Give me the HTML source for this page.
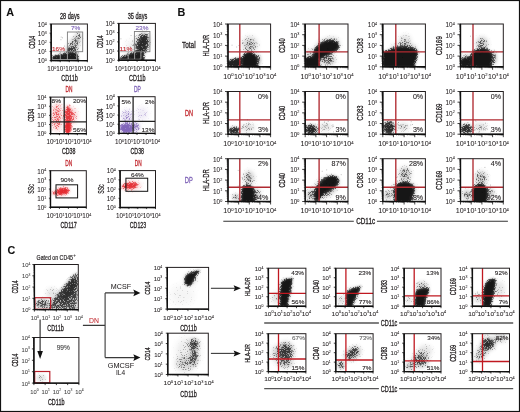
<!DOCTYPE html>
<html><head><meta charset="utf-8"><style>
html,body{margin:0;padding:0;background:#fff;width:520px;height:412px;overflow:hidden;font-family:"Liberation Sans", sans-serif;}
svg{display:block;will-change:transform;}
</style></head><body>
<svg width="520" height="412" viewBox="0 0 520 412" font-family='"Liberation Sans", sans-serif'>
<defs><filter id="b1" x="-50%" y="-50%" width="200%" height="200%"><feGaussianBlur stdDeviation="0.1"/></filter><filter id="b2" x="-50%" y="-50%" width="200%" height="200%"><feGaussianBlur stdDeviation="0.2"/></filter><filter id="b3" x="-50%" y="-50%" width="200%" height="200%"><feGaussianBlur stdDeviation="0.3"/></filter><filter id="b4" x="-50%" y="-50%" width="200%" height="200%"><feGaussianBlur stdDeviation="0.4"/></filter><filter id="b5" x="-50%" y="-50%" width="200%" height="200%"><feGaussianBlur stdDeviation="0.5"/></filter><filter id="b6" x="-50%" y="-50%" width="200%" height="200%"><feGaussianBlur stdDeviation="0.6"/></filter><filter id="b7" x="-50%" y="-50%" width="200%" height="200%"><feGaussianBlur stdDeviation="0.7"/></filter><filter id="b8" x="-50%" y="-50%" width="200%" height="200%"><feGaussianBlur stdDeviation="0.8"/></filter><filter id="b9" x="-50%" y="-50%" width="200%" height="200%"><feGaussianBlur stdDeviation="0.9"/></filter><filter id="b10" x="-50%" y="-50%" width="200%" height="200%"><feGaussianBlur stdDeviation="1.0"/></filter><filter id="b11" x="-50%" y="-50%" width="200%" height="200%"><feGaussianBlur stdDeviation="1.1"/></filter><filter id="b12" x="-50%" y="-50%" width="200%" height="200%"><feGaussianBlur stdDeviation="1.2"/></filter><filter id="b13" x="-50%" y="-50%" width="200%" height="200%"><feGaussianBlur stdDeviation="1.3"/></filter><filter id="b14" x="-50%" y="-50%" width="200%" height="200%"><feGaussianBlur stdDeviation="1.4"/></filter><filter id="b15" x="-50%" y="-50%" width="200%" height="200%"><feGaussianBlur stdDeviation="1.5"/></filter><filter id="b16" x="-50%" y="-50%" width="200%" height="200%"><feGaussianBlur stdDeviation="1.6"/></filter><filter id="b17" x="-50%" y="-50%" width="200%" height="200%"><feGaussianBlur stdDeviation="1.7"/></filter><filter id="b18" x="-50%" y="-50%" width="200%" height="200%"><feGaussianBlur stdDeviation="1.8"/></filter><filter id="b19" x="-50%" y="-50%" width="200%" height="200%"><feGaussianBlur stdDeviation="1.9"/></filter><filter id="b20" x="-50%" y="-50%" width="200%" height="200%"><feGaussianBlur stdDeviation="2.0"/></filter><filter id="b21" x="-50%" y="-50%" width="200%" height="200%"><feGaussianBlur stdDeviation="2.1"/></filter><filter id="b22" x="-50%" y="-50%" width="200%" height="200%"><feGaussianBlur stdDeviation="2.2"/></filter><filter id="b23" x="-50%" y="-50%" width="200%" height="200%"><feGaussianBlur stdDeviation="2.3"/></filter><filter id="b24" x="-50%" y="-50%" width="200%" height="200%"><feGaussianBlur stdDeviation="2.4"/></filter><filter id="b25" x="-50%" y="-50%" width="200%" height="200%"><feGaussianBlur stdDeviation="2.5"/></filter><filter id="b26" x="-50%" y="-50%" width="200%" height="200%"><feGaussianBlur stdDeviation="2.6"/></filter><filter id="b27" x="-50%" y="-50%" width="200%" height="200%"><feGaussianBlur stdDeviation="2.7"/></filter><filter id="b28" x="-50%" y="-50%" width="200%" height="200%"><feGaussianBlur stdDeviation="2.8"/></filter><filter id="b29" x="-50%" y="-50%" width="200%" height="200%"><feGaussianBlur stdDeviation="2.9"/></filter><filter id="b30" x="-50%" y="-50%" width="200%" height="200%"><feGaussianBlur stdDeviation="3.0"/></filter></defs>
<defs><filter id="spkK" filterUnits="userSpaceOnUse" x="0" y="0" width="520" height="412" color-interpolation-filters="sRGB"><feTurbulence type="fractalNoise" baseFrequency="1.29" numOctaves="2" seed="3" result="n"/><feColorMatrix in="n" type="matrix" values="0 0 0 0 0  0 0 0 0 0  0 0 0 0 0  2.5 0 0 0 -0.75" result="na"/><feComposite in="SourceAlpha" in2="na" operator="arithmetic" k2="3.212" k3="-2.2" k4="0" result="m"/><feComposite in="SourceAlpha" in2="m" operator="arithmetic" k2="0.5" k3="0.5" k4="0" result="m2"/><feGaussianBlur in="m2" stdDeviation="0.5" result="mb"/><feFlood flood-color="#161616"/><feComposite in2="mb" operator="in"/></filter><filter id="spkR" filterUnits="userSpaceOnUse" x="0" y="0" width="520" height="412" color-interpolation-filters="sRGB"><feTurbulence type="fractalNoise" baseFrequency="1.29" numOctaves="2" seed="5" result="n"/><feColorMatrix in="n" type="matrix" values="0 0 0 0 0  0 0 0 0 0  0 0 0 0 0  2.5 0 0 0 -0.75" result="na"/><feComposite in="SourceAlpha" in2="na" operator="arithmetic" k2="3.212" k3="-2.2" k4="0" result="m"/><feComposite in="SourceAlpha" in2="m" operator="arithmetic" k2="0.5" k3="0.5" k4="0" result="m2"/><feGaussianBlur in="m2" stdDeviation="0.5" result="mb"/><feFlood flood-color="#e3262c"/><feComposite in2="mb" operator="in"/></filter><filter id="spkP" filterUnits="userSpaceOnUse" x="0" y="0" width="520" height="412" color-interpolation-filters="sRGB"><feTurbulence type="fractalNoise" baseFrequency="1.29" numOctaves="2" seed="7" result="n"/><feColorMatrix in="n" type="matrix" values="0 0 0 0 0  0 0 0 0 0  0 0 0 0 0  2.5 0 0 0 -0.75" result="na"/><feComposite in="SourceAlpha" in2="na" operator="arithmetic" k2="3.212" k3="-2.2" k4="0" result="m"/><feComposite in="SourceAlpha" in2="m" operator="arithmetic" k2="0.5" k3="0.5" k4="0" result="m2"/><feGaussianBlur in="m2" stdDeviation="0.5" result="mb"/><feFlood flood-color="#7a5cb6"/><feComposite in2="mb" operator="in"/></filter><filter id="spkG" filterUnits="userSpaceOnUse" x="0" y="0" width="520" height="412" color-interpolation-filters="sRGB"><feTurbulence type="fractalNoise" baseFrequency="1.29" numOctaves="2" seed="9" result="n"/><feColorMatrix in="n" type="matrix" values="0 0 0 0 0  0 0 0 0 0  0 0 0 0 0  2.5 0 0 0 -0.75" result="na"/><feComposite in="SourceAlpha" in2="na" operator="arithmetic" k2="3.212" k3="-2.2" k4="0" result="m"/><feComposite in="SourceAlpha" in2="m" operator="arithmetic" k2="0.5" k3="0.5" k4="0" result="m2"/><feGaussianBlur in="m2" stdDeviation="0.5" result="mb"/><feFlood flood-color="#555"/><feComposite in2="mb" operator="in"/></filter></defs>
<rect x="0" y="0" width="520" height="412" fill="#fff"/>
<text transform="translate(6.20,15.80)" font-size="10.8" fill="#111" text-anchor="start" font-weight="bold" stroke="#111" stroke-width="0.06">A</text>
<text transform="translate(177.60,16.00)" font-size="10.8" fill="#111" text-anchor="start" font-weight="bold" stroke="#111" stroke-width="0.06">B</text>
<text transform="translate(7.60,254.30)" font-size="10.8" fill="#111" text-anchor="start" font-weight="bold" stroke="#111" stroke-width="0.06">C</text>
<clipPath id="c1"><rect x="51.20" y="24.00" width="36.20" height="36.60"/></clipPath><g clip-path="url(#c1)">
<g filter="url(#spkK)">
<path d="M52.00 61.00 L52.00 57.00 L56.00 55.50 L61.00 54.50 L66.00 53.20 L72.00 52.80 L77.00 53.00 L78.50 61.00Z" fill="#000" fill-opacity="0.35" stroke="#000" stroke-opacity="0.35" stroke-width="1.6" stroke-linejoin="round" filter="url(#b12)"/>
<path d="M52.00 61.00 L52.00 57.00 L56.00 55.50 L61.00 54.50 L66.00 53.20 L72.00 52.80 L77.00 53.00 L78.50 61.00Z" fill="#000" fill-opacity="0.892" filter="url(#b10)"/>
<ellipse cx="73.50" cy="45.50" rx="5.00" ry="8.50" transform="rotate(30 73.50 45.50)" fill="#000" fill-opacity="0.489" filter="url(#b20)"/>
<ellipse cx="71.00" cy="50.00" rx="6.00" ry="3.00" transform="rotate(0 71.00 50.00)" fill="#000" fill-opacity="0.489" filter="url(#b15)"/>
<ellipse cx="78.00" cy="37.00" rx="3.50" ry="5.00" transform="rotate(20 78.00 37.00)" fill="#000" fill-opacity="0.368" filter="url(#b15)"/>
</g>
<path transform="scale(.1)" d="M640 461h7M621 378h7M608 371h7M644 534h7M606 397h7" stroke="#000" stroke-width="7" stroke-opacity="0.5" fill="none"/>
</g>
<path d="M52.1 51.7H67.4M60.3 51.7V59.6M67.4 51.7V59.6M76.7 51.7V59.6M52.1 59.6H76.7" stroke="#a8a8a8" stroke-width="0.9" fill="none"/>
<rect x="67.40" y="32.00" width="15.30" height="19.70" fill="none" stroke="#7d7d7d" stroke-width="0.9"/>
<rect x="51.20" y="24.00" width="36.20" height="36.60" fill="none" stroke="#231f20" stroke-width="1.0"/>
<path d="M51.20 24.00V60.60H87.40" fill="none" stroke="#111" stroke-width="1.4"/>
<path d="M51.20 60.60v1.6M51.20 60.60h-1.6M60.25 60.60v1.6M51.20 51.45h-1.6M69.30 60.60v1.6M51.20 42.30h-1.6M78.35 60.60v1.6M51.20 33.15h-1.6M87.40 60.60v1.6M51.20 24.00h-1.6" stroke="#111" stroke-width="0.8" fill="none"/>
<path d="M53.92 60.60v0.72M51.20 57.85h-0.72M55.52 60.60v0.72M51.20 56.23h-0.72M56.65 60.60v0.72M51.20 55.09h-0.72M57.53 60.60v0.72M51.20 54.20h-0.72M58.24 60.60v0.72M51.20 53.48h-0.72M58.85 60.60v0.72M51.20 52.87h-0.72M59.37 60.60v0.72M51.20 52.34h-0.72M59.84 60.60v0.72M51.20 51.87h-0.72M62.97 60.60v0.72M51.20 48.70h-0.72M64.57 60.60v0.72M51.20 47.08h-0.72M65.70 60.60v0.72M51.20 45.94h-0.72M66.58 60.60v0.72M51.20 45.05h-0.72M67.29 60.60v0.72M51.20 44.33h-0.72M67.90 60.60v0.72M51.20 43.72h-0.72M68.42 60.60v0.72M51.20 43.19h-0.72M68.89 60.60v0.72M51.20 42.72h-0.72M72.02 60.60v0.72M51.20 39.55h-0.72M73.62 60.60v0.72M51.20 37.93h-0.72M74.75 60.60v0.72M51.20 36.79h-0.72M75.63 60.60v0.72M51.20 35.90h-0.72M76.34 60.60v0.72M51.20 35.18h-0.72M76.95 60.60v0.72M51.20 34.57h-0.72M77.47 60.60v0.72M51.20 34.04h-0.72M77.94 60.60v0.72M51.20 33.57h-0.72M81.07 60.60v0.72M51.20 30.40h-0.72M82.67 60.60v0.72M51.20 28.78h-0.72M83.80 60.60v0.72M51.20 27.64h-0.72M84.68 60.60v0.72M51.20 26.75h-0.72M85.39 60.60v0.72M51.20 26.03h-0.72M86.00 60.60v0.72M51.20 25.42h-0.72M86.52 60.60v0.72M51.20 24.89h-0.72M86.99 60.60v0.72M51.20 24.42h-0.72" stroke="#111" stroke-width="0.45" fill="none"/>
<text transform="translate(46.90,63.44)" font-size="6.3" fill="#231f20" text-anchor="end" stroke="#231f20" stroke-width="0.06">10<tspan dy="-2.27" font-size="3.65">0</tspan></text>
<text transform="translate(51.70,71.20)" font-size="6.3" fill="#231f20" text-anchor="middle" stroke="#231f20" stroke-width="0.06">10<tspan dy="-2.27" font-size="3.65">0</tspan></text>
<text transform="translate(46.90,54.29)" font-size="6.3" fill="#231f20" text-anchor="end" stroke="#231f20" stroke-width="0.06">10<tspan dy="-2.27" font-size="3.65">1</tspan></text>
<text transform="translate(60.75,71.20)" font-size="6.3" fill="#231f20" text-anchor="middle" stroke="#231f20" stroke-width="0.06">10<tspan dy="-2.27" font-size="3.65">1</tspan></text>
<text transform="translate(46.90,45.13)" font-size="6.3" fill="#231f20" text-anchor="end" stroke="#231f20" stroke-width="0.06">10<tspan dy="-2.27" font-size="3.65">2</tspan></text>
<text transform="translate(69.80,71.20)" font-size="6.3" fill="#231f20" text-anchor="middle" stroke="#231f20" stroke-width="0.06">10<tspan dy="-2.27" font-size="3.65">2</tspan></text>
<text transform="translate(46.90,35.98)" font-size="6.3" fill="#231f20" text-anchor="end" stroke="#231f20" stroke-width="0.06">10<tspan dy="-2.27" font-size="3.65">3</tspan></text>
<text transform="translate(78.85,71.20)" font-size="6.3" fill="#231f20" text-anchor="middle" stroke="#231f20" stroke-width="0.06">10<tspan dy="-2.27" font-size="3.65">3</tspan></text>
<text transform="translate(46.90,26.84)" font-size="6.3" fill="#231f20" text-anchor="end" stroke="#231f20" stroke-width="0.06">10<tspan dy="-2.27" font-size="3.65">4</tspan></text>
<text transform="translate(87.90,71.20)" font-size="6.3" fill="#231f20" text-anchor="middle" stroke="#231f20" stroke-width="0.06">10<tspan dy="-2.27" font-size="3.65">4</tspan></text>
<text transform="translate(34.93,42.30) rotate(-90)" x="0" y="0" font-size="8.8" fill="#231f20" text-anchor="middle" textLength="12.90" lengthAdjust="spacingAndGlyphs" stroke="#231f20" stroke-width="0.3">CD14</text>
<text x="69.50" y="81.00" font-size="8.5" fill="#231f20" text-anchor="middle" textLength="16.50" lengthAdjust="spacingAndGlyphs" stroke="#231f20" stroke-width="0.3">CD11b</text>
<text x="69.70" y="19.20" font-size="8.5" fill="#231f20" text-anchor="middle" textLength="19.60" lengthAdjust="spacingAndGlyphs" stroke="#231f20" stroke-width="0.3">28 days</text>
<text x="75.60" y="30.40" font-size="6.0" fill="#7b5fb5" text-anchor="middle" textLength="9.36" lengthAdjust="spacingAndGlyphs" stroke="#7b5fb5" stroke-width="0.1">7%</text>
<text x="58.50" y="51.10" font-size="6.0" fill="#c1272d" text-anchor="middle" textLength="12.97" lengthAdjust="spacingAndGlyphs" stroke="#c1272d" stroke-width="0.1">16%</text>
<clipPath id="c2"><rect x="118.80" y="23.40" width="36.60" height="36.90"/></clipPath><g clip-path="url(#c2)">
<g filter="url(#spkK)">
<path d="M120.00 61.00 L120.00 58.00 L124.00 56.00 L128.00 54.50 L133.00 53.00 L138.00 52.50 L143.00 52.50 L144.00 61.00Z" fill="#000" fill-opacity="0.35" stroke="#000" stroke-opacity="0.35" stroke-width="1.6" stroke-linejoin="round" filter="url(#b12)"/>
<path d="M120.00 61.00 L120.00 58.00 L124.00 56.00 L128.00 54.50 L133.00 53.00 L138.00 52.50 L143.00 52.50 L144.00 61.00Z" fill="#000" fill-opacity="0.892" filter="url(#b10)"/>
<path d="M136.00 53.50 L137.00 46.00 L139.00 40.00 L142.00 35.50 L146.00 34.00 L148.50 36.50 L148.50 43.00 L147.00 49.00 L145.00 53.50Z" fill="#000" fill-opacity="0.658" filter="url(#b18)"/>
<ellipse cx="142.00" cy="43.00" rx="6.50" ry="11.00" transform="rotate(15 142.00 43.00)" fill="#000" fill-opacity="0.527" filter="url(#b20)"/>
<ellipse cx="132.00" cy="47.00" rx="6.00" ry="6.00" transform="rotate(0 132.00 47.00)" fill="#000" fill-opacity="0.14" filter="url(#b30)"/>
</g>
<path transform="scale(.1)" d="M1334 445h7M1307 355h7M1298 469h7M1206 388h7M1167 330h7" stroke="#000" stroke-width="7" stroke-opacity="0.5" fill="none"/>
</g>
<path d="M120.2 51.7H134.4M128.2 51.7V59.3M134.6 51.7V59.3M140.9 51.7V59.3M120.2 59.3H140.9" stroke="#a8a8a8" stroke-width="0.9" fill="none"/>
<rect x="134.40" y="31.50" width="15.50" height="20.20" fill="none" stroke="#7d7d7d" stroke-width="0.9"/>
<rect x="118.80" y="23.40" width="36.60" height="36.90" fill="none" stroke="#231f20" stroke-width="1.0"/>
<path d="M118.80 23.40V60.30H155.40" fill="none" stroke="#111" stroke-width="1.4"/>
<path d="M118.80 60.30v1.6M118.80 60.30h-1.6M127.95 60.30v1.6M118.80 51.07h-1.6M137.10 60.30v1.6M118.80 41.85h-1.6M146.25 60.30v1.6M118.80 32.62h-1.6M155.40 60.30v1.6M118.80 23.40h-1.6" stroke="#111" stroke-width="0.8" fill="none"/>
<path d="M121.55 60.30v0.72M118.80 57.52h-0.72M123.17 60.30v0.72M118.80 55.90h-0.72M124.31 60.30v0.72M118.80 54.75h-0.72M125.20 60.30v0.72M118.80 53.85h-0.72M125.92 60.30v0.72M118.80 53.12h-0.72M126.53 60.30v0.72M118.80 52.50h-0.72M127.06 60.30v0.72M118.80 51.97h-0.72M127.53 60.30v0.72M118.80 51.50h-0.72M130.70 60.30v0.72M118.80 48.30h-0.72M132.32 60.30v0.72M118.80 46.67h-0.72M133.46 60.30v0.72M118.80 45.52h-0.72M134.35 60.30v0.72M118.80 44.63h-0.72M135.07 60.30v0.72M118.80 43.90h-0.72M135.68 60.30v0.72M118.80 43.28h-0.72M136.21 60.30v0.72M118.80 42.74h-0.72M136.68 60.30v0.72M118.80 42.27h-0.72M139.85 60.30v0.72M118.80 39.07h-0.72M141.47 60.30v0.72M118.80 37.45h-0.72M142.61 60.30v0.72M118.80 36.30h-0.72M143.50 60.30v0.72M118.80 35.40h-0.72M144.22 60.30v0.72M118.80 34.67h-0.72M144.83 60.30v0.72M118.80 34.05h-0.72M145.36 60.30v0.72M118.80 33.52h-0.72M145.83 60.30v0.72M118.80 33.05h-0.72M149.00 60.30v0.72M118.80 29.85h-0.72M150.62 60.30v0.72M118.80 28.22h-0.72M151.76 60.30v0.72M118.80 27.07h-0.72M152.65 60.30v0.72M118.80 26.18h-0.72M153.37 60.30v0.72M118.80 25.45h-0.72M153.98 60.30v0.72M118.80 24.83h-0.72M154.51 60.30v0.72M118.80 24.29h-0.72M154.98 60.30v0.72M118.80 23.82h-0.72" stroke="#111" stroke-width="0.45" fill="none"/>
<text transform="translate(114.50,63.13)" font-size="6.3" fill="#231f20" text-anchor="end" stroke="#231f20" stroke-width="0.06">10<tspan dy="-2.27" font-size="3.65">0</tspan></text>
<text transform="translate(119.30,70.90)" font-size="6.3" fill="#231f20" text-anchor="middle" stroke="#231f20" stroke-width="0.06">10<tspan dy="-2.27" font-size="3.65">0</tspan></text>
<text transform="translate(114.50,53.91)" font-size="6.3" fill="#231f20" text-anchor="end" stroke="#231f20" stroke-width="0.06">10<tspan dy="-2.27" font-size="3.65">1</tspan></text>
<text transform="translate(128.45,70.90)" font-size="6.3" fill="#231f20" text-anchor="middle" stroke="#231f20" stroke-width="0.06">10<tspan dy="-2.27" font-size="3.65">1</tspan></text>
<text transform="translate(114.50,44.68)" font-size="6.3" fill="#231f20" text-anchor="end" stroke="#231f20" stroke-width="0.06">10<tspan dy="-2.27" font-size="3.65">2</tspan></text>
<text transform="translate(137.60,70.90)" font-size="6.3" fill="#231f20" text-anchor="middle" stroke="#231f20" stroke-width="0.06">10<tspan dy="-2.27" font-size="3.65">2</tspan></text>
<text transform="translate(114.50,35.46)" font-size="6.3" fill="#231f20" text-anchor="end" stroke="#231f20" stroke-width="0.06">10<tspan dy="-2.27" font-size="3.65">3</tspan></text>
<text transform="translate(146.75,70.90)" font-size="6.3" fill="#231f20" text-anchor="middle" stroke="#231f20" stroke-width="0.06">10<tspan dy="-2.27" font-size="3.65">3</tspan></text>
<text transform="translate(114.50,26.23)" font-size="6.3" fill="#231f20" text-anchor="end" stroke="#231f20" stroke-width="0.06">10<tspan dy="-2.27" font-size="3.65">4</tspan></text>
<text transform="translate(155.90,70.90)" font-size="6.3" fill="#231f20" text-anchor="middle" stroke="#231f20" stroke-width="0.06">10<tspan dy="-2.27" font-size="3.65">4</tspan></text>
<text transform="translate(102.53,41.85) rotate(-90)" x="0" y="0" font-size="8.8" fill="#231f20" text-anchor="middle" textLength="12.90" lengthAdjust="spacingAndGlyphs" stroke="#231f20" stroke-width="0.3">CD14</text>
<text x="137.30" y="80.70" font-size="8.5" fill="#231f20" text-anchor="middle" textLength="16.50" lengthAdjust="spacingAndGlyphs" stroke="#231f20" stroke-width="0.3">CD11b</text>
<text x="137.50" y="18.60" font-size="8.5" fill="#231f20" text-anchor="middle" textLength="19.60" lengthAdjust="spacingAndGlyphs" stroke="#231f20" stroke-width="0.3">35 days</text>
<text x="142.00" y="29.80" font-size="6.0" fill="#7b5fb5" text-anchor="middle" textLength="12.97" lengthAdjust="spacingAndGlyphs" stroke="#7b5fb5" stroke-width="0.1">23%</text>
<text x="125.90" y="51.10" font-size="6.0" fill="#c1272d" text-anchor="middle" textLength="12.97" lengthAdjust="spacingAndGlyphs" stroke="#c1272d" stroke-width="0.1">11%</text>
<clipPath id="c3"><rect x="50.60" y="97.10" width="35.80" height="36.50"/></clipPath><g clip-path="url(#c3)">
<g filter="url(#spkR)">
<ellipse cx="57.00" cy="117.00" rx="5.00" ry="14.00" transform="rotate(0 57.00 117.00)" fill="#000" fill-opacity="0.508" filter="url(#b20)"/>
<ellipse cx="68.00" cy="116.00" rx="3.50" ry="11.00" transform="rotate(0 68.00 116.00)" fill="#000" fill-opacity="0.795" filter="url(#b15)"/>
<ellipse cx="68.00" cy="128.00" rx="3.50" ry="6.00" transform="rotate(0 68.00 128.00)" fill="#000" fill-opacity="0.965" filter="url(#b12)"/>
<ellipse cx="72.00" cy="116.00" rx="5.00" ry="8.00" transform="rotate(0 72.00 116.00)" fill="#000" fill-opacity="0.45" filter="url(#b20)"/>
</g>
</g>
<line x1="64.20" y1="97.10" x2="64.20" y2="133.60" stroke="#222" stroke-width="1.3"/>
<line x1="50.60" y1="121.80" x2="86.40" y2="121.80" stroke="#222" stroke-width="1.3"/>
<rect x="50.60" y="97.10" width="35.80" height="36.50" fill="none" stroke="#231f20" stroke-width="1.0"/>
<path d="M50.60 97.10V133.60H86.40" fill="none" stroke="#111" stroke-width="1.4"/>
<path d="M50.60 133.60v1.6M50.60 133.60h-1.6M59.55 133.60v1.6M50.60 124.47h-1.6M68.50 133.60v1.6M50.60 115.35h-1.6M77.45 133.60v1.6M50.60 106.22h-1.6M86.40 133.60v1.6M50.60 97.10h-1.6" stroke="#111" stroke-width="0.8" fill="none"/>
<path d="M53.29 133.60v0.72M50.60 130.85h-0.72M54.87 133.60v0.72M50.60 129.25h-0.72M55.99 133.60v0.72M50.60 128.11h-0.72M56.86 133.60v0.72M50.60 127.22h-0.72M57.56 133.60v0.72M50.60 126.50h-0.72M58.16 133.60v0.72M50.60 125.89h-0.72M58.68 133.60v0.72M50.60 125.36h-0.72M59.14 133.60v0.72M50.60 124.89h-0.72M62.24 133.60v0.72M50.60 121.73h-0.72M63.82 133.60v0.72M50.60 120.12h-0.72M64.94 133.60v0.72M50.60 118.98h-0.72M65.81 133.60v0.72M50.60 118.10h-0.72M66.51 133.60v0.72M50.60 117.37h-0.72M67.11 133.60v0.72M50.60 116.76h-0.72M67.63 133.60v0.72M50.60 116.23h-0.72M68.09 133.60v0.72M50.60 115.77h-0.72M71.19 133.60v0.72M50.60 112.60h-0.72M72.77 133.60v0.72M50.60 111.00h-0.72M73.89 133.60v0.72M50.60 109.86h-0.72M74.76 133.60v0.72M50.60 108.97h-0.72M75.46 133.60v0.72M50.60 108.25h-0.72M76.06 133.60v0.72M50.60 107.64h-0.72M76.58 133.60v0.72M50.60 107.11h-0.72M77.04 133.60v0.72M50.60 106.64h-0.72M80.14 133.60v0.72M50.60 103.48h-0.72M81.72 133.60v0.72M50.60 101.87h-0.72M82.84 133.60v0.72M50.60 100.73h-0.72M83.71 133.60v0.72M50.60 99.85h-0.72M84.41 133.60v0.72M50.60 99.12h-0.72M85.01 133.60v0.72M50.60 98.51h-0.72M85.53 133.60v0.72M50.60 97.98h-0.72M85.99 133.60v0.72M50.60 97.52h-0.72" stroke="#111" stroke-width="0.45" fill="none"/>
<text transform="translate(46.30,136.44)" font-size="6.3" fill="#231f20" text-anchor="end" stroke="#231f20" stroke-width="0.06">10<tspan dy="-2.27" font-size="3.65">0</tspan></text>
<text transform="translate(51.10,144.20)" font-size="6.3" fill="#231f20" text-anchor="middle" stroke="#231f20" stroke-width="0.06">10<tspan dy="-2.27" font-size="3.65">0</tspan></text>
<text transform="translate(46.30,127.31)" font-size="6.3" fill="#231f20" text-anchor="end" stroke="#231f20" stroke-width="0.06">10<tspan dy="-2.27" font-size="3.65">1</tspan></text>
<text transform="translate(60.05,144.20)" font-size="6.3" fill="#231f20" text-anchor="middle" stroke="#231f20" stroke-width="0.06">10<tspan dy="-2.27" font-size="3.65">1</tspan></text>
<text transform="translate(46.30,118.18)" font-size="6.3" fill="#231f20" text-anchor="end" stroke="#231f20" stroke-width="0.06">10<tspan dy="-2.27" font-size="3.65">2</tspan></text>
<text transform="translate(69.00,144.20)" font-size="6.3" fill="#231f20" text-anchor="middle" stroke="#231f20" stroke-width="0.06">10<tspan dy="-2.27" font-size="3.65">2</tspan></text>
<text transform="translate(46.30,109.06)" font-size="6.3" fill="#231f20" text-anchor="end" stroke="#231f20" stroke-width="0.06">10<tspan dy="-2.27" font-size="3.65">3</tspan></text>
<text transform="translate(77.95,144.20)" font-size="6.3" fill="#231f20" text-anchor="middle" stroke="#231f20" stroke-width="0.06">10<tspan dy="-2.27" font-size="3.65">3</tspan></text>
<text transform="translate(46.30,99.93)" font-size="6.3" fill="#231f20" text-anchor="end" stroke="#231f20" stroke-width="0.06">10<tspan dy="-2.27" font-size="3.65">4</tspan></text>
<text transform="translate(86.90,144.20)" font-size="6.3" fill="#231f20" text-anchor="middle" stroke="#231f20" stroke-width="0.06">10<tspan dy="-2.27" font-size="3.65">4</tspan></text>
<text transform="translate(34.33,115.35) rotate(-90)" x="0" y="0" font-size="8.8" fill="#231f20" text-anchor="middle" textLength="12.90" lengthAdjust="spacingAndGlyphs" stroke="#231f20" stroke-width="0.3">CD34</text>
<text x="68.70" y="154.00" font-size="8.5" fill="#231f20" text-anchor="middle" textLength="13.50" lengthAdjust="spacingAndGlyphs" stroke="#231f20" stroke-width="0.3">CD38</text>
<text x="68.90" y="92.30" font-size="8.5" fill="#c1272d" text-anchor="middle" textLength="6.90" lengthAdjust="spacingAndGlyphs" stroke="#c1272d" stroke-width="0.3">DN</text>
<text x="51.60" y="102.90" font-size="6.0" fill="#231f20" text-anchor="start" textLength="9.36" lengthAdjust="spacingAndGlyphs" stroke="#231f20" stroke-width="0.1">8%</text>
<text x="85.90" y="103.20" font-size="6.0" fill="#231f20" text-anchor="end" textLength="12.97" lengthAdjust="spacingAndGlyphs" stroke="#231f20" stroke-width="0.1">20%</text>
<text x="85.90" y="132.00" font-size="6.0" fill="#231f20" text-anchor="end" textLength="12.97" lengthAdjust="spacingAndGlyphs" stroke="#231f20" stroke-width="0.1">56%</text>
<clipPath id="c4"><rect x="119.00" y="96.70" width="36.10" height="36.70"/></clipPath><g clip-path="url(#c4)">
<g filter="url(#spkP)">
<ellipse cx="126.50" cy="128.00" rx="7.50" ry="5.50" transform="rotate(0 126.50 128.00)" fill="#000" fill-opacity="0.892" filter="url(#b15)"/>
<ellipse cx="136.00" cy="127.00" rx="4.00" ry="5.00" transform="rotate(0 136.00 127.00)" fill="#000" fill-opacity="0.572" filter="url(#b15)"/>
<ellipse cx="127.00" cy="116.00" rx="5.50" ry="6.00" transform="rotate(0 127.00 116.00)" fill="#000" fill-opacity="0.431" filter="url(#b20)"/>
<ellipse cx="142.00" cy="114.00" rx="6.00" ry="7.00" transform="rotate(0 142.00 114.00)" fill="#000" fill-opacity="0.227" filter="url(#b25)"/>
</g>
</g>
<line x1="133.10" y1="96.70" x2="133.10" y2="133.40" stroke="#222" stroke-width="1.3"/>
<line x1="119.00" y1="121.40" x2="155.10" y2="121.40" stroke="#222" stroke-width="1.3"/>
<rect x="119.00" y="96.70" width="36.10" height="36.70" fill="none" stroke="#231f20" stroke-width="1.0"/>
<path d="M119.00 96.70V133.40H155.10" fill="none" stroke="#111" stroke-width="1.4"/>
<path d="M119.00 133.40v1.6M119.00 133.40h-1.6M128.03 133.40v1.6M119.00 124.23h-1.6M137.05 133.40v1.6M119.00 115.05h-1.6M146.07 133.40v1.6M119.00 105.88h-1.6M155.10 133.40v1.6M119.00 96.70h-1.6" stroke="#111" stroke-width="0.8" fill="none"/>
<path d="M121.72 133.40v0.72M119.00 130.64h-0.72M123.31 133.40v0.72M119.00 129.02h-0.72M124.43 133.40v0.72M119.00 127.88h-0.72M125.31 133.40v0.72M119.00 126.99h-0.72M126.02 133.40v0.72M119.00 126.26h-0.72M126.63 133.40v0.72M119.00 125.65h-0.72M127.15 133.40v0.72M119.00 125.11h-0.72M127.61 133.40v0.72M119.00 124.64h-0.72M130.74 133.40v0.72M119.00 121.46h-0.72M132.33 133.40v0.72M119.00 119.85h-0.72M133.46 133.40v0.72M119.00 118.70h-0.72M134.33 133.40v0.72M119.00 117.81h-0.72M135.05 133.40v0.72M119.00 117.09h-0.72M135.65 133.40v0.72M119.00 116.47h-0.72M136.18 133.40v0.72M119.00 115.94h-0.72M136.64 133.40v0.72M119.00 115.47h-0.72M139.77 133.40v0.72M119.00 112.29h-0.72M141.36 133.40v0.72M119.00 110.67h-0.72M142.48 133.40v0.72M119.00 109.53h-0.72M143.36 133.40v0.72M119.00 108.64h-0.72M144.07 133.40v0.72M119.00 107.91h-0.72M144.68 133.40v0.72M119.00 107.30h-0.72M145.20 133.40v0.72M119.00 106.76h-0.72M145.66 133.40v0.72M119.00 106.29h-0.72M148.79 133.40v0.72M119.00 103.11h-0.72M150.38 133.40v0.72M119.00 101.50h-0.72M151.51 133.40v0.72M119.00 100.35h-0.72M152.38 133.40v0.72M119.00 99.46h-0.72M153.10 133.40v0.72M119.00 98.74h-0.72M153.70 133.40v0.72M119.00 98.12h-0.72M154.23 133.40v0.72M119.00 97.59h-0.72M154.69 133.40v0.72M119.00 97.12h-0.72" stroke="#111" stroke-width="0.45" fill="none"/>
<text transform="translate(114.70,136.24)" font-size="6.3" fill="#231f20" text-anchor="end" stroke="#231f20" stroke-width="0.06">10<tspan dy="-2.27" font-size="3.65">0</tspan></text>
<text transform="translate(119.50,144.00)" font-size="6.3" fill="#231f20" text-anchor="middle" stroke="#231f20" stroke-width="0.06">10<tspan dy="-2.27" font-size="3.65">0</tspan></text>
<text transform="translate(114.70,127.06)" font-size="6.3" fill="#231f20" text-anchor="end" stroke="#231f20" stroke-width="0.06">10<tspan dy="-2.27" font-size="3.65">1</tspan></text>
<text transform="translate(128.53,144.00)" font-size="6.3" fill="#231f20" text-anchor="middle" stroke="#231f20" stroke-width="0.06">10<tspan dy="-2.27" font-size="3.65">1</tspan></text>
<text transform="translate(114.70,117.89)" font-size="6.3" fill="#231f20" text-anchor="end" stroke="#231f20" stroke-width="0.06">10<tspan dy="-2.27" font-size="3.65">2</tspan></text>
<text transform="translate(137.55,144.00)" font-size="6.3" fill="#231f20" text-anchor="middle" stroke="#231f20" stroke-width="0.06">10<tspan dy="-2.27" font-size="3.65">2</tspan></text>
<text transform="translate(114.70,108.71)" font-size="6.3" fill="#231f20" text-anchor="end" stroke="#231f20" stroke-width="0.06">10<tspan dy="-2.27" font-size="3.65">3</tspan></text>
<text transform="translate(146.57,144.00)" font-size="6.3" fill="#231f20" text-anchor="middle" stroke="#231f20" stroke-width="0.06">10<tspan dy="-2.27" font-size="3.65">3</tspan></text>
<text transform="translate(114.70,99.53)" font-size="6.3" fill="#231f20" text-anchor="end" stroke="#231f20" stroke-width="0.06">10<tspan dy="-2.27" font-size="3.65">4</tspan></text>
<text transform="translate(155.60,144.00)" font-size="6.3" fill="#231f20" text-anchor="middle" stroke="#231f20" stroke-width="0.06">10<tspan dy="-2.27" font-size="3.65">4</tspan></text>
<text transform="translate(102.73,115.05) rotate(-90)" x="0" y="0" font-size="8.8" fill="#231f20" text-anchor="middle" textLength="12.90" lengthAdjust="spacingAndGlyphs" stroke="#231f20" stroke-width="0.3">CD34</text>
<text x="137.25" y="153.80" font-size="8.5" fill="#231f20" text-anchor="middle" textLength="13.50" lengthAdjust="spacingAndGlyphs" stroke="#231f20" stroke-width="0.3">CD38</text>
<text x="137.45" y="91.90" font-size="8.5" fill="#7b5fb5" text-anchor="middle" textLength="6.90" lengthAdjust="spacingAndGlyphs" stroke="#7b5fb5" stroke-width="0.3">DP</text>
<text x="121.50" y="103.60" font-size="6.0" fill="#231f20" text-anchor="start" textLength="9.36" lengthAdjust="spacingAndGlyphs" stroke="#231f20" stroke-width="0.1">5%</text>
<text x="154.40" y="103.60" font-size="6.0" fill="#231f20" text-anchor="end" textLength="9.36" lengthAdjust="spacingAndGlyphs" stroke="#231f20" stroke-width="0.1">2%</text>
<text x="154.40" y="131.80" font-size="6.0" fill="#231f20" text-anchor="end" textLength="12.97" lengthAdjust="spacingAndGlyphs" stroke="#231f20" stroke-width="0.1">13%</text>
<clipPath id="c5"><rect x="50.50" y="170.70" width="35.80" height="36.60"/></clipPath><g clip-path="url(#c5)">
<g filter="url(#spkR)">
<ellipse cx="62.50" cy="191.50" rx="6.50" ry="3.20" transform="rotate(-10 62.50 191.50)" fill="#000" fill-opacity="0.929" filter="url(#b8)"/>
<ellipse cx="61.50" cy="191.50" rx="8.50" ry="4.20" transform="rotate(-10 61.50 191.50)" fill="#000" fill-opacity="0.48" filter="url(#b15)"/>
<ellipse cx="54.00" cy="193.00" rx="4.00" ry="1.50" transform="rotate(0 54.00 193.00)" fill="#000" fill-opacity="0.431" filter="url(#b10)"/>
</g>
</g>
<rect x="56.00" y="184.80" width="21.60" height="13.10" fill="none" stroke="#111" stroke-width="1.0"/>
<rect x="50.50" y="170.70" width="35.80" height="36.60" fill="none" stroke="#231f20" stroke-width="1.0"/>
<path d="M50.50 170.70V207.30H86.30" fill="none" stroke="#111" stroke-width="1.4"/>
<path d="M50.50 207.30v1.6M50.50 207.30h-1.6M59.45 207.30v1.6M50.50 198.15h-1.6M68.40 207.30v1.6M50.50 189.00h-1.6M77.35 207.30v1.6M50.50 179.85h-1.6M86.30 207.30v1.6M50.50 170.70h-1.6" stroke="#111" stroke-width="0.8" fill="none"/>
<path d="M53.19 207.30v0.72M50.50 204.55h-0.72M54.77 207.30v0.72M50.50 202.93h-0.72M55.89 207.30v0.72M50.50 201.79h-0.72M56.76 207.30v0.72M50.50 200.90h-0.72M57.46 207.30v0.72M50.50 200.18h-0.72M58.06 207.30v0.72M50.50 199.57h-0.72M58.58 207.30v0.72M50.50 199.04h-0.72M59.04 207.30v0.72M50.50 198.57h-0.72M62.14 207.30v0.72M50.50 195.40h-0.72M63.72 207.30v0.72M50.50 193.78h-0.72M64.84 207.30v0.72M50.50 192.64h-0.72M65.71 207.30v0.72M50.50 191.75h-0.72M66.41 207.30v0.72M50.50 191.03h-0.72M67.01 207.30v0.72M50.50 190.42h-0.72M67.53 207.30v0.72M50.50 189.89h-0.72M67.99 207.30v0.72M50.50 189.42h-0.72M71.09 207.30v0.72M50.50 186.25h-0.72M72.67 207.30v0.72M50.50 184.63h-0.72M73.79 207.30v0.72M50.50 183.49h-0.72M74.66 207.30v0.72M50.50 182.60h-0.72M75.36 207.30v0.72M50.50 181.88h-0.72M75.96 207.30v0.72M50.50 181.27h-0.72M76.48 207.30v0.72M50.50 180.74h-0.72M76.94 207.30v0.72M50.50 180.27h-0.72M80.04 207.30v0.72M50.50 177.10h-0.72M81.62 207.30v0.72M50.50 175.48h-0.72M82.74 207.30v0.72M50.50 174.34h-0.72M83.61 207.30v0.72M50.50 173.45h-0.72M84.31 207.30v0.72M50.50 172.73h-0.72M84.91 207.30v0.72M50.50 172.12h-0.72M85.43 207.30v0.72M50.50 171.59h-0.72M85.89 207.30v0.72M50.50 171.12h-0.72" stroke="#111" stroke-width="0.45" fill="none"/>
<text transform="translate(46.20,210.14)" font-size="6.3" fill="#231f20" text-anchor="end" stroke="#231f20" stroke-width="0.06">10<tspan dy="-2.27" font-size="3.65">0</tspan></text>
<text transform="translate(51.00,217.90)" font-size="6.3" fill="#231f20" text-anchor="middle" stroke="#231f20" stroke-width="0.06">10<tspan dy="-2.27" font-size="3.65">0</tspan></text>
<text transform="translate(46.20,200.99)" font-size="6.3" fill="#231f20" text-anchor="end" stroke="#231f20" stroke-width="0.06">10<tspan dy="-2.27" font-size="3.65">1</tspan></text>
<text transform="translate(59.95,217.90)" font-size="6.3" fill="#231f20" text-anchor="middle" stroke="#231f20" stroke-width="0.06">10<tspan dy="-2.27" font-size="3.65">1</tspan></text>
<text transform="translate(46.20,191.84)" font-size="6.3" fill="#231f20" text-anchor="end" stroke="#231f20" stroke-width="0.06">10<tspan dy="-2.27" font-size="3.65">2</tspan></text>
<text transform="translate(68.90,217.90)" font-size="6.3" fill="#231f20" text-anchor="middle" stroke="#231f20" stroke-width="0.06">10<tspan dy="-2.27" font-size="3.65">2</tspan></text>
<text transform="translate(46.20,182.69)" font-size="6.3" fill="#231f20" text-anchor="end" stroke="#231f20" stroke-width="0.06">10<tspan dy="-2.27" font-size="3.65">3</tspan></text>
<text transform="translate(77.85,217.90)" font-size="6.3" fill="#231f20" text-anchor="middle" stroke="#231f20" stroke-width="0.06">10<tspan dy="-2.27" font-size="3.65">3</tspan></text>
<text transform="translate(46.20,173.53)" font-size="6.3" fill="#231f20" text-anchor="end" stroke="#231f20" stroke-width="0.06">10<tspan dy="-2.27" font-size="3.65">4</tspan></text>
<text transform="translate(86.80,217.90)" font-size="6.3" fill="#231f20" text-anchor="middle" stroke="#231f20" stroke-width="0.06">10<tspan dy="-2.27" font-size="3.65">4</tspan></text>
<text transform="translate(34.23,189.00) rotate(-90)" x="0" y="0" font-size="8.8" fill="#231f20" text-anchor="middle" textLength="9.40" lengthAdjust="spacingAndGlyphs" stroke="#231f20" stroke-width="0.3">SSc</text>
<text x="68.60" y="227.70" font-size="8.5" fill="#231f20" text-anchor="middle" textLength="16.40" lengthAdjust="spacingAndGlyphs" stroke="#231f20" stroke-width="0.3">CD117</text>
<text x="68.80" y="165.90" font-size="8.5" fill="#c1272d" text-anchor="middle" textLength="6.90" lengthAdjust="spacingAndGlyphs" stroke="#c1272d" stroke-width="0.3">DN</text>
<text x="67.00" y="182.30" font-size="6.0" fill="#231f20" text-anchor="middle" textLength="12.97" lengthAdjust="spacingAndGlyphs" stroke="#231f20" stroke-width="0.1">90%</text>
<clipPath id="c6"><rect x="120.10" y="170.60" width="35.40" height="36.90"/></clipPath><g clip-path="url(#c6)">
<g filter="url(#spkR)">
<ellipse cx="130.50" cy="185.60" rx="7.00" ry="3.00" transform="rotate(-5 130.50 185.60)" fill="#000" fill-opacity="0.818" filter="url(#b10)"/>
<ellipse cx="131.50" cy="185.50" rx="9.50" ry="4.50" transform="rotate(0 131.50 185.50)" fill="#000" fill-opacity="0.41" filter="url(#b20)"/>
<ellipse cx="122.50" cy="187.00" rx="4.00" ry="2.00" transform="rotate(0 122.50 187.00)" fill="#000" fill-opacity="0.48" filter="url(#b10)"/>
</g>
</g>
<rect x="125.90" y="178.20" width="21.80" height="13.10" fill="none" stroke="#111" stroke-width="1.0"/>
<rect x="120.10" y="170.60" width="35.40" height="36.90" fill="none" stroke="#231f20" stroke-width="1.0"/>
<path d="M120.10 170.60V207.50H155.50" fill="none" stroke="#111" stroke-width="1.4"/>
<path d="M120.10 207.50v1.6M120.10 207.50h-1.6M128.95 207.50v1.6M120.10 198.28h-1.6M137.80 207.50v1.6M120.10 189.05h-1.6M146.65 207.50v1.6M120.10 179.82h-1.6M155.50 207.50v1.6M120.10 170.60h-1.6" stroke="#111" stroke-width="0.8" fill="none"/>
<path d="M122.76 207.50v0.72M120.10 204.72h-0.72M124.32 207.50v0.72M120.10 203.10h-0.72M125.43 207.50v0.72M120.10 201.95h-0.72M126.29 207.50v0.72M120.10 201.05h-0.72M126.99 207.50v0.72M120.10 200.32h-0.72M127.58 207.50v0.72M120.10 199.70h-0.72M128.09 207.50v0.72M120.10 199.17h-0.72M128.55 207.50v0.72M120.10 198.70h-0.72M131.61 207.50v0.72M120.10 195.50h-0.72M133.17 207.50v0.72M120.10 193.87h-0.72M134.28 207.50v0.72M120.10 192.72h-0.72M135.14 207.50v0.72M120.10 191.83h-0.72M135.84 207.50v0.72M120.10 191.10h-0.72M136.43 207.50v0.72M120.10 190.48h-0.72M136.94 207.50v0.72M120.10 189.94h-0.72M137.40 207.50v0.72M120.10 189.47h-0.72M140.46 207.50v0.72M120.10 186.27h-0.72M142.02 207.50v0.72M120.10 184.65h-0.72M143.13 207.50v0.72M120.10 183.50h-0.72M143.99 207.50v0.72M120.10 182.60h-0.72M144.69 207.50v0.72M120.10 181.87h-0.72M145.28 207.50v0.72M120.10 181.25h-0.72M145.79 207.50v0.72M120.10 180.72h-0.72M146.25 207.50v0.72M120.10 180.25h-0.72M149.31 207.50v0.72M120.10 177.05h-0.72M150.87 207.50v0.72M120.10 175.42h-0.72M151.98 207.50v0.72M120.10 174.27h-0.72M152.84 207.50v0.72M120.10 173.38h-0.72M153.54 207.50v0.72M120.10 172.65h-0.72M154.13 207.50v0.72M120.10 172.03h-0.72M154.64 207.50v0.72M120.10 171.49h-0.72M155.10 207.50v0.72M120.10 171.02h-0.72" stroke="#111" stroke-width="0.45" fill="none"/>
<text transform="translate(115.80,210.34)" font-size="6.3" fill="#231f20" text-anchor="end" stroke="#231f20" stroke-width="0.06">10<tspan dy="-2.27" font-size="3.65">0</tspan></text>
<text transform="translate(120.60,218.10)" font-size="6.3" fill="#231f20" text-anchor="middle" stroke="#231f20" stroke-width="0.06">10<tspan dy="-2.27" font-size="3.65">0</tspan></text>
<text transform="translate(115.80,201.11)" font-size="6.3" fill="#231f20" text-anchor="end" stroke="#231f20" stroke-width="0.06">10<tspan dy="-2.27" font-size="3.65">1</tspan></text>
<text transform="translate(129.45,218.10)" font-size="6.3" fill="#231f20" text-anchor="middle" stroke="#231f20" stroke-width="0.06">10<tspan dy="-2.27" font-size="3.65">1</tspan></text>
<text transform="translate(115.80,191.89)" font-size="6.3" fill="#231f20" text-anchor="end" stroke="#231f20" stroke-width="0.06">10<tspan dy="-2.27" font-size="3.65">2</tspan></text>
<text transform="translate(138.30,218.10)" font-size="6.3" fill="#231f20" text-anchor="middle" stroke="#231f20" stroke-width="0.06">10<tspan dy="-2.27" font-size="3.65">2</tspan></text>
<text transform="translate(115.80,182.66)" font-size="6.3" fill="#231f20" text-anchor="end" stroke="#231f20" stroke-width="0.06">10<tspan dy="-2.27" font-size="3.65">3</tspan></text>
<text transform="translate(147.15,218.10)" font-size="6.3" fill="#231f20" text-anchor="middle" stroke="#231f20" stroke-width="0.06">10<tspan dy="-2.27" font-size="3.65">3</tspan></text>
<text transform="translate(115.80,173.44)" font-size="6.3" fill="#231f20" text-anchor="end" stroke="#231f20" stroke-width="0.06">10<tspan dy="-2.27" font-size="3.65">4</tspan></text>
<text transform="translate(156.00,218.10)" font-size="6.3" fill="#231f20" text-anchor="middle" stroke="#231f20" stroke-width="0.06">10<tspan dy="-2.27" font-size="3.65">4</tspan></text>
<text transform="translate(103.83,189.05) rotate(-90)" x="0" y="0" font-size="8.8" fill="#231f20" text-anchor="middle" textLength="9.40" lengthAdjust="spacingAndGlyphs" stroke="#231f20" stroke-width="0.3">SSc</text>
<text x="138.00" y="227.90" font-size="8.5" fill="#231f20" text-anchor="middle" textLength="16.40" lengthAdjust="spacingAndGlyphs" stroke="#231f20" stroke-width="0.3">CD123</text>
<text x="138.20" y="165.80" font-size="8.5" fill="#c1272d" text-anchor="middle" textLength="6.90" lengthAdjust="spacingAndGlyphs" stroke="#c1272d" stroke-width="0.3">DN</text>
<text x="137.40" y="176.60" font-size="6.0" fill="#231f20" text-anchor="middle" textLength="12.97" lengthAdjust="spacingAndGlyphs" stroke="#231f20" stroke-width="0.1">64%</text>
<clipPath id="c7"><rect x="228.00" y="24.00" width="42.60" height="42.80"/></clipPath><g clip-path="url(#c7)">
<g filter="url(#spkK)">
<path d="M242.00 67.00 L242.30 58.00 L244.00 54.50 L247.00 52.80 L250.50 52.60 L254.00 54.00 L256.50 57.00 L257.80 67.00Z" fill="#000" fill-opacity="0.35" stroke="#000" stroke-opacity="0.35" stroke-width="1.6" stroke-linejoin="round" filter="url(#b12)"/>
<path d="M242.00 67.00 L242.30 58.00 L244.00 54.50 L247.00 52.80 L250.50 52.60 L254.00 54.00 L256.50 57.00 L257.80 67.00Z" fill="#000" fill-opacity="1.0" filter="url(#b8)"/>
<path d="M228.00 67.00 L228.00 61.00 L232.00 59.50 L237.00 58.50 L242.00 57.50 L242.00 67.00Z" fill="#000" fill-opacity="0.35" stroke="#000" stroke-opacity="0.35" stroke-width="1.6" stroke-linejoin="round" filter="url(#b12)"/>
<path d="M228.00 67.00 L228.00 61.00 L232.00 59.50 L237.00 58.50 L242.00 57.50 L242.00 67.00Z" fill="#000" fill-opacity="0.855" filter="url(#b12)"/>
<ellipse cx="250.00" cy="45.00" rx="7.00" ry="8.00" transform="rotate(0 250.00 45.00)" fill="#000" fill-opacity="0.41" filter="url(#b25)"/>
<ellipse cx="258.00" cy="60.00" rx="3.00" ry="6.00" transform="rotate(0 258.00 60.00)" fill="#000" fill-opacity="0.527" filter="url(#b15)"/>
</g>
<path transform="scale(.1)" d="M2364 470h7M2404 500h7M2504 473h7M2317 452h7M2490 491h7M2386 455h7M2425 435h7M2567 436h7M2491 537h7M2452 477h7" stroke="#000" stroke-width="7" stroke-opacity="0.5" fill="none"/>
</g>
<line x1="239.80" y1="24.00" x2="239.80" y2="66.80" stroke="#b02a31" stroke-width="1.35"/>
<line x1="228.00" y1="51.80" x2="270.60" y2="51.80" stroke="#b02a31" stroke-width="1.35"/>
<rect x="228.00" y="24.00" width="42.60" height="42.80" fill="none" stroke="#231f20" stroke-width="1.0"/>
<path d="M228.00 24.00V66.80H270.60" fill="none" stroke="#111" stroke-width="1.4"/>
<path d="M228.00 66.80v3.0M228.00 66.80h-3.0M238.65 66.80v3.0M228.00 56.10h-3.0M249.30 66.80v3.0M228.00 45.40h-3.0M259.95 66.80v3.0M228.00 34.70h-3.0M270.60 66.80v3.0M228.00 24.00h-3.0" stroke="#111" stroke-width="0.8" fill="none"/>
<path d="M231.21 66.80v1.35M228.00 63.58h-1.35M233.08 66.80v1.35M228.00 61.69h-1.35M234.41 66.80v1.35M228.00 60.36h-1.35M235.44 66.80v1.35M228.00 59.32h-1.35M236.29 66.80v1.35M228.00 58.47h-1.35M237.00 66.80v1.35M228.00 57.76h-1.35M237.62 66.80v1.35M228.00 57.14h-1.35M238.16 66.80v1.35M228.00 56.59h-1.35M241.86 66.80v1.35M228.00 52.88h-1.35M243.73 66.80v1.35M228.00 50.99h-1.35M245.06 66.80v1.35M228.00 49.66h-1.35M246.09 66.80v1.35M228.00 48.62h-1.35M246.94 66.80v1.35M228.00 47.77h-1.35M247.65 66.80v1.35M228.00 47.06h-1.35M248.27 66.80v1.35M228.00 46.44h-1.35M248.81 66.80v1.35M228.00 45.89h-1.35M252.51 66.80v1.35M228.00 42.18h-1.35M254.38 66.80v1.35M228.00 40.29h-1.35M255.71 66.80v1.35M228.00 38.96h-1.35M256.74 66.80v1.35M228.00 37.92h-1.35M257.59 66.80v1.35M228.00 37.07h-1.35M258.30 66.80v1.35M228.00 36.36h-1.35M258.92 66.80v1.35M228.00 35.74h-1.35M259.46 66.80v1.35M228.00 35.19h-1.35M263.16 66.80v1.35M228.00 31.48h-1.35M265.03 66.80v1.35M228.00 29.59h-1.35M266.36 66.80v1.35M228.00 28.26h-1.35M267.39 66.80v1.35M228.00 27.22h-1.35M268.24 66.80v1.35M228.00 26.37h-1.35M268.95 66.80v1.35M228.00 25.66h-1.35M269.57 66.80v1.35M228.00 25.04h-1.35M270.11 66.80v1.35M228.00 24.49h-1.35" stroke="#111" stroke-width="0.45" fill="none"/>
<text transform="translate(222.20,69.68)" font-size="6.4" fill="#231f20" text-anchor="end" stroke="#231f20" stroke-width="0.06">10<tspan dy="-2.30" font-size="3.71">0</tspan></text>
<text transform="translate(228.50,78.70) scale(1.12,1)" font-size="6.4" fill="#231f20" text-anchor="middle" stroke="#231f20" stroke-width="0.06">10<tspan dy="-2.30" font-size="3.71">0</tspan></text>
<text transform="translate(222.20,58.98)" font-size="6.4" fill="#231f20" text-anchor="end" stroke="#231f20" stroke-width="0.06">10<tspan dy="-2.30" font-size="3.71">1</tspan></text>
<text transform="translate(239.15,78.70) scale(1.12,1)" font-size="6.4" fill="#231f20" text-anchor="middle" stroke="#231f20" stroke-width="0.06">10<tspan dy="-2.30" font-size="3.71">1</tspan></text>
<text transform="translate(222.20,48.28)" font-size="6.4" fill="#231f20" text-anchor="end" stroke="#231f20" stroke-width="0.06">10<tspan dy="-2.30" font-size="3.71">2</tspan></text>
<text transform="translate(249.80,78.70) scale(1.12,1)" font-size="6.4" fill="#231f20" text-anchor="middle" stroke="#231f20" stroke-width="0.06">10<tspan dy="-2.30" font-size="3.71">2</tspan></text>
<text transform="translate(222.20,37.58)" font-size="6.4" fill="#231f20" text-anchor="end" stroke="#231f20" stroke-width="0.06">10<tspan dy="-2.30" font-size="3.71">3</tspan></text>
<text transform="translate(260.45,78.70) scale(1.12,1)" font-size="6.4" fill="#231f20" text-anchor="middle" stroke="#231f20" stroke-width="0.06">10<tspan dy="-2.30" font-size="3.71">3</tspan></text>
<text transform="translate(222.20,26.88)" font-size="6.4" fill="#231f20" text-anchor="end" stroke="#231f20" stroke-width="0.06">10<tspan dy="-2.30" font-size="3.71">4</tspan></text>
<text transform="translate(271.10,78.70) scale(1.12,1)" font-size="6.4" fill="#231f20" text-anchor="middle" stroke="#231f20" stroke-width="0.06">10<tspan dy="-2.30" font-size="3.71">4</tspan></text>
<text transform="translate(208.73,45.60) rotate(-90)" x="0" y="0" font-size="8.8" fill="#231f20" text-anchor="middle" textLength="21.90" lengthAdjust="spacingAndGlyphs" stroke="#231f20" stroke-width="0.3">HLA-DR</text>
<clipPath id="c8"><rect x="305.20" y="24.00" width="42.80" height="42.80"/></clipPath><g clip-path="url(#c8)">
<g filter="url(#spkK)">
<path d="M313.00 57.00 L315.00 49.00 L320.00 44.50 L326.00 41.30 L332.00 40.80 L337.00 42.50 L338.80 46.00 L337.00 49.50 L331.00 52.50 L325.00 55.50 L319.00 59.50 L316.00 62.00Z" fill="#000" fill-opacity="0.35" stroke="#000" stroke-opacity="0.35" stroke-width="1.6" stroke-linejoin="round" filter="url(#b12)"/>
<path d="M313.00 57.00 L315.00 49.00 L320.00 44.50 L326.00 41.30 L332.00 40.80 L337.00 42.50 L338.80 46.00 L337.00 49.50 L331.00 52.50 L325.00 55.50 L319.00 59.50 L316.00 62.00Z" fill="#000" fill-opacity="1.0" filter="url(#b8)"/>
<path d="M305.00 67.00 L305.00 58.00 L310.00 57.00 L316.00 57.00 L319.00 60.00 L320.00 67.00Z" fill="#000" fill-opacity="0.35" stroke="#000" stroke-opacity="0.35" stroke-width="1.6" stroke-linejoin="round" filter="url(#b12)"/>
<path d="M305.00 67.00 L305.00 58.00 L310.00 57.00 L316.00 57.00 L319.00 60.00 L320.00 67.00Z" fill="#000" fill-opacity="1.0" filter="url(#b8)"/>
<ellipse cx="328.00" cy="60.00" rx="7.00" ry="5.00" transform="rotate(0 328.00 60.00)" fill="#000" fill-opacity="0.572" filter="url(#b20)"/>
<ellipse cx="327.00" cy="47.00" rx="13.00" ry="8.00" transform="rotate(-25 327.00 47.00)" fill="#000" fill-opacity="0.48" filter="url(#b20)"/>
<ellipse cx="310.00" cy="54.00" rx="4.00" ry="4.00" transform="rotate(0 310.00 54.00)" fill="#000" fill-opacity="0.431" filter="url(#b20)"/>
</g>
<path transform="scale(.1)" d="M3274 488h7M3180 489h7M3361 391h7M3326 491h7M3221 604h7M3319 412h7M3271 519h7M3253 525h7M3261 524h7M3367 443h7" stroke="#000" stroke-width="7" stroke-opacity="0.5" fill="none"/>
</g>
<line x1="319.10" y1="24.00" x2="319.10" y2="66.80" stroke="#b02a31" stroke-width="1.35"/>
<line x1="305.20" y1="51.80" x2="348.00" y2="51.80" stroke="#b02a31" stroke-width="1.35"/>
<rect x="305.20" y="24.00" width="42.80" height="42.80" fill="none" stroke="#231f20" stroke-width="1.0"/>
<path d="M305.20 24.00V66.80H348.00" fill="none" stroke="#111" stroke-width="1.4"/>
<path d="M305.20 66.80v3.0M305.20 66.80h-3.0M315.90 66.80v3.0M305.20 56.10h-3.0M326.60 66.80v3.0M305.20 45.40h-3.0M337.30 66.80v3.0M305.20 34.70h-3.0M348.00 66.80v3.0M305.20 24.00h-3.0" stroke="#111" stroke-width="0.8" fill="none"/>
<path d="M308.42 66.80v1.35M305.20 63.58h-1.35M310.31 66.80v1.35M305.20 61.69h-1.35M311.64 66.80v1.35M305.20 60.36h-1.35M312.68 66.80v1.35M305.20 59.32h-1.35M313.53 66.80v1.35M305.20 58.47h-1.35M314.24 66.80v1.35M305.20 57.76h-1.35M314.86 66.80v1.35M305.20 57.14h-1.35M315.41 66.80v1.35M305.20 56.59h-1.35M319.12 66.80v1.35M305.20 52.88h-1.35M321.01 66.80v1.35M305.20 50.99h-1.35M322.34 66.80v1.35M305.20 49.66h-1.35M323.38 66.80v1.35M305.20 48.62h-1.35M324.23 66.80v1.35M305.20 47.77h-1.35M324.94 66.80v1.35M305.20 47.06h-1.35M325.56 66.80v1.35M305.20 46.44h-1.35M326.11 66.80v1.35M305.20 45.89h-1.35M329.82 66.80v1.35M305.20 42.18h-1.35M331.71 66.80v1.35M305.20 40.29h-1.35M333.04 66.80v1.35M305.20 38.96h-1.35M334.08 66.80v1.35M305.20 37.92h-1.35M334.93 66.80v1.35M305.20 37.07h-1.35M335.64 66.80v1.35M305.20 36.36h-1.35M336.26 66.80v1.35M305.20 35.74h-1.35M336.81 66.80v1.35M305.20 35.19h-1.35M340.52 66.80v1.35M305.20 31.48h-1.35M342.41 66.80v1.35M305.20 29.59h-1.35M343.74 66.80v1.35M305.20 28.26h-1.35M344.78 66.80v1.35M305.20 27.22h-1.35M345.63 66.80v1.35M305.20 26.37h-1.35M346.34 66.80v1.35M305.20 25.66h-1.35M346.96 66.80v1.35M305.20 25.04h-1.35M347.51 66.80v1.35M305.20 24.49h-1.35" stroke="#111" stroke-width="0.45" fill="none"/>
<text transform="translate(299.40,69.68)" font-size="6.4" fill="#231f20" text-anchor="end" stroke="#231f20" stroke-width="0.06">10<tspan dy="-2.30" font-size="3.71">0</tspan></text>
<text transform="translate(305.70,78.70) scale(1.12,1)" font-size="6.4" fill="#231f20" text-anchor="middle" stroke="#231f20" stroke-width="0.06">10<tspan dy="-2.30" font-size="3.71">0</tspan></text>
<text transform="translate(299.40,58.98)" font-size="6.4" fill="#231f20" text-anchor="end" stroke="#231f20" stroke-width="0.06">10<tspan dy="-2.30" font-size="3.71">1</tspan></text>
<text transform="translate(316.40,78.70) scale(1.12,1)" font-size="6.4" fill="#231f20" text-anchor="middle" stroke="#231f20" stroke-width="0.06">10<tspan dy="-2.30" font-size="3.71">1</tspan></text>
<text transform="translate(299.40,48.28)" font-size="6.4" fill="#231f20" text-anchor="end" stroke="#231f20" stroke-width="0.06">10<tspan dy="-2.30" font-size="3.71">2</tspan></text>
<text transform="translate(327.10,78.70) scale(1.12,1)" font-size="6.4" fill="#231f20" text-anchor="middle" stroke="#231f20" stroke-width="0.06">10<tspan dy="-2.30" font-size="3.71">2</tspan></text>
<text transform="translate(299.40,37.58)" font-size="6.4" fill="#231f20" text-anchor="end" stroke="#231f20" stroke-width="0.06">10<tspan dy="-2.30" font-size="3.71">3</tspan></text>
<text transform="translate(337.80,78.70) scale(1.12,1)" font-size="6.4" fill="#231f20" text-anchor="middle" stroke="#231f20" stroke-width="0.06">10<tspan dy="-2.30" font-size="3.71">3</tspan></text>
<text transform="translate(299.40,26.88)" font-size="6.4" fill="#231f20" text-anchor="end" stroke="#231f20" stroke-width="0.06">10<tspan dy="-2.30" font-size="3.71">4</tspan></text>
<text transform="translate(348.50,78.70) scale(1.12,1)" font-size="6.4" fill="#231f20" text-anchor="middle" stroke="#231f20" stroke-width="0.06">10<tspan dy="-2.30" font-size="3.71">4</tspan></text>
<text transform="translate(285.28,45.60) rotate(-90)" x="0" y="0" font-size="8.8" fill="#231f20" text-anchor="middle" textLength="14.40" lengthAdjust="spacingAndGlyphs" stroke="#231f20" stroke-width="0.3">CD40</text>
<clipPath id="c9"><rect x="382.80" y="24.00" width="42.60" height="42.80"/></clipPath><g clip-path="url(#c9)">
<g filter="url(#spkK)">
<path d="M383.00 67.00 L383.00 52.00 L388.00 50.50 L394.00 48.50 L400.00 47.50 L406.00 47.50 L412.00 48.50 L416.50 50.50 L417.50 54.00 L416.00 60.00 L414.00 67.00Z" fill="#000" fill-opacity="0.35" stroke="#000" stroke-opacity="0.35" stroke-width="1.6" stroke-linejoin="round" filter="url(#b12)"/>
<path d="M383.00 67.00 L383.00 52.00 L388.00 50.50 L394.00 48.50 L400.00 47.50 L406.00 47.50 L412.00 48.50 L416.50 50.50 L417.50 54.00 L416.00 60.00 L414.00 67.00Z" fill="#000" fill-opacity="1.0" filter="url(#b8)"/>
<ellipse cx="404.00" cy="50.00" rx="13.00" ry="7.00" transform="rotate(0 404.00 50.00)" fill="#000" fill-opacity="0.431" filter="url(#b20)"/>
<ellipse cx="405.00" cy="41.00" rx="6.00" ry="6.00" transform="rotate(0 405.00 41.00)" fill="#000" fill-opacity="0.265" filter="url(#b20)"/>
</g>
<path transform="scale(.1)" d="M4055 456h7M4050 413h7M4000 472h7M4104 553h7M3948 436h7M4086 364h7M4009 478h7M4129 525h7M4018 462h7M4023 575h7" stroke="#000" stroke-width="7" stroke-opacity="0.5" fill="none"/>
</g>
<line x1="395.80" y1="24.00" x2="395.80" y2="66.80" stroke="#b02a31" stroke-width="1.35"/>
<line x1="382.80" y1="51.80" x2="425.40" y2="51.80" stroke="#b02a31" stroke-width="1.35"/>
<rect x="382.80" y="24.00" width="42.60" height="42.80" fill="none" stroke="#231f20" stroke-width="1.0"/>
<path d="M382.80 24.00V66.80H425.40" fill="none" stroke="#111" stroke-width="1.4"/>
<path d="M382.80 66.80v3.0M382.80 66.80h-3.0M393.45 66.80v3.0M382.80 56.10h-3.0M404.10 66.80v3.0M382.80 45.40h-3.0M414.75 66.80v3.0M382.80 34.70h-3.0M425.40 66.80v3.0M382.80 24.00h-3.0" stroke="#111" stroke-width="0.8" fill="none"/>
<path d="M386.01 66.80v1.35M382.80 63.58h-1.35M387.88 66.80v1.35M382.80 61.69h-1.35M389.21 66.80v1.35M382.80 60.36h-1.35M390.24 66.80v1.35M382.80 59.32h-1.35M391.09 66.80v1.35M382.80 58.47h-1.35M391.80 66.80v1.35M382.80 57.76h-1.35M392.42 66.80v1.35M382.80 57.14h-1.35M392.96 66.80v1.35M382.80 56.59h-1.35M396.66 66.80v1.35M382.80 52.88h-1.35M398.53 66.80v1.35M382.80 50.99h-1.35M399.86 66.80v1.35M382.80 49.66h-1.35M400.89 66.80v1.35M382.80 48.62h-1.35M401.74 66.80v1.35M382.80 47.77h-1.35M402.45 66.80v1.35M382.80 47.06h-1.35M403.07 66.80v1.35M382.80 46.44h-1.35M403.61 66.80v1.35M382.80 45.89h-1.35M407.31 66.80v1.35M382.80 42.18h-1.35M409.18 66.80v1.35M382.80 40.29h-1.35M410.51 66.80v1.35M382.80 38.96h-1.35M411.54 66.80v1.35M382.80 37.92h-1.35M412.39 66.80v1.35M382.80 37.07h-1.35M413.10 66.80v1.35M382.80 36.36h-1.35M413.72 66.80v1.35M382.80 35.74h-1.35M414.26 66.80v1.35M382.80 35.19h-1.35M417.96 66.80v1.35M382.80 31.48h-1.35M419.83 66.80v1.35M382.80 29.59h-1.35M421.16 66.80v1.35M382.80 28.26h-1.35M422.19 66.80v1.35M382.80 27.22h-1.35M423.04 66.80v1.35M382.80 26.37h-1.35M423.75 66.80v1.35M382.80 25.66h-1.35M424.37 66.80v1.35M382.80 25.04h-1.35M424.91 66.80v1.35M382.80 24.49h-1.35" stroke="#111" stroke-width="0.45" fill="none"/>
<text transform="translate(377.00,69.68)" font-size="6.4" fill="#231f20" text-anchor="end" stroke="#231f20" stroke-width="0.06">10<tspan dy="-2.30" font-size="3.71">0</tspan></text>
<text transform="translate(383.30,78.70) scale(1.12,1)" font-size="6.4" fill="#231f20" text-anchor="middle" stroke="#231f20" stroke-width="0.06">10<tspan dy="-2.30" font-size="3.71">0</tspan></text>
<text transform="translate(377.00,58.98)" font-size="6.4" fill="#231f20" text-anchor="end" stroke="#231f20" stroke-width="0.06">10<tspan dy="-2.30" font-size="3.71">1</tspan></text>
<text transform="translate(393.95,78.70) scale(1.12,1)" font-size="6.4" fill="#231f20" text-anchor="middle" stroke="#231f20" stroke-width="0.06">10<tspan dy="-2.30" font-size="3.71">1</tspan></text>
<text transform="translate(377.00,48.28)" font-size="6.4" fill="#231f20" text-anchor="end" stroke="#231f20" stroke-width="0.06">10<tspan dy="-2.30" font-size="3.71">2</tspan></text>
<text transform="translate(404.60,78.70) scale(1.12,1)" font-size="6.4" fill="#231f20" text-anchor="middle" stroke="#231f20" stroke-width="0.06">10<tspan dy="-2.30" font-size="3.71">2</tspan></text>
<text transform="translate(377.00,37.58)" font-size="6.4" fill="#231f20" text-anchor="end" stroke="#231f20" stroke-width="0.06">10<tspan dy="-2.30" font-size="3.71">3</tspan></text>
<text transform="translate(415.25,78.70) scale(1.12,1)" font-size="6.4" fill="#231f20" text-anchor="middle" stroke="#231f20" stroke-width="0.06">10<tspan dy="-2.30" font-size="3.71">3</tspan></text>
<text transform="translate(377.00,26.88)" font-size="6.4" fill="#231f20" text-anchor="end" stroke="#231f20" stroke-width="0.06">10<tspan dy="-2.30" font-size="3.71">4</tspan></text>
<text transform="translate(425.90,78.70) scale(1.12,1)" font-size="6.4" fill="#231f20" text-anchor="middle" stroke="#231f20" stroke-width="0.06">10<tspan dy="-2.30" font-size="3.71">4</tspan></text>
<text transform="translate(363.48,45.60) rotate(-90)" x="0" y="0" font-size="8.8" fill="#231f20" text-anchor="middle" textLength="14.90" lengthAdjust="spacingAndGlyphs" stroke="#231f20" stroke-width="0.3">CD83</text>
<clipPath id="c10"><rect x="460.50" y="24.00" width="42.80" height="42.80"/></clipPath><g clip-path="url(#c10)">
<g filter="url(#spkK)">
<path d="M471.00 67.00 L471.00 55.00 L474.00 51.00 L479.00 49.00 L484.00 48.80 L489.00 50.50 L491.50 54.00 L492.00 60.00 L491.00 67.00Z" fill="#000" fill-opacity="0.35" stroke="#000" stroke-opacity="0.35" stroke-width="1.6" stroke-linejoin="round" filter="url(#b12)"/>
<path d="M471.00 67.00 L471.00 55.00 L474.00 51.00 L479.00 49.00 L484.00 48.80 L489.00 50.50 L491.50 54.00 L492.00 60.00 L491.00 67.00Z" fill="#000" fill-opacity="1.0" filter="url(#b8)"/>
<path d="M460.50 67.00 L460.50 60.00 L466.00 58.00 L471.00 57.00 L471.00 67.00Z" fill="#000" fill-opacity="0.35" stroke="#000" stroke-opacity="0.35" stroke-width="1.6" stroke-linejoin="round" filter="url(#b12)"/>
<path d="M460.50 67.00 L460.50 60.00 L466.00 58.00 L471.00 57.00 L471.00 67.00Z" fill="#000" fill-opacity="0.929" filter="url(#b10)"/>
<ellipse cx="482.00" cy="44.00" rx="6.00" ry="7.00" transform="rotate(0 482.00 44.00)" fill="#000" fill-opacity="0.431" filter="url(#b20)"/>
<ellipse cx="493.00" cy="58.00" rx="4.00" ry="7.00" transform="rotate(0 493.00 58.00)" fill="#000" fill-opacity="0.48" filter="url(#b15)"/>
<ellipse cx="467.00" cy="60.00" rx="6.00" ry="5.00" transform="rotate(0 467.00 60.00)" fill="#000" fill-opacity="0.527" filter="url(#b20)"/>
</g>
<path transform="scale(.1)" d="M4789 466h7M4844 477h7M4805 417h7M4818 457h7M4901 523h7M4817 524h7M4795 547h7M4819 519h7M4729 505h7M4701 362h7" stroke="#000" stroke-width="7" stroke-opacity="0.5" fill="none"/>
</g>
<line x1="473.00" y1="24.00" x2="473.00" y2="66.80" stroke="#b02a31" stroke-width="1.35"/>
<line x1="460.50" y1="51.80" x2="503.30" y2="51.80" stroke="#b02a31" stroke-width="1.35"/>
<rect x="460.50" y="24.00" width="42.80" height="42.80" fill="none" stroke="#231f20" stroke-width="1.0"/>
<path d="M460.50 24.00V66.80H503.30" fill="none" stroke="#111" stroke-width="1.4"/>
<path d="M460.50 66.80v3.0M460.50 66.80h-3.0M471.20 66.80v3.0M460.50 56.10h-3.0M481.90 66.80v3.0M460.50 45.40h-3.0M492.60 66.80v3.0M460.50 34.70h-3.0M503.30 66.80v3.0M460.50 24.00h-3.0" stroke="#111" stroke-width="0.8" fill="none"/>
<path d="M463.72 66.80v1.35M460.50 63.58h-1.35M465.61 66.80v1.35M460.50 61.69h-1.35M466.94 66.80v1.35M460.50 60.36h-1.35M467.98 66.80v1.35M460.50 59.32h-1.35M468.83 66.80v1.35M460.50 58.47h-1.35M469.54 66.80v1.35M460.50 57.76h-1.35M470.16 66.80v1.35M460.50 57.14h-1.35M470.71 66.80v1.35M460.50 56.59h-1.35M474.42 66.80v1.35M460.50 52.88h-1.35M476.31 66.80v1.35M460.50 50.99h-1.35M477.64 66.80v1.35M460.50 49.66h-1.35M478.68 66.80v1.35M460.50 48.62h-1.35M479.53 66.80v1.35M460.50 47.77h-1.35M480.24 66.80v1.35M460.50 47.06h-1.35M480.86 66.80v1.35M460.50 46.44h-1.35M481.41 66.80v1.35M460.50 45.89h-1.35M485.12 66.80v1.35M460.50 42.18h-1.35M487.01 66.80v1.35M460.50 40.29h-1.35M488.34 66.80v1.35M460.50 38.96h-1.35M489.38 66.80v1.35M460.50 37.92h-1.35M490.23 66.80v1.35M460.50 37.07h-1.35M490.94 66.80v1.35M460.50 36.36h-1.35M491.56 66.80v1.35M460.50 35.74h-1.35M492.11 66.80v1.35M460.50 35.19h-1.35M495.82 66.80v1.35M460.50 31.48h-1.35M497.71 66.80v1.35M460.50 29.59h-1.35M499.04 66.80v1.35M460.50 28.26h-1.35M500.08 66.80v1.35M460.50 27.22h-1.35M500.93 66.80v1.35M460.50 26.37h-1.35M501.64 66.80v1.35M460.50 25.66h-1.35M502.26 66.80v1.35M460.50 25.04h-1.35M502.81 66.80v1.35M460.50 24.49h-1.35" stroke="#111" stroke-width="0.45" fill="none"/>
<text transform="translate(454.70,69.68)" font-size="6.4" fill="#231f20" text-anchor="end" stroke="#231f20" stroke-width="0.06">10<tspan dy="-2.30" font-size="3.71">0</tspan></text>
<text transform="translate(461.00,78.70) scale(1.12,1)" font-size="6.4" fill="#231f20" text-anchor="middle" stroke="#231f20" stroke-width="0.06">10<tspan dy="-2.30" font-size="3.71">0</tspan></text>
<text transform="translate(454.70,58.98)" font-size="6.4" fill="#231f20" text-anchor="end" stroke="#231f20" stroke-width="0.06">10<tspan dy="-2.30" font-size="3.71">1</tspan></text>
<text transform="translate(471.70,78.70) scale(1.12,1)" font-size="6.4" fill="#231f20" text-anchor="middle" stroke="#231f20" stroke-width="0.06">10<tspan dy="-2.30" font-size="3.71">1</tspan></text>
<text transform="translate(454.70,48.28)" font-size="6.4" fill="#231f20" text-anchor="end" stroke="#231f20" stroke-width="0.06">10<tspan dy="-2.30" font-size="3.71">2</tspan></text>
<text transform="translate(482.40,78.70) scale(1.12,1)" font-size="6.4" fill="#231f20" text-anchor="middle" stroke="#231f20" stroke-width="0.06">10<tspan dy="-2.30" font-size="3.71">2</tspan></text>
<text transform="translate(454.70,37.58)" font-size="6.4" fill="#231f20" text-anchor="end" stroke="#231f20" stroke-width="0.06">10<tspan dy="-2.30" font-size="3.71">3</tspan></text>
<text transform="translate(493.10,78.70) scale(1.12,1)" font-size="6.4" fill="#231f20" text-anchor="middle" stroke="#231f20" stroke-width="0.06">10<tspan dy="-2.30" font-size="3.71">3</tspan></text>
<text transform="translate(454.70,26.88)" font-size="6.4" fill="#231f20" text-anchor="end" stroke="#231f20" stroke-width="0.06">10<tspan dy="-2.30" font-size="3.71">4</tspan></text>
<text transform="translate(503.80,78.70) scale(1.12,1)" font-size="6.4" fill="#231f20" text-anchor="middle" stroke="#231f20" stroke-width="0.06">10<tspan dy="-2.30" font-size="3.71">4</tspan></text>
<text transform="translate(441.58,45.60) rotate(-90)" x="0" y="0" font-size="8.8" fill="#231f20" text-anchor="middle" textLength="18.80" lengthAdjust="spacingAndGlyphs" stroke="#231f20" stroke-width="0.3">CD169</text>
<clipPath id="c11"><rect x="228.00" y="91.50" width="42.60" height="42.70"/></clipPath><g clip-path="url(#c11)">
<g filter="url(#spkK)">
<ellipse cx="234.00" cy="130.50" rx="6.00" ry="3.50" transform="rotate(0 234.00 130.50)" fill="#000" fill-opacity="0.818" filter="url(#b14)"/>
<ellipse cx="248.00" cy="128.00" rx="7.00" ry="4.00" transform="rotate(0 248.00 128.00)" fill="#000" fill-opacity="0.265" filter="url(#b20)"/>
</g>
<path transform="scale(.1)" d="M2463 1237h7M2486 1347h7M2436 1246h7M2488 1285h7M2469 1261h7M2513 1286h7M2426 1265h7M2480 1231h7M2491 1238h7M2527 1275h7M2482 1247h7M2472 1198h7M2421 1281h7M2372 1298h7" stroke="#000" stroke-width="7" stroke-opacity="0.5" fill="none"/>
</g>
<line x1="239.80" y1="91.50" x2="239.80" y2="134.20" stroke="#b02a31" stroke-width="1.35"/>
<line x1="228.00" y1="119.80" x2="270.60" y2="119.80" stroke="#b02a31" stroke-width="1.35"/>
<rect x="228.00" y="91.50" width="42.60" height="42.70" fill="none" stroke="#231f20" stroke-width="1.0"/>
<path d="M228.00 91.50V134.20H270.60" fill="none" stroke="#111" stroke-width="1.4"/>
<path d="M228.00 134.20v3.0M228.00 134.20h-3.0M238.65 134.20v3.0M228.00 123.52h-3.0M249.30 134.20v3.0M228.00 112.85h-3.0M259.95 134.20v3.0M228.00 102.17h-3.0M270.60 134.20v3.0M228.00 91.50h-3.0" stroke="#111" stroke-width="0.8" fill="none"/>
<path d="M231.21 134.20v1.35M228.00 130.99h-1.35M233.08 134.20v1.35M228.00 129.11h-1.35M234.41 134.20v1.35M228.00 127.77h-1.35M235.44 134.20v1.35M228.00 126.74h-1.35M236.29 134.20v1.35M228.00 125.89h-1.35M237.00 134.20v1.35M228.00 125.18h-1.35M237.62 134.20v1.35M228.00 124.56h-1.35M238.16 134.20v1.35M228.00 124.01h-1.35M241.86 134.20v1.35M228.00 120.31h-1.35M243.73 134.20v1.35M228.00 118.43h-1.35M245.06 134.20v1.35M228.00 117.10h-1.35M246.09 134.20v1.35M228.00 116.06h-1.35M246.94 134.20v1.35M228.00 115.22h-1.35M247.65 134.20v1.35M228.00 114.50h-1.35M248.27 134.20v1.35M228.00 113.88h-1.35M248.81 134.20v1.35M228.00 113.34h-1.35M252.51 134.20v1.35M228.00 109.64h-1.35M254.38 134.20v1.35M228.00 107.76h-1.35M255.71 134.20v1.35M228.00 106.42h-1.35M256.74 134.20v1.35M228.00 105.39h-1.35M257.59 134.20v1.35M228.00 104.54h-1.35M258.30 134.20v1.35M228.00 103.83h-1.35M258.92 134.20v1.35M228.00 103.21h-1.35M259.46 134.20v1.35M228.00 102.66h-1.35M263.16 134.20v1.35M228.00 98.96h-1.35M265.03 134.20v1.35M228.00 97.08h-1.35M266.36 134.20v1.35M228.00 95.75h-1.35M267.39 134.20v1.35M228.00 94.71h-1.35M268.24 134.20v1.35M228.00 93.87h-1.35M268.95 134.20v1.35M228.00 93.15h-1.35M269.57 134.20v1.35M228.00 92.53h-1.35M270.11 134.20v1.35M228.00 91.99h-1.35" stroke="#111" stroke-width="0.45" fill="none"/>
<text transform="translate(222.20,137.08)" font-size="6.4" fill="#231f20" text-anchor="end" stroke="#231f20" stroke-width="0.06">10<tspan dy="-2.30" font-size="3.71">0</tspan></text>
<text transform="translate(228.50,146.10) scale(1.12,1)" font-size="6.4" fill="#231f20" text-anchor="middle" stroke="#231f20" stroke-width="0.06">10<tspan dy="-2.30" font-size="3.71">0</tspan></text>
<text transform="translate(222.20,126.40)" font-size="6.4" fill="#231f20" text-anchor="end" stroke="#231f20" stroke-width="0.06">10<tspan dy="-2.30" font-size="3.71">1</tspan></text>
<text transform="translate(239.15,146.10) scale(1.12,1)" font-size="6.4" fill="#231f20" text-anchor="middle" stroke="#231f20" stroke-width="0.06">10<tspan dy="-2.30" font-size="3.71">1</tspan></text>
<text transform="translate(222.20,115.73)" font-size="6.4" fill="#231f20" text-anchor="end" stroke="#231f20" stroke-width="0.06">10<tspan dy="-2.30" font-size="3.71">2</tspan></text>
<text transform="translate(249.80,146.10) scale(1.12,1)" font-size="6.4" fill="#231f20" text-anchor="middle" stroke="#231f20" stroke-width="0.06">10<tspan dy="-2.30" font-size="3.71">2</tspan></text>
<text transform="translate(222.20,105.05)" font-size="6.4" fill="#231f20" text-anchor="end" stroke="#231f20" stroke-width="0.06">10<tspan dy="-2.30" font-size="3.71">3</tspan></text>
<text transform="translate(260.45,146.10) scale(1.12,1)" font-size="6.4" fill="#231f20" text-anchor="middle" stroke="#231f20" stroke-width="0.06">10<tspan dy="-2.30" font-size="3.71">3</tspan></text>
<text transform="translate(222.20,94.38)" font-size="6.4" fill="#231f20" text-anchor="end" stroke="#231f20" stroke-width="0.06">10<tspan dy="-2.30" font-size="3.71">4</tspan></text>
<text transform="translate(271.10,146.10) scale(1.12,1)" font-size="6.4" fill="#231f20" text-anchor="middle" stroke="#231f20" stroke-width="0.06">10<tspan dy="-2.30" font-size="3.71">4</tspan></text>
<text transform="translate(208.73,113.05) rotate(-90)" x="0" y="0" font-size="8.8" fill="#231f20" text-anchor="middle" textLength="21.90" lengthAdjust="spacingAndGlyphs" stroke="#231f20" stroke-width="0.3">HLA-DR</text>
<text x="268.40" y="99.20" font-size="6.6" fill="#231f20" text-anchor="end" textLength="10.30" lengthAdjust="spacingAndGlyphs" stroke="#231f20" stroke-width="0.1">0%</text>
<text x="268.40" y="132.30" font-size="6.6" fill="#231f20" text-anchor="end" textLength="10.30" lengthAdjust="spacingAndGlyphs" stroke="#231f20" stroke-width="0.1">3%</text>
<clipPath id="c12"><rect x="305.20" y="91.50" width="42.80" height="42.70"/></clipPath><g clip-path="url(#c12)">
<g filter="url(#spkK)">
<ellipse cx="311.00" cy="129.50" rx="6.50" ry="5.00" transform="rotate(0 311.00 129.50)" fill="#000" fill-opacity="0.84" filter="url(#b14)"/>
<ellipse cx="325.00" cy="127.00" rx="6.00" ry="4.00" transform="rotate(0 325.00 127.00)" fill="#000" fill-opacity="0.265" filter="url(#b20)"/>
</g>
<path transform="scale(.1)" d="M3184 1294h7M3229 1295h7M3278 1214h7M3333 1318h7M3268 1258h7M3263 1234h7M3326 1249h7M3268 1240h7M3240 1223h7M3334 1263h7M3319 1268h7M3236 1257h7M3243 1268h7M3252 1258h7" stroke="#000" stroke-width="7" stroke-opacity="0.5" fill="none"/>
</g>
<line x1="319.10" y1="91.50" x2="319.10" y2="134.20" stroke="#b02a31" stroke-width="1.35"/>
<line x1="305.20" y1="119.80" x2="348.00" y2="119.80" stroke="#b02a31" stroke-width="1.35"/>
<rect x="305.20" y="91.50" width="42.80" height="42.70" fill="none" stroke="#231f20" stroke-width="1.0"/>
<path d="M305.20 91.50V134.20H348.00" fill="none" stroke="#111" stroke-width="1.4"/>
<path d="M305.20 134.20v3.0M305.20 134.20h-3.0M315.90 134.20v3.0M305.20 123.52h-3.0M326.60 134.20v3.0M305.20 112.85h-3.0M337.30 134.20v3.0M305.20 102.17h-3.0M348.00 134.20v3.0M305.20 91.50h-3.0" stroke="#111" stroke-width="0.8" fill="none"/>
<path d="M308.42 134.20v1.35M305.20 130.99h-1.35M310.31 134.20v1.35M305.20 129.11h-1.35M311.64 134.20v1.35M305.20 127.77h-1.35M312.68 134.20v1.35M305.20 126.74h-1.35M313.53 134.20v1.35M305.20 125.89h-1.35M314.24 134.20v1.35M305.20 125.18h-1.35M314.86 134.20v1.35M305.20 124.56h-1.35M315.41 134.20v1.35M305.20 124.01h-1.35M319.12 134.20v1.35M305.20 120.31h-1.35M321.01 134.20v1.35M305.20 118.43h-1.35M322.34 134.20v1.35M305.20 117.10h-1.35M323.38 134.20v1.35M305.20 116.06h-1.35M324.23 134.20v1.35M305.20 115.22h-1.35M324.94 134.20v1.35M305.20 114.50h-1.35M325.56 134.20v1.35M305.20 113.88h-1.35M326.11 134.20v1.35M305.20 113.34h-1.35M329.82 134.20v1.35M305.20 109.64h-1.35M331.71 134.20v1.35M305.20 107.76h-1.35M333.04 134.20v1.35M305.20 106.42h-1.35M334.08 134.20v1.35M305.20 105.39h-1.35M334.93 134.20v1.35M305.20 104.54h-1.35M335.64 134.20v1.35M305.20 103.83h-1.35M336.26 134.20v1.35M305.20 103.21h-1.35M336.81 134.20v1.35M305.20 102.66h-1.35M340.52 134.20v1.35M305.20 98.96h-1.35M342.41 134.20v1.35M305.20 97.08h-1.35M343.74 134.20v1.35M305.20 95.75h-1.35M344.78 134.20v1.35M305.20 94.71h-1.35M345.63 134.20v1.35M305.20 93.87h-1.35M346.34 134.20v1.35M305.20 93.15h-1.35M346.96 134.20v1.35M305.20 92.53h-1.35M347.51 134.20v1.35M305.20 91.99h-1.35" stroke="#111" stroke-width="0.45" fill="none"/>
<text transform="translate(299.40,137.08)" font-size="6.4" fill="#231f20" text-anchor="end" stroke="#231f20" stroke-width="0.06">10<tspan dy="-2.30" font-size="3.71">0</tspan></text>
<text transform="translate(305.70,146.10) scale(1.12,1)" font-size="6.4" fill="#231f20" text-anchor="middle" stroke="#231f20" stroke-width="0.06">10<tspan dy="-2.30" font-size="3.71">0</tspan></text>
<text transform="translate(299.40,126.40)" font-size="6.4" fill="#231f20" text-anchor="end" stroke="#231f20" stroke-width="0.06">10<tspan dy="-2.30" font-size="3.71">1</tspan></text>
<text transform="translate(316.40,146.10) scale(1.12,1)" font-size="6.4" fill="#231f20" text-anchor="middle" stroke="#231f20" stroke-width="0.06">10<tspan dy="-2.30" font-size="3.71">1</tspan></text>
<text transform="translate(299.40,115.73)" font-size="6.4" fill="#231f20" text-anchor="end" stroke="#231f20" stroke-width="0.06">10<tspan dy="-2.30" font-size="3.71">2</tspan></text>
<text transform="translate(327.10,146.10) scale(1.12,1)" font-size="6.4" fill="#231f20" text-anchor="middle" stroke="#231f20" stroke-width="0.06">10<tspan dy="-2.30" font-size="3.71">2</tspan></text>
<text transform="translate(299.40,105.05)" font-size="6.4" fill="#231f20" text-anchor="end" stroke="#231f20" stroke-width="0.06">10<tspan dy="-2.30" font-size="3.71">3</tspan></text>
<text transform="translate(337.80,146.10) scale(1.12,1)" font-size="6.4" fill="#231f20" text-anchor="middle" stroke="#231f20" stroke-width="0.06">10<tspan dy="-2.30" font-size="3.71">3</tspan></text>
<text transform="translate(299.40,94.38)" font-size="6.4" fill="#231f20" text-anchor="end" stroke="#231f20" stroke-width="0.06">10<tspan dy="-2.30" font-size="3.71">4</tspan></text>
<text transform="translate(348.50,146.10) scale(1.12,1)" font-size="6.4" fill="#231f20" text-anchor="middle" stroke="#231f20" stroke-width="0.06">10<tspan dy="-2.30" font-size="3.71">4</tspan></text>
<text transform="translate(285.28,113.05) rotate(-90)" x="0" y="0" font-size="8.8" fill="#231f20" text-anchor="middle" textLength="14.40" lengthAdjust="spacingAndGlyphs" stroke="#231f20" stroke-width="0.3">CD40</text>
<text x="345.80" y="99.20" font-size="6.6" fill="#231f20" text-anchor="end" textLength="10.30" lengthAdjust="spacingAndGlyphs" stroke="#231f20" stroke-width="0.1">0%</text>
<text x="345.80" y="132.30" font-size="6.6" fill="#231f20" text-anchor="end" textLength="10.30" lengthAdjust="spacingAndGlyphs" stroke="#231f20" stroke-width="0.1">3%</text>
<clipPath id="c13"><rect x="382.80" y="91.50" width="42.60" height="42.70"/></clipPath><g clip-path="url(#c13)">
<g filter="url(#spkK)">
<ellipse cx="389.00" cy="127.50" rx="6.00" ry="6.50" transform="rotate(0 389.00 127.50)" fill="#000" fill-opacity="0.818" filter="url(#b15)"/>
<ellipse cx="403.00" cy="127.00" rx="6.00" ry="4.00" transform="rotate(0 403.00 127.00)" fill="#000" fill-opacity="0.265" filter="url(#b20)"/>
</g>
<path transform="scale(.1)" d="M3969 1240h7M4121 1245h7M3985 1280h7M4108 1217h7M4028 1246h7M3950 1294h7M4037 1271h7M4000 1284h7M4011 1263h7M3983 1225h7M4105 1250h7M4053 1267h7M4016 1250h7M4070 1257h7" stroke="#000" stroke-width="7" stroke-opacity="0.5" fill="none"/>
</g>
<line x1="395.80" y1="91.50" x2="395.80" y2="134.20" stroke="#b02a31" stroke-width="1.35"/>
<line x1="382.80" y1="119.80" x2="425.40" y2="119.80" stroke="#b02a31" stroke-width="1.35"/>
<rect x="382.80" y="91.50" width="42.60" height="42.70" fill="none" stroke="#231f20" stroke-width="1.0"/>
<path d="M382.80 91.50V134.20H425.40" fill="none" stroke="#111" stroke-width="1.4"/>
<path d="M382.80 134.20v3.0M382.80 134.20h-3.0M393.45 134.20v3.0M382.80 123.52h-3.0M404.10 134.20v3.0M382.80 112.85h-3.0M414.75 134.20v3.0M382.80 102.17h-3.0M425.40 134.20v3.0M382.80 91.50h-3.0" stroke="#111" stroke-width="0.8" fill="none"/>
<path d="M386.01 134.20v1.35M382.80 130.99h-1.35M387.88 134.20v1.35M382.80 129.11h-1.35M389.21 134.20v1.35M382.80 127.77h-1.35M390.24 134.20v1.35M382.80 126.74h-1.35M391.09 134.20v1.35M382.80 125.89h-1.35M391.80 134.20v1.35M382.80 125.18h-1.35M392.42 134.20v1.35M382.80 124.56h-1.35M392.96 134.20v1.35M382.80 124.01h-1.35M396.66 134.20v1.35M382.80 120.31h-1.35M398.53 134.20v1.35M382.80 118.43h-1.35M399.86 134.20v1.35M382.80 117.10h-1.35M400.89 134.20v1.35M382.80 116.06h-1.35M401.74 134.20v1.35M382.80 115.22h-1.35M402.45 134.20v1.35M382.80 114.50h-1.35M403.07 134.20v1.35M382.80 113.88h-1.35M403.61 134.20v1.35M382.80 113.34h-1.35M407.31 134.20v1.35M382.80 109.64h-1.35M409.18 134.20v1.35M382.80 107.76h-1.35M410.51 134.20v1.35M382.80 106.42h-1.35M411.54 134.20v1.35M382.80 105.39h-1.35M412.39 134.20v1.35M382.80 104.54h-1.35M413.10 134.20v1.35M382.80 103.83h-1.35M413.72 134.20v1.35M382.80 103.21h-1.35M414.26 134.20v1.35M382.80 102.66h-1.35M417.96 134.20v1.35M382.80 98.96h-1.35M419.83 134.20v1.35M382.80 97.08h-1.35M421.16 134.20v1.35M382.80 95.75h-1.35M422.19 134.20v1.35M382.80 94.71h-1.35M423.04 134.20v1.35M382.80 93.87h-1.35M423.75 134.20v1.35M382.80 93.15h-1.35M424.37 134.20v1.35M382.80 92.53h-1.35M424.91 134.20v1.35M382.80 91.99h-1.35" stroke="#111" stroke-width="0.45" fill="none"/>
<text transform="translate(377.00,137.08)" font-size="6.4" fill="#231f20" text-anchor="end" stroke="#231f20" stroke-width="0.06">10<tspan dy="-2.30" font-size="3.71">0</tspan></text>
<text transform="translate(383.30,146.10) scale(1.12,1)" font-size="6.4" fill="#231f20" text-anchor="middle" stroke="#231f20" stroke-width="0.06">10<tspan dy="-2.30" font-size="3.71">0</tspan></text>
<text transform="translate(377.00,126.40)" font-size="6.4" fill="#231f20" text-anchor="end" stroke="#231f20" stroke-width="0.06">10<tspan dy="-2.30" font-size="3.71">1</tspan></text>
<text transform="translate(393.95,146.10) scale(1.12,1)" font-size="6.4" fill="#231f20" text-anchor="middle" stroke="#231f20" stroke-width="0.06">10<tspan dy="-2.30" font-size="3.71">1</tspan></text>
<text transform="translate(377.00,115.73)" font-size="6.4" fill="#231f20" text-anchor="end" stroke="#231f20" stroke-width="0.06">10<tspan dy="-2.30" font-size="3.71">2</tspan></text>
<text transform="translate(404.60,146.10) scale(1.12,1)" font-size="6.4" fill="#231f20" text-anchor="middle" stroke="#231f20" stroke-width="0.06">10<tspan dy="-2.30" font-size="3.71">2</tspan></text>
<text transform="translate(377.00,105.05)" font-size="6.4" fill="#231f20" text-anchor="end" stroke="#231f20" stroke-width="0.06">10<tspan dy="-2.30" font-size="3.71">3</tspan></text>
<text transform="translate(415.25,146.10) scale(1.12,1)" font-size="6.4" fill="#231f20" text-anchor="middle" stroke="#231f20" stroke-width="0.06">10<tspan dy="-2.30" font-size="3.71">3</tspan></text>
<text transform="translate(377.00,94.38)" font-size="6.4" fill="#231f20" text-anchor="end" stroke="#231f20" stroke-width="0.06">10<tspan dy="-2.30" font-size="3.71">4</tspan></text>
<text transform="translate(425.90,146.10) scale(1.12,1)" font-size="6.4" fill="#231f20" text-anchor="middle" stroke="#231f20" stroke-width="0.06">10<tspan dy="-2.30" font-size="3.71">4</tspan></text>
<text transform="translate(363.48,113.05) rotate(-90)" x="0" y="0" font-size="8.8" fill="#231f20" text-anchor="middle" textLength="14.90" lengthAdjust="spacingAndGlyphs" stroke="#231f20" stroke-width="0.3">CD83</text>
<text x="423.20" y="99.20" font-size="6.6" fill="#231f20" text-anchor="end" textLength="10.30" lengthAdjust="spacingAndGlyphs" stroke="#231f20" stroke-width="0.1">0%</text>
<text x="423.20" y="132.30" font-size="6.6" fill="#231f20" text-anchor="end" textLength="10.30" lengthAdjust="spacingAndGlyphs" stroke="#231f20" stroke-width="0.1">3%</text>
<clipPath id="c14"><rect x="460.50" y="91.50" width="42.80" height="42.70"/></clipPath><g clip-path="url(#c14)">
<g filter="url(#spkK)">
<ellipse cx="466.50" cy="129.00" rx="6.00" ry="5.00" transform="rotate(0 466.50 129.00)" fill="#000" fill-opacity="0.795" filter="url(#b14)"/>
<ellipse cx="480.00" cy="127.00" rx="7.00" ry="4.00" transform="rotate(0 480.00 127.00)" fill="#000" fill-opacity="0.265" filter="url(#b20)"/>
</g>
<path transform="scale(.1)" d="M4802 1269h7M4869 1292h7M4829 1248h7M4741 1301h7M4858 1263h7M4837 1295h7M4852 1300h7M4787 1321h7M4748 1298h7M4835 1299h7M4904 1320h7M4753 1209h7M4851 1232h7M4809 1297h7" stroke="#000" stroke-width="7" stroke-opacity="0.5" fill="none"/>
</g>
<line x1="473.00" y1="91.50" x2="473.00" y2="134.20" stroke="#b02a31" stroke-width="1.35"/>
<line x1="460.50" y1="119.80" x2="503.30" y2="119.80" stroke="#b02a31" stroke-width="1.35"/>
<rect x="460.50" y="91.50" width="42.80" height="42.70" fill="none" stroke="#231f20" stroke-width="1.0"/>
<path d="M460.50 91.50V134.20H503.30" fill="none" stroke="#111" stroke-width="1.4"/>
<path d="M460.50 134.20v3.0M460.50 134.20h-3.0M471.20 134.20v3.0M460.50 123.52h-3.0M481.90 134.20v3.0M460.50 112.85h-3.0M492.60 134.20v3.0M460.50 102.17h-3.0M503.30 134.20v3.0M460.50 91.50h-3.0" stroke="#111" stroke-width="0.8" fill="none"/>
<path d="M463.72 134.20v1.35M460.50 130.99h-1.35M465.61 134.20v1.35M460.50 129.11h-1.35M466.94 134.20v1.35M460.50 127.77h-1.35M467.98 134.20v1.35M460.50 126.74h-1.35M468.83 134.20v1.35M460.50 125.89h-1.35M469.54 134.20v1.35M460.50 125.18h-1.35M470.16 134.20v1.35M460.50 124.56h-1.35M470.71 134.20v1.35M460.50 124.01h-1.35M474.42 134.20v1.35M460.50 120.31h-1.35M476.31 134.20v1.35M460.50 118.43h-1.35M477.64 134.20v1.35M460.50 117.10h-1.35M478.68 134.20v1.35M460.50 116.06h-1.35M479.53 134.20v1.35M460.50 115.22h-1.35M480.24 134.20v1.35M460.50 114.50h-1.35M480.86 134.20v1.35M460.50 113.88h-1.35M481.41 134.20v1.35M460.50 113.34h-1.35M485.12 134.20v1.35M460.50 109.64h-1.35M487.01 134.20v1.35M460.50 107.76h-1.35M488.34 134.20v1.35M460.50 106.42h-1.35M489.38 134.20v1.35M460.50 105.39h-1.35M490.23 134.20v1.35M460.50 104.54h-1.35M490.94 134.20v1.35M460.50 103.83h-1.35M491.56 134.20v1.35M460.50 103.21h-1.35M492.11 134.20v1.35M460.50 102.66h-1.35M495.82 134.20v1.35M460.50 98.96h-1.35M497.71 134.20v1.35M460.50 97.08h-1.35M499.04 134.20v1.35M460.50 95.75h-1.35M500.08 134.20v1.35M460.50 94.71h-1.35M500.93 134.20v1.35M460.50 93.87h-1.35M501.64 134.20v1.35M460.50 93.15h-1.35M502.26 134.20v1.35M460.50 92.53h-1.35M502.81 134.20v1.35M460.50 91.99h-1.35" stroke="#111" stroke-width="0.45" fill="none"/>
<text transform="translate(454.70,137.08)" font-size="6.4" fill="#231f20" text-anchor="end" stroke="#231f20" stroke-width="0.06">10<tspan dy="-2.30" font-size="3.71">0</tspan></text>
<text transform="translate(461.00,146.10) scale(1.12,1)" font-size="6.4" fill="#231f20" text-anchor="middle" stroke="#231f20" stroke-width="0.06">10<tspan dy="-2.30" font-size="3.71">0</tspan></text>
<text transform="translate(454.70,126.40)" font-size="6.4" fill="#231f20" text-anchor="end" stroke="#231f20" stroke-width="0.06">10<tspan dy="-2.30" font-size="3.71">1</tspan></text>
<text transform="translate(471.70,146.10) scale(1.12,1)" font-size="6.4" fill="#231f20" text-anchor="middle" stroke="#231f20" stroke-width="0.06">10<tspan dy="-2.30" font-size="3.71">1</tspan></text>
<text transform="translate(454.70,115.73)" font-size="6.4" fill="#231f20" text-anchor="end" stroke="#231f20" stroke-width="0.06">10<tspan dy="-2.30" font-size="3.71">2</tspan></text>
<text transform="translate(482.40,146.10) scale(1.12,1)" font-size="6.4" fill="#231f20" text-anchor="middle" stroke="#231f20" stroke-width="0.06">10<tspan dy="-2.30" font-size="3.71">2</tspan></text>
<text transform="translate(454.70,105.05)" font-size="6.4" fill="#231f20" text-anchor="end" stroke="#231f20" stroke-width="0.06">10<tspan dy="-2.30" font-size="3.71">3</tspan></text>
<text transform="translate(493.10,146.10) scale(1.12,1)" font-size="6.4" fill="#231f20" text-anchor="middle" stroke="#231f20" stroke-width="0.06">10<tspan dy="-2.30" font-size="3.71">3</tspan></text>
<text transform="translate(454.70,94.38)" font-size="6.4" fill="#231f20" text-anchor="end" stroke="#231f20" stroke-width="0.06">10<tspan dy="-2.30" font-size="3.71">4</tspan></text>
<text transform="translate(503.80,146.10) scale(1.12,1)" font-size="6.4" fill="#231f20" text-anchor="middle" stroke="#231f20" stroke-width="0.06">10<tspan dy="-2.30" font-size="3.71">4</tspan></text>
<text transform="translate(441.58,113.05) rotate(-90)" x="0" y="0" font-size="8.8" fill="#231f20" text-anchor="middle" textLength="18.80" lengthAdjust="spacingAndGlyphs" stroke="#231f20" stroke-width="0.3">CD169</text>
<text x="501.10" y="99.20" font-size="6.6" fill="#231f20" text-anchor="end" textLength="10.30" lengthAdjust="spacingAndGlyphs" stroke="#231f20" stroke-width="0.1">0%</text>
<text x="501.10" y="132.30" font-size="6.6" fill="#231f20" text-anchor="end" textLength="10.30" lengthAdjust="spacingAndGlyphs" stroke="#231f20" stroke-width="0.1">3%</text>
<clipPath id="c15"><rect x="228.00" y="158.70" width="42.60" height="42.80"/></clipPath><g clip-path="url(#c15)">
<g filter="url(#spkK)">
<path d="M241.50 202.00 L241.80 190.00 L244.00 186.00 L248.00 185.00 L252.00 186.50 L254.00 190.00 L254.50 202.00Z" fill="#000" fill-opacity="0.35" stroke="#000" stroke-opacity="0.35" stroke-width="1.6" stroke-linejoin="round" filter="url(#b12)"/>
<path d="M241.50 202.00 L241.80 190.00 L244.00 186.00 L248.00 185.00 L252.00 186.50 L254.00 190.00 L254.50 202.00Z" fill="#000" fill-opacity="1.0" filter="url(#b8)"/>
<ellipse cx="256.00" cy="194.00" rx="4.00" ry="6.00" transform="rotate(0 256.00 194.00)" fill="#000" fill-opacity="0.48" filter="url(#b20)"/>
<ellipse cx="249.00" cy="178.00" rx="5.00" ry="7.00" transform="rotate(0 249.00 178.00)" fill="#000" fill-opacity="0.431" filter="url(#b20)"/>
<ellipse cx="236.00" cy="197.00" rx="4.00" ry="3.00" transform="rotate(0 236.00 197.00)" fill="#000" fill-opacity="0.431" filter="url(#b15)"/>
</g>
<path transform="scale(.1)" d="M2378 1704h7M2511 1834h7M2476 1833h7M2433 1740h7M2481 1773h7M2378 1861h7M2489 1855h7M2424 1792h7M2423 1778h7M2507 1784h7" stroke="#000" stroke-width="7" stroke-opacity="0.5" fill="none"/>
</g>
<line x1="239.80" y1="158.70" x2="239.80" y2="201.50" stroke="#b02a31" stroke-width="1.35"/>
<line x1="228.00" y1="187.20" x2="270.60" y2="187.20" stroke="#b02a31" stroke-width="1.35"/>
<rect x="228.00" y="158.70" width="42.60" height="42.80" fill="none" stroke="#231f20" stroke-width="1.0"/>
<path d="M228.00 158.70V201.50H270.60" fill="none" stroke="#111" stroke-width="1.4"/>
<path d="M228.00 201.50v3.0M228.00 201.50h-3.0M238.65 201.50v3.0M228.00 190.80h-3.0M249.30 201.50v3.0M228.00 180.10h-3.0M259.95 201.50v3.0M228.00 169.40h-3.0M270.60 201.50v3.0M228.00 158.70h-3.0" stroke="#111" stroke-width="0.8" fill="none"/>
<path d="M231.21 201.50v1.35M228.00 198.28h-1.35M233.08 201.50v1.35M228.00 196.39h-1.35M234.41 201.50v1.35M228.00 195.06h-1.35M235.44 201.50v1.35M228.00 194.02h-1.35M236.29 201.50v1.35M228.00 193.17h-1.35M237.00 201.50v1.35M228.00 192.46h-1.35M237.62 201.50v1.35M228.00 191.84h-1.35M238.16 201.50v1.35M228.00 191.29h-1.35M241.86 201.50v1.35M228.00 187.58h-1.35M243.73 201.50v1.35M228.00 185.69h-1.35M245.06 201.50v1.35M228.00 184.36h-1.35M246.09 201.50v1.35M228.00 183.32h-1.35M246.94 201.50v1.35M228.00 182.47h-1.35M247.65 201.50v1.35M228.00 181.76h-1.35M248.27 201.50v1.35M228.00 181.14h-1.35M248.81 201.50v1.35M228.00 180.59h-1.35M252.51 201.50v1.35M228.00 176.88h-1.35M254.38 201.50v1.35M228.00 174.99h-1.35M255.71 201.50v1.35M228.00 173.66h-1.35M256.74 201.50v1.35M228.00 172.62h-1.35M257.59 201.50v1.35M228.00 171.77h-1.35M258.30 201.50v1.35M228.00 171.06h-1.35M258.92 201.50v1.35M228.00 170.44h-1.35M259.46 201.50v1.35M228.00 169.89h-1.35M263.16 201.50v1.35M228.00 166.18h-1.35M265.03 201.50v1.35M228.00 164.29h-1.35M266.36 201.50v1.35M228.00 162.96h-1.35M267.39 201.50v1.35M228.00 161.92h-1.35M268.24 201.50v1.35M228.00 161.07h-1.35M268.95 201.50v1.35M228.00 160.36h-1.35M269.57 201.50v1.35M228.00 159.74h-1.35M270.11 201.50v1.35M228.00 159.19h-1.35" stroke="#111" stroke-width="0.45" fill="none"/>
<text transform="translate(222.20,204.38)" font-size="6.4" fill="#231f20" text-anchor="end" stroke="#231f20" stroke-width="0.06">10<tspan dy="-2.30" font-size="3.71">0</tspan></text>
<text transform="translate(228.50,213.40) scale(1.12,1)" font-size="6.4" fill="#231f20" text-anchor="middle" stroke="#231f20" stroke-width="0.06">10<tspan dy="-2.30" font-size="3.71">0</tspan></text>
<text transform="translate(222.20,193.68)" font-size="6.4" fill="#231f20" text-anchor="end" stroke="#231f20" stroke-width="0.06">10<tspan dy="-2.30" font-size="3.71">1</tspan></text>
<text transform="translate(239.15,213.40) scale(1.12,1)" font-size="6.4" fill="#231f20" text-anchor="middle" stroke="#231f20" stroke-width="0.06">10<tspan dy="-2.30" font-size="3.71">1</tspan></text>
<text transform="translate(222.20,182.98)" font-size="6.4" fill="#231f20" text-anchor="end" stroke="#231f20" stroke-width="0.06">10<tspan dy="-2.30" font-size="3.71">2</tspan></text>
<text transform="translate(249.80,213.40) scale(1.12,1)" font-size="6.4" fill="#231f20" text-anchor="middle" stroke="#231f20" stroke-width="0.06">10<tspan dy="-2.30" font-size="3.71">2</tspan></text>
<text transform="translate(222.20,172.28)" font-size="6.4" fill="#231f20" text-anchor="end" stroke="#231f20" stroke-width="0.06">10<tspan dy="-2.30" font-size="3.71">3</tspan></text>
<text transform="translate(260.45,213.40) scale(1.12,1)" font-size="6.4" fill="#231f20" text-anchor="middle" stroke="#231f20" stroke-width="0.06">10<tspan dy="-2.30" font-size="3.71">3</tspan></text>
<text transform="translate(222.20,161.58)" font-size="6.4" fill="#231f20" text-anchor="end" stroke="#231f20" stroke-width="0.06">10<tspan dy="-2.30" font-size="3.71">4</tspan></text>
<text transform="translate(271.10,213.40) scale(1.12,1)" font-size="6.4" fill="#231f20" text-anchor="middle" stroke="#231f20" stroke-width="0.06">10<tspan dy="-2.30" font-size="3.71">4</tspan></text>
<text transform="translate(208.73,180.30) rotate(-90)" x="0" y="0" font-size="8.8" fill="#231f20" text-anchor="middle" textLength="21.90" lengthAdjust="spacingAndGlyphs" stroke="#231f20" stroke-width="0.3">HLA-DR</text>
<text x="268.40" y="166.40" font-size="6.6" fill="#231f20" text-anchor="end" textLength="10.30" lengthAdjust="spacingAndGlyphs" stroke="#231f20" stroke-width="0.1">2%</text>
<text x="268.40" y="199.60" font-size="6.6" fill="#231f20" text-anchor="end" textLength="14.26" lengthAdjust="spacingAndGlyphs" stroke="#231f20" stroke-width="0.1">94%</text>
<clipPath id="c16"><rect x="305.20" y="158.70" width="42.80" height="42.80"/></clipPath><g clip-path="url(#c16)">
<g filter="url(#spkK)">
<path d="M314.50 199.00 L315.00 192.00 L318.00 186.00 L323.00 180.50 L328.00 177.00 L333.00 176.00 L337.50 177.50 L338.50 181.00 L336.00 185.50 L330.00 189.50 L323.00 194.00 L319.00 199.50 L316.00 201.00Z" fill="#000" fill-opacity="0.35" stroke="#000" stroke-opacity="0.35" stroke-width="1.6" stroke-linejoin="round" filter="url(#b12)"/>
<path d="M314.50 199.00 L315.00 192.00 L318.00 186.00 L323.00 180.50 L328.00 177.00 L333.00 176.00 L337.50 177.50 L338.50 181.00 L336.00 185.50 L330.00 189.50 L323.00 194.00 L319.00 199.50 L316.00 201.00Z" fill="#000" fill-opacity="1.0" filter="url(#b8)"/>
<ellipse cx="326.00" cy="187.00" rx="14.00" ry="9.00" transform="rotate(-35 326.00 187.00)" fill="#000" fill-opacity="0.48" filter="url(#b20)"/>
<ellipse cx="311.00" cy="195.00" rx="5.00" ry="5.00" transform="rotate(0 311.00 195.00)" fill="#000" fill-opacity="0.527" filter="url(#b20)"/>
</g>
<path transform="scale(.1)" d="M3291 1851h7M3408 1747h7M3328 1826h7M3265 1744h7M3234 1876h7M3260 1836h7M3246 1900h7M3264 1699h7M3218 1713h7M3038 1799h7" stroke="#000" stroke-width="7" stroke-opacity="0.5" fill="none"/>
</g>
<line x1="319.10" y1="158.70" x2="319.10" y2="201.50" stroke="#b02a31" stroke-width="1.35"/>
<line x1="305.20" y1="187.20" x2="348.00" y2="187.20" stroke="#b02a31" stroke-width="1.35"/>
<rect x="305.20" y="158.70" width="42.80" height="42.80" fill="none" stroke="#231f20" stroke-width="1.0"/>
<path d="M305.20 158.70V201.50H348.00" fill="none" stroke="#111" stroke-width="1.4"/>
<path d="M305.20 201.50v3.0M305.20 201.50h-3.0M315.90 201.50v3.0M305.20 190.80h-3.0M326.60 201.50v3.0M305.20 180.10h-3.0M337.30 201.50v3.0M305.20 169.40h-3.0M348.00 201.50v3.0M305.20 158.70h-3.0" stroke="#111" stroke-width="0.8" fill="none"/>
<path d="M308.42 201.50v1.35M305.20 198.28h-1.35M310.31 201.50v1.35M305.20 196.39h-1.35M311.64 201.50v1.35M305.20 195.06h-1.35M312.68 201.50v1.35M305.20 194.02h-1.35M313.53 201.50v1.35M305.20 193.17h-1.35M314.24 201.50v1.35M305.20 192.46h-1.35M314.86 201.50v1.35M305.20 191.84h-1.35M315.41 201.50v1.35M305.20 191.29h-1.35M319.12 201.50v1.35M305.20 187.58h-1.35M321.01 201.50v1.35M305.20 185.69h-1.35M322.34 201.50v1.35M305.20 184.36h-1.35M323.38 201.50v1.35M305.20 183.32h-1.35M324.23 201.50v1.35M305.20 182.47h-1.35M324.94 201.50v1.35M305.20 181.76h-1.35M325.56 201.50v1.35M305.20 181.14h-1.35M326.11 201.50v1.35M305.20 180.59h-1.35M329.82 201.50v1.35M305.20 176.88h-1.35M331.71 201.50v1.35M305.20 174.99h-1.35M333.04 201.50v1.35M305.20 173.66h-1.35M334.08 201.50v1.35M305.20 172.62h-1.35M334.93 201.50v1.35M305.20 171.77h-1.35M335.64 201.50v1.35M305.20 171.06h-1.35M336.26 201.50v1.35M305.20 170.44h-1.35M336.81 201.50v1.35M305.20 169.89h-1.35M340.52 201.50v1.35M305.20 166.18h-1.35M342.41 201.50v1.35M305.20 164.29h-1.35M343.74 201.50v1.35M305.20 162.96h-1.35M344.78 201.50v1.35M305.20 161.92h-1.35M345.63 201.50v1.35M305.20 161.07h-1.35M346.34 201.50v1.35M305.20 160.36h-1.35M346.96 201.50v1.35M305.20 159.74h-1.35M347.51 201.50v1.35M305.20 159.19h-1.35" stroke="#111" stroke-width="0.45" fill="none"/>
<text transform="translate(299.40,204.38)" font-size="6.4" fill="#231f20" text-anchor="end" stroke="#231f20" stroke-width="0.06">10<tspan dy="-2.30" font-size="3.71">0</tspan></text>
<text transform="translate(305.70,213.40) scale(1.12,1)" font-size="6.4" fill="#231f20" text-anchor="middle" stroke="#231f20" stroke-width="0.06">10<tspan dy="-2.30" font-size="3.71">0</tspan></text>
<text transform="translate(299.40,193.68)" font-size="6.4" fill="#231f20" text-anchor="end" stroke="#231f20" stroke-width="0.06">10<tspan dy="-2.30" font-size="3.71">1</tspan></text>
<text transform="translate(316.40,213.40) scale(1.12,1)" font-size="6.4" fill="#231f20" text-anchor="middle" stroke="#231f20" stroke-width="0.06">10<tspan dy="-2.30" font-size="3.71">1</tspan></text>
<text transform="translate(299.40,182.98)" font-size="6.4" fill="#231f20" text-anchor="end" stroke="#231f20" stroke-width="0.06">10<tspan dy="-2.30" font-size="3.71">2</tspan></text>
<text transform="translate(327.10,213.40) scale(1.12,1)" font-size="6.4" fill="#231f20" text-anchor="middle" stroke="#231f20" stroke-width="0.06">10<tspan dy="-2.30" font-size="3.71">2</tspan></text>
<text transform="translate(299.40,172.28)" font-size="6.4" fill="#231f20" text-anchor="end" stroke="#231f20" stroke-width="0.06">10<tspan dy="-2.30" font-size="3.71">3</tspan></text>
<text transform="translate(337.80,213.40) scale(1.12,1)" font-size="6.4" fill="#231f20" text-anchor="middle" stroke="#231f20" stroke-width="0.06">10<tspan dy="-2.30" font-size="3.71">3</tspan></text>
<text transform="translate(299.40,161.58)" font-size="6.4" fill="#231f20" text-anchor="end" stroke="#231f20" stroke-width="0.06">10<tspan dy="-2.30" font-size="3.71">4</tspan></text>
<text transform="translate(348.50,213.40) scale(1.12,1)" font-size="6.4" fill="#231f20" text-anchor="middle" stroke="#231f20" stroke-width="0.06">10<tspan dy="-2.30" font-size="3.71">4</tspan></text>
<text transform="translate(285.28,180.30) rotate(-90)" x="0" y="0" font-size="8.8" fill="#231f20" text-anchor="middle" textLength="14.40" lengthAdjust="spacingAndGlyphs" stroke="#231f20" stroke-width="0.3">CD40</text>
<text x="345.80" y="166.40" font-size="6.6" fill="#231f20" text-anchor="end" textLength="14.26" lengthAdjust="spacingAndGlyphs" stroke="#231f20" stroke-width="0.1">87%</text>
<text x="345.80" y="199.60" font-size="6.6" fill="#231f20" text-anchor="end" textLength="10.30" lengthAdjust="spacingAndGlyphs" stroke="#231f20" stroke-width="0.1">9%</text>
<clipPath id="c17"><rect x="382.80" y="158.70" width="42.60" height="42.80"/></clipPath><g clip-path="url(#c17)">
<g filter="url(#spkK)">
<path d="M394.50 202.00 L394.50 190.00 L397.00 185.00 L402.00 182.50 L408.00 183.00 L413.00 186.00 L414.00 190.00 L412.00 197.00 L410.50 202.00Z" fill="#000" fill-opacity="0.35" stroke="#000" stroke-opacity="0.35" stroke-width="1.6" stroke-linejoin="round" filter="url(#b12)"/>
<path d="M394.50 202.00 L394.50 190.00 L397.00 185.00 L402.00 182.50 L408.00 183.00 L413.00 186.00 L414.00 190.00 L412.00 197.00 L410.50 202.00Z" fill="#000" fill-opacity="1.0" filter="url(#b8)"/>
<ellipse cx="405.00" cy="174.00" rx="6.00" ry="7.00" transform="rotate(0 405.00 174.00)" fill="#000" fill-opacity="0.431" filter="url(#b20)"/>
<ellipse cx="388.00" cy="195.00" rx="4.00" ry="4.00" transform="rotate(0 388.00 195.00)" fill="#000" fill-opacity="0.527" filter="url(#b20)"/>
<ellipse cx="404.00" cy="190.00" rx="12.00" ry="9.00" transform="rotate(0 404.00 190.00)" fill="#000" fill-opacity="0.431" filter="url(#b20)"/>
</g>
<path transform="scale(.1)" d="M4134 1834h7M3959 1775h7M4120 1840h7M4044 1828h7M4044 1879h7M4080 1844h7M3968 1862h7M3993 1897h7M3952 1823h7M4040 1752h7" stroke="#000" stroke-width="7" stroke-opacity="0.5" fill="none"/>
</g>
<line x1="395.80" y1="158.70" x2="395.80" y2="201.50" stroke="#b02a31" stroke-width="1.35"/>
<line x1="382.80" y1="187.20" x2="425.40" y2="187.20" stroke="#b02a31" stroke-width="1.35"/>
<rect x="382.80" y="158.70" width="42.60" height="42.80" fill="none" stroke="#231f20" stroke-width="1.0"/>
<path d="M382.80 158.70V201.50H425.40" fill="none" stroke="#111" stroke-width="1.4"/>
<path d="M382.80 201.50v3.0M382.80 201.50h-3.0M393.45 201.50v3.0M382.80 190.80h-3.0M404.10 201.50v3.0M382.80 180.10h-3.0M414.75 201.50v3.0M382.80 169.40h-3.0M425.40 201.50v3.0M382.80 158.70h-3.0" stroke="#111" stroke-width="0.8" fill="none"/>
<path d="M386.01 201.50v1.35M382.80 198.28h-1.35M387.88 201.50v1.35M382.80 196.39h-1.35M389.21 201.50v1.35M382.80 195.06h-1.35M390.24 201.50v1.35M382.80 194.02h-1.35M391.09 201.50v1.35M382.80 193.17h-1.35M391.80 201.50v1.35M382.80 192.46h-1.35M392.42 201.50v1.35M382.80 191.84h-1.35M392.96 201.50v1.35M382.80 191.29h-1.35M396.66 201.50v1.35M382.80 187.58h-1.35M398.53 201.50v1.35M382.80 185.69h-1.35M399.86 201.50v1.35M382.80 184.36h-1.35M400.89 201.50v1.35M382.80 183.32h-1.35M401.74 201.50v1.35M382.80 182.47h-1.35M402.45 201.50v1.35M382.80 181.76h-1.35M403.07 201.50v1.35M382.80 181.14h-1.35M403.61 201.50v1.35M382.80 180.59h-1.35M407.31 201.50v1.35M382.80 176.88h-1.35M409.18 201.50v1.35M382.80 174.99h-1.35M410.51 201.50v1.35M382.80 173.66h-1.35M411.54 201.50v1.35M382.80 172.62h-1.35M412.39 201.50v1.35M382.80 171.77h-1.35M413.10 201.50v1.35M382.80 171.06h-1.35M413.72 201.50v1.35M382.80 170.44h-1.35M414.26 201.50v1.35M382.80 169.89h-1.35M417.96 201.50v1.35M382.80 166.18h-1.35M419.83 201.50v1.35M382.80 164.29h-1.35M421.16 201.50v1.35M382.80 162.96h-1.35M422.19 201.50v1.35M382.80 161.92h-1.35M423.04 201.50v1.35M382.80 161.07h-1.35M423.75 201.50v1.35M382.80 160.36h-1.35M424.37 201.50v1.35M382.80 159.74h-1.35M424.91 201.50v1.35M382.80 159.19h-1.35" stroke="#111" stroke-width="0.45" fill="none"/>
<text transform="translate(377.00,204.38)" font-size="6.4" fill="#231f20" text-anchor="end" stroke="#231f20" stroke-width="0.06">10<tspan dy="-2.30" font-size="3.71">0</tspan></text>
<text transform="translate(383.30,213.40) scale(1.12,1)" font-size="6.4" fill="#231f20" text-anchor="middle" stroke="#231f20" stroke-width="0.06">10<tspan dy="-2.30" font-size="3.71">0</tspan></text>
<text transform="translate(377.00,193.68)" font-size="6.4" fill="#231f20" text-anchor="end" stroke="#231f20" stroke-width="0.06">10<tspan dy="-2.30" font-size="3.71">1</tspan></text>
<text transform="translate(393.95,213.40) scale(1.12,1)" font-size="6.4" fill="#231f20" text-anchor="middle" stroke="#231f20" stroke-width="0.06">10<tspan dy="-2.30" font-size="3.71">1</tspan></text>
<text transform="translate(377.00,182.98)" font-size="6.4" fill="#231f20" text-anchor="end" stroke="#231f20" stroke-width="0.06">10<tspan dy="-2.30" font-size="3.71">2</tspan></text>
<text transform="translate(404.60,213.40) scale(1.12,1)" font-size="6.4" fill="#231f20" text-anchor="middle" stroke="#231f20" stroke-width="0.06">10<tspan dy="-2.30" font-size="3.71">2</tspan></text>
<text transform="translate(377.00,172.28)" font-size="6.4" fill="#231f20" text-anchor="end" stroke="#231f20" stroke-width="0.06">10<tspan dy="-2.30" font-size="3.71">3</tspan></text>
<text transform="translate(415.25,213.40) scale(1.12,1)" font-size="6.4" fill="#231f20" text-anchor="middle" stroke="#231f20" stroke-width="0.06">10<tspan dy="-2.30" font-size="3.71">3</tspan></text>
<text transform="translate(377.00,161.58)" font-size="6.4" fill="#231f20" text-anchor="end" stroke="#231f20" stroke-width="0.06">10<tspan dy="-2.30" font-size="3.71">4</tspan></text>
<text transform="translate(425.90,213.40) scale(1.12,1)" font-size="6.4" fill="#231f20" text-anchor="middle" stroke="#231f20" stroke-width="0.06">10<tspan dy="-2.30" font-size="3.71">4</tspan></text>
<text transform="translate(363.48,180.30) rotate(-90)" x="0" y="0" font-size="8.8" fill="#231f20" text-anchor="middle" textLength="14.90" lengthAdjust="spacingAndGlyphs" stroke="#231f20" stroke-width="0.3">CD83</text>
<text x="423.20" y="166.40" font-size="6.6" fill="#231f20" text-anchor="end" textLength="14.26" lengthAdjust="spacingAndGlyphs" stroke="#231f20" stroke-width="0.1">28%</text>
<text x="423.20" y="199.60" font-size="6.6" fill="#231f20" text-anchor="end" textLength="14.26" lengthAdjust="spacingAndGlyphs" stroke="#231f20" stroke-width="0.1">68%</text>
<clipPath id="c18"><rect x="460.50" y="158.70" width="42.80" height="42.80"/></clipPath><g clip-path="url(#c18)">
<g filter="url(#spkK)">
<path d="M472.50 202.00 L472.50 190.00 L475.00 185.50 L479.50 184.00 L484.00 185.00 L487.00 188.50 L487.50 195.00 L486.50 202.00Z" fill="#000" fill-opacity="0.35" stroke="#000" stroke-opacity="0.35" stroke-width="1.6" stroke-linejoin="round" filter="url(#b12)"/>
<path d="M472.50 202.00 L472.50 190.00 L475.00 185.50 L479.50 184.00 L484.00 185.00 L487.00 188.50 L487.50 195.00 L486.50 202.00Z" fill="#000" fill-opacity="1.0" filter="url(#b8)"/>
<ellipse cx="481.00" cy="178.00" rx="6.00" ry="7.00" transform="rotate(0 481.00 178.00)" fill="#000" fill-opacity="0.431" filter="url(#b20)"/>
<ellipse cx="467.00" cy="195.00" rx="4.00" ry="5.00" transform="rotate(0 467.00 195.00)" fill="#000" fill-opacity="0.527" filter="url(#b20)"/>
<ellipse cx="490.00" cy="193.00" rx="4.00" ry="5.00" transform="rotate(0 490.00 193.00)" fill="#000" fill-opacity="0.48" filter="url(#b20)"/>
</g>
<path transform="scale(.1)" d="M4940 1919h7M4787 1877h7M4846 1674h7M4837 1827h7M4825 1766h7M4800 1820h7M4902 1851h7M4819 1923h7M4780 1808h7M4692 1925h7" stroke="#000" stroke-width="7" stroke-opacity="0.5" fill="none"/>
</g>
<line x1="473.00" y1="158.70" x2="473.00" y2="201.50" stroke="#b02a31" stroke-width="1.35"/>
<line x1="460.50" y1="187.20" x2="503.30" y2="187.20" stroke="#b02a31" stroke-width="1.35"/>
<rect x="460.50" y="158.70" width="42.80" height="42.80" fill="none" stroke="#231f20" stroke-width="1.0"/>
<path d="M460.50 158.70V201.50H503.30" fill="none" stroke="#111" stroke-width="1.4"/>
<path d="M460.50 201.50v3.0M460.50 201.50h-3.0M471.20 201.50v3.0M460.50 190.80h-3.0M481.90 201.50v3.0M460.50 180.10h-3.0M492.60 201.50v3.0M460.50 169.40h-3.0M503.30 201.50v3.0M460.50 158.70h-3.0" stroke="#111" stroke-width="0.8" fill="none"/>
<path d="M463.72 201.50v1.35M460.50 198.28h-1.35M465.61 201.50v1.35M460.50 196.39h-1.35M466.94 201.50v1.35M460.50 195.06h-1.35M467.98 201.50v1.35M460.50 194.02h-1.35M468.83 201.50v1.35M460.50 193.17h-1.35M469.54 201.50v1.35M460.50 192.46h-1.35M470.16 201.50v1.35M460.50 191.84h-1.35M470.71 201.50v1.35M460.50 191.29h-1.35M474.42 201.50v1.35M460.50 187.58h-1.35M476.31 201.50v1.35M460.50 185.69h-1.35M477.64 201.50v1.35M460.50 184.36h-1.35M478.68 201.50v1.35M460.50 183.32h-1.35M479.53 201.50v1.35M460.50 182.47h-1.35M480.24 201.50v1.35M460.50 181.76h-1.35M480.86 201.50v1.35M460.50 181.14h-1.35M481.41 201.50v1.35M460.50 180.59h-1.35M485.12 201.50v1.35M460.50 176.88h-1.35M487.01 201.50v1.35M460.50 174.99h-1.35M488.34 201.50v1.35M460.50 173.66h-1.35M489.38 201.50v1.35M460.50 172.62h-1.35M490.23 201.50v1.35M460.50 171.77h-1.35M490.94 201.50v1.35M460.50 171.06h-1.35M491.56 201.50v1.35M460.50 170.44h-1.35M492.11 201.50v1.35M460.50 169.89h-1.35M495.82 201.50v1.35M460.50 166.18h-1.35M497.71 201.50v1.35M460.50 164.29h-1.35M499.04 201.50v1.35M460.50 162.96h-1.35M500.08 201.50v1.35M460.50 161.92h-1.35M500.93 201.50v1.35M460.50 161.07h-1.35M501.64 201.50v1.35M460.50 160.36h-1.35M502.26 201.50v1.35M460.50 159.74h-1.35M502.81 201.50v1.35M460.50 159.19h-1.35" stroke="#111" stroke-width="0.45" fill="none"/>
<text transform="translate(454.70,204.38)" font-size="6.4" fill="#231f20" text-anchor="end" stroke="#231f20" stroke-width="0.06">10<tspan dy="-2.30" font-size="3.71">0</tspan></text>
<text transform="translate(461.00,213.40) scale(1.12,1)" font-size="6.4" fill="#231f20" text-anchor="middle" stroke="#231f20" stroke-width="0.06">10<tspan dy="-2.30" font-size="3.71">0</tspan></text>
<text transform="translate(454.70,193.68)" font-size="6.4" fill="#231f20" text-anchor="end" stroke="#231f20" stroke-width="0.06">10<tspan dy="-2.30" font-size="3.71">1</tspan></text>
<text transform="translate(471.70,213.40) scale(1.12,1)" font-size="6.4" fill="#231f20" text-anchor="middle" stroke="#231f20" stroke-width="0.06">10<tspan dy="-2.30" font-size="3.71">1</tspan></text>
<text transform="translate(454.70,182.98)" font-size="6.4" fill="#231f20" text-anchor="end" stroke="#231f20" stroke-width="0.06">10<tspan dy="-2.30" font-size="3.71">2</tspan></text>
<text transform="translate(482.40,213.40) scale(1.12,1)" font-size="6.4" fill="#231f20" text-anchor="middle" stroke="#231f20" stroke-width="0.06">10<tspan dy="-2.30" font-size="3.71">2</tspan></text>
<text transform="translate(454.70,172.28)" font-size="6.4" fill="#231f20" text-anchor="end" stroke="#231f20" stroke-width="0.06">10<tspan dy="-2.30" font-size="3.71">3</tspan></text>
<text transform="translate(493.10,213.40) scale(1.12,1)" font-size="6.4" fill="#231f20" text-anchor="middle" stroke="#231f20" stroke-width="0.06">10<tspan dy="-2.30" font-size="3.71">3</tspan></text>
<text transform="translate(454.70,161.58)" font-size="6.4" fill="#231f20" text-anchor="end" stroke="#231f20" stroke-width="0.06">10<tspan dy="-2.30" font-size="3.71">4</tspan></text>
<text transform="translate(503.80,213.40) scale(1.12,1)" font-size="6.4" fill="#231f20" text-anchor="middle" stroke="#231f20" stroke-width="0.06">10<tspan dy="-2.30" font-size="3.71">4</tspan></text>
<text transform="translate(441.58,180.30) rotate(-90)" x="0" y="0" font-size="8.8" fill="#231f20" text-anchor="middle" textLength="18.80" lengthAdjust="spacingAndGlyphs" stroke="#231f20" stroke-width="0.3">CD169</text>
<text x="501.10" y="166.40" font-size="6.6" fill="#231f20" text-anchor="end" textLength="10.30" lengthAdjust="spacingAndGlyphs" stroke="#231f20" stroke-width="0.1">4%</text>
<text x="501.10" y="199.60" font-size="6.6" fill="#231f20" text-anchor="end" textLength="14.26" lengthAdjust="spacingAndGlyphs" stroke="#231f20" stroke-width="0.1">92%</text>
<text x="188.80" y="48.20" font-size="8.8" fill="#231f20" text-anchor="middle" textLength="13.60" lengthAdjust="spacingAndGlyphs" stroke="#231f20" stroke-width="0.3">Total</text>
<text x="189.00" y="115.90" font-size="8.8" fill="#c1272d" text-anchor="middle" textLength="8.00" lengthAdjust="spacingAndGlyphs" stroke="#c1272d" stroke-width="0.3">DN</text>
<text x="188.80" y="183.20" font-size="8.8" fill="#7b5fb5" text-anchor="middle" textLength="8.00" lengthAdjust="spacingAndGlyphs" stroke="#7b5fb5" stroke-width="0.3">DP</text>
<line x1="223.30" y1="221.20" x2="353.80" y2="221.20" stroke="#333" stroke-width="1.1"/>
<line x1="376.90" y1="221.20" x2="507.90" y2="221.20" stroke="#333" stroke-width="1.1"/>
<text x="365.65" y="224.30" font-size="8.5" fill="#231f20" text-anchor="middle" textLength="18.90" lengthAdjust="spacingAndGlyphs" stroke="#231f20" stroke-width="0.3">CD11c</text>
<clipPath id="c19"><rect x="34.40" y="264.50" width="43.90" height="45.10"/></clipPath><g clip-path="url(#c19)">
<g filter="url(#spkK)">
<path d="M48.00 310.00 L52.00 301.00 L57.00 294.00 L63.00 287.00 L69.00 280.00 L73.00 275.50 L76.00 273.00 L78.50 275.00 L78.50 290.00 L77.00 300.00 L76.00 310.00Z" fill="#000" fill-opacity="0.616" filter="url(#b18)"/>
<ellipse cx="68.00" cy="292.00" rx="4.50" ry="12.00" transform="rotate(38 68.00 292.00)" fill="#000" fill-opacity="0.508" filter="url(#b25)"/>
<ellipse cx="73.00" cy="282.00" rx="3.00" ry="6.00" transform="rotate(30 73.00 282.00)" fill="#000" fill-opacity="0.431" filter="url(#b20)"/>
<ellipse cx="42.50" cy="304.00" rx="7.50" ry="5.00" transform="rotate(0 42.50 304.00)" fill="#000" fill-opacity="0.545" filter="url(#b15)"/>
<ellipse cx="52.00" cy="294.00" rx="6.00" ry="6.00" transform="rotate(0 52.00 294.00)" fill="#000" fill-opacity="0.2" filter="url(#b20)"/>
</g>
</g>
<rect x="34.90" y="297.70" width="15.70" height="11.60" fill="none" stroke="#b9202b" stroke-width="1.2"/>
<rect x="34.40" y="264.50" width="43.90" height="45.10" fill="none" stroke="#231f20" stroke-width="1.0"/>
<path d="M34.40 264.50V309.60H78.30" fill="none" stroke="#111" stroke-width="1.4"/>
<path d="M34.40 309.60v2.0M34.40 309.60h-2.0M45.38 309.60v2.0M34.40 298.33h-2.0M56.35 309.60v2.0M34.40 287.05h-2.0M67.32 309.60v2.0M34.40 275.77h-2.0M78.30 309.60v2.0M34.40 264.50h-2.0" stroke="#111" stroke-width="0.8" fill="none"/>
<path d="M37.70 309.60v0.90M34.40 306.21h-0.90M39.64 309.60v0.90M34.40 304.22h-0.90M41.01 309.60v0.90M34.40 302.81h-0.90M42.07 309.60v0.90M34.40 301.72h-0.90M42.94 309.60v0.90M34.40 300.83h-0.90M43.67 309.60v0.90M34.40 300.07h-0.90M44.31 309.60v0.90M34.40 299.42h-0.90M44.87 309.60v0.90M34.40 298.84h-0.90M48.68 309.60v0.90M34.40 294.93h-0.90M50.61 309.60v0.90M34.40 292.95h-0.90M51.98 309.60v0.90M34.40 291.54h-0.90M53.05 309.60v0.90M34.40 290.44h-0.90M53.92 309.60v0.90M34.40 289.55h-0.90M54.65 309.60v0.90M34.40 288.80h-0.90M55.29 309.60v0.90M34.40 288.14h-0.90M55.85 309.60v0.90M34.40 287.57h-0.90M59.65 309.60v0.90M34.40 283.66h-0.90M61.59 309.60v0.90M34.40 281.67h-0.90M62.96 309.60v0.90M34.40 280.26h-0.90M64.02 309.60v0.90M34.40 279.17h-0.90M64.89 309.60v0.90M34.40 278.28h-0.90M65.62 309.60v0.90M34.40 277.52h-0.90M66.26 309.60v0.90M34.40 276.87h-0.90M66.82 309.60v0.90M34.40 276.29h-0.90M70.63 309.60v0.90M34.40 272.38h-0.90M72.56 309.60v0.90M34.40 270.40h-0.90M73.93 309.60v0.90M34.40 268.99h-0.90M75.00 309.60v0.90M34.40 267.89h-0.90M75.87 309.60v0.90M34.40 267.00h-0.90M76.60 309.60v0.90M34.40 266.25h-0.90M77.24 309.60v0.90M34.40 265.59h-0.90M77.80 309.60v0.90M34.40 265.02h-0.90" stroke="#111" stroke-width="0.45" fill="none"/>
<text transform="translate(30.40,312.21)" font-size="5.8" fill="#444" text-anchor="end" stroke="#444" stroke-width="0.06">10<tspan dy="-2.09" font-size="3.36">0</tspan></text>
<text transform="translate(34.90,320.00)" font-size="5.8" fill="#444" text-anchor="middle" stroke="#444" stroke-width="0.06">10<tspan dy="-2.09" font-size="3.36">0</tspan></text>
<text transform="translate(30.40,300.94)" font-size="5.8" fill="#444" text-anchor="end" stroke="#444" stroke-width="0.06">10<tspan dy="-2.09" font-size="3.36">1</tspan></text>
<text transform="translate(45.88,320.00)" font-size="5.8" fill="#444" text-anchor="middle" stroke="#444" stroke-width="0.06">10<tspan dy="-2.09" font-size="3.36">1</tspan></text>
<text transform="translate(30.40,289.66)" font-size="5.8" fill="#444" text-anchor="end" stroke="#444" stroke-width="0.06">10<tspan dy="-2.09" font-size="3.36">2</tspan></text>
<text transform="translate(56.85,320.00)" font-size="5.8" fill="#444" text-anchor="middle" stroke="#444" stroke-width="0.06">10<tspan dy="-2.09" font-size="3.36">2</tspan></text>
<text transform="translate(30.40,278.38)" font-size="5.8" fill="#444" text-anchor="end" stroke="#444" stroke-width="0.06">10<tspan dy="-2.09" font-size="3.36">3</tspan></text>
<text transform="translate(67.82,320.00)" font-size="5.8" fill="#444" text-anchor="middle" stroke="#444" stroke-width="0.06">10<tspan dy="-2.09" font-size="3.36">3</tspan></text>
<text transform="translate(30.40,267.11)" font-size="5.8" fill="#444" text-anchor="end" stroke="#444" stroke-width="0.06">10<tspan dy="-2.09" font-size="3.36">4</tspan></text>
<text transform="translate(78.80,320.00)" font-size="5.8" fill="#444" text-anchor="middle" stroke="#444" stroke-width="0.06">10<tspan dy="-2.09" font-size="3.36">4</tspan></text>
<text transform="translate(17.98,287.00) rotate(-90)" x="0" y="0" font-size="8.8" fill="#231f20" text-anchor="middle" textLength="13.10" lengthAdjust="spacingAndGlyphs" stroke="#231f20" stroke-width="0.3">CD14</text>
<text x="54.80" y="260.00" font-size="8.0" fill="#231f20" text-anchor="middle" textLength="36.50" lengthAdjust="spacingAndGlyphs" stroke="#231f20" stroke-width="0.2">Gated on CD45</text>
<text transform="translate(74.60,257.00)" font-size="4.5" fill="#231f20" text-anchor="middle" stroke="#231f20" stroke-width="0.06">+</text>
<text x="55.50" y="331.20" font-size="8.5" fill="#231f20" text-anchor="middle" textLength="16.50" lengthAdjust="spacingAndGlyphs" stroke="#231f20" stroke-width="0.3">CD11b</text>
<clipPath id="c20"><rect x="33.90" y="337.50" width="45.00" height="45.60"/></clipPath><g clip-path="url(#c20)">
<g filter="url(#spkG)">
<ellipse cx="41.00" cy="378.00" rx="5.00" ry="3.50" transform="rotate(0 41.00 378.00)" fill="#000" fill-opacity="0.324" filter="url(#b15)"/>
</g>
</g>
<rect x="34.70" y="371.50" width="15.10" height="11.30" fill="none" stroke="#b9202b" stroke-width="1.2"/>
<rect x="33.90" y="337.50" width="45.00" height="45.60" fill="none" stroke="#231f20" stroke-width="1.0"/>
<path d="M33.90 337.50V383.10H78.90" fill="none" stroke="#111" stroke-width="1.4"/>
<path d="M33.90 383.10v2.0M33.90 383.10h-2.0M45.15 383.10v2.0M33.90 371.70h-2.0M56.40 383.10v2.0M33.90 360.30h-2.0M67.65 383.10v2.0M33.90 348.90h-2.0M78.90 383.10v2.0M33.90 337.50h-2.0" stroke="#111" stroke-width="0.8" fill="none"/>
<path d="M37.29 383.10v0.90M33.90 379.67h-0.90M39.27 383.10v0.90M33.90 377.66h-0.90M40.67 383.10v0.90M33.90 376.24h-0.90M41.76 383.10v0.90M33.90 375.13h-0.90M42.65 383.10v0.90M33.90 374.23h-0.90M43.41 383.10v0.90M33.90 373.47h-0.90M44.06 383.10v0.90M33.90 372.80h-0.90M44.64 383.10v0.90M33.90 372.22h-0.90M48.54 383.10v0.90M33.90 368.27h-0.90M50.52 383.10v0.90M33.90 366.26h-0.90M51.92 383.10v0.90M33.90 364.84h-0.90M53.01 383.10v0.90M33.90 363.73h-0.90M53.90 383.10v0.90M33.90 362.83h-0.90M54.66 383.10v0.90M33.90 362.07h-0.90M55.31 383.10v0.90M33.90 361.40h-0.90M55.89 383.10v0.90M33.90 360.82h-0.90M59.79 383.10v0.90M33.90 356.87h-0.90M61.77 383.10v0.90M33.90 354.86h-0.90M63.17 383.10v0.90M33.90 353.44h-0.90M64.26 383.10v0.90M33.90 352.33h-0.90M65.15 383.10v0.90M33.90 351.43h-0.90M65.91 383.10v0.90M33.90 350.67h-0.90M66.56 383.10v0.90M33.90 350.00h-0.90M67.14 383.10v0.90M33.90 349.42h-0.90M71.04 383.10v0.90M33.90 345.47h-0.90M73.02 383.10v0.90M33.90 343.46h-0.90M74.42 383.10v0.90M33.90 342.04h-0.90M75.51 383.10v0.90M33.90 340.93h-0.90M76.40 383.10v0.90M33.90 340.03h-0.90M77.16 383.10v0.90M33.90 339.27h-0.90M77.81 383.10v0.90M33.90 338.60h-0.90M78.39 383.10v0.90M33.90 338.02h-0.90" stroke="#111" stroke-width="0.45" fill="none"/>
<text transform="translate(29.90,385.71)" font-size="5.8" fill="#444" text-anchor="end" stroke="#444" stroke-width="0.06">10<tspan dy="-2.09" font-size="3.36">0</tspan></text>
<text transform="translate(34.40,393.50)" font-size="5.8" fill="#444" text-anchor="middle" stroke="#444" stroke-width="0.06">10<tspan dy="-2.09" font-size="3.36">0</tspan></text>
<text transform="translate(29.90,374.31)" font-size="5.8" fill="#444" text-anchor="end" stroke="#444" stroke-width="0.06">10<tspan dy="-2.09" font-size="3.36">1</tspan></text>
<text transform="translate(45.65,393.50)" font-size="5.8" fill="#444" text-anchor="middle" stroke="#444" stroke-width="0.06">10<tspan dy="-2.09" font-size="3.36">1</tspan></text>
<text transform="translate(29.90,362.91)" font-size="5.8" fill="#444" text-anchor="end" stroke="#444" stroke-width="0.06">10<tspan dy="-2.09" font-size="3.36">2</tspan></text>
<text transform="translate(56.90,393.50)" font-size="5.8" fill="#444" text-anchor="middle" stroke="#444" stroke-width="0.06">10<tspan dy="-2.09" font-size="3.36">2</tspan></text>
<text transform="translate(29.90,351.51)" font-size="5.8" fill="#444" text-anchor="end" stroke="#444" stroke-width="0.06">10<tspan dy="-2.09" font-size="3.36">3</tspan></text>
<text transform="translate(68.15,393.50)" font-size="5.8" fill="#444" text-anchor="middle" stroke="#444" stroke-width="0.06">10<tspan dy="-2.09" font-size="3.36">3</tspan></text>
<text transform="translate(29.90,340.11)" font-size="5.8" fill="#444" text-anchor="end" stroke="#444" stroke-width="0.06">10<tspan dy="-2.09" font-size="3.36">4</tspan></text>
<text transform="translate(79.40,393.50)" font-size="5.8" fill="#444" text-anchor="middle" stroke="#444" stroke-width="0.06">10<tspan dy="-2.09" font-size="3.36">4</tspan></text>
<text transform="translate(17.98,360.30) rotate(-90)" x="0" y="0" font-size="8.8" fill="#231f20" text-anchor="middle" textLength="13.10" lengthAdjust="spacingAndGlyphs" stroke="#231f20" stroke-width="0.3">CD14</text>
<text x="56.20" y="405.00" font-size="8.5" fill="#231f20" text-anchor="middle" textLength="16.50" lengthAdjust="spacingAndGlyphs" stroke="#231f20" stroke-width="0.3">CD11b</text>
<text x="63.30" y="350.30" font-size="6.6" fill="#444" text-anchor="middle" textLength="13.21" lengthAdjust="spacingAndGlyphs" stroke="#444" stroke-width="0.1">99%</text>
<line x1="40.10" y1="319.50" x2="40.10" y2="353.00" stroke="#222" stroke-width="1.1"/>
<path d="M37.3 351.0L42.9 351.0L40.1 359.0Z" fill="#111"/>
<text x="94.00" y="322.90" font-size="7.5" fill="#c1272d" text-anchor="middle" textLength="9.90" lengthAdjust="spacingAndGlyphs" stroke="#c1272d" stroke-width="0.05">DN</text>
<path d="M82.9 325.4H105.1M105.1 292.9V357.6M105.1 292.9H136M105.1 357.6H136" stroke="#3a3a3a" stroke-width="1.1" fill="none"/>
<path d="M133.3 289.6L140.4 292.9L133.3 296.2L134.6 292.9Z" fill="#111"/>
<path d="M133.3 354.3L140.4 357.6L133.3 360.9L134.6 357.6Z" fill="#111"/>
<text x="120.90" y="288.80" font-size="6.8" fill="#231f20" text-anchor="middle" textLength="20.20" lengthAdjust="spacingAndGlyphs" stroke="#231f20" stroke-width="0.05">MCSF</text>
<text x="121.00" y="367.70" font-size="6.8" fill="#231f20" text-anchor="middle" textLength="26.40" lengthAdjust="spacingAndGlyphs" stroke="#231f20" stroke-width="0.05">GMCSF</text>
<text x="120.50" y="375.10" font-size="6.8" fill="#231f20" text-anchor="middle" textLength="9.10" lengthAdjust="spacingAndGlyphs" stroke="#231f20" stroke-width="0.05">IL4</text>
<clipPath id="c21"><rect x="167.30" y="267.40" width="41.30" height="41.70"/></clipPath><g clip-path="url(#c21)">
<g filter="url(#spkK)">
<path d="M185.30 279.50 L186.50 275.80 L189.50 273.60 L193.50 272.20 L199.00 270.00 L199.30 270.90 L195.50 275.20 L193.00 280.50 L190.50 284.60 L187.50 285.40 L185.40 283.80Z" fill="#000" fill-opacity="0.35" stroke="#000" stroke-opacity="0.35" stroke-width="1.6" stroke-linejoin="round" filter="url(#b12)"/>
<path d="M185.30 279.50 L186.50 275.80 L189.50 273.60 L193.50 272.20 L199.00 270.00 L199.30 270.90 L195.50 275.20 L193.00 280.50 L190.50 284.60 L187.50 285.40 L185.40 283.80Z" fill="#000" fill-opacity="1.0" filter="url(#b8)"/>
<ellipse cx="190.50" cy="278.50" rx="5.50" ry="7.50" transform="rotate(40 190.50 278.50)" fill="#000" fill-opacity="0.346" filter="url(#b20)"/>
<ellipse cx="182.00" cy="295.00" rx="12.00" ry="10.00" transform="rotate(0 182.00 295.00)" fill="#000" fill-opacity="0.086" filter="url(#b30)"/>
</g>
</g>
<rect x="167.30" y="267.40" width="41.30" height="41.70" fill="none" stroke="#231f20" stroke-width="1.0"/>
<path d="M167.30 267.40V309.10H208.60" fill="none" stroke="#111" stroke-width="1.4"/>
<path d="M167.30 309.10v2.0M167.30 309.10h-2.0M177.62 309.10v2.0M167.30 298.68h-2.0M187.95 309.10v2.0M167.30 288.25h-2.0M198.28 309.10v2.0M167.30 277.82h-2.0M208.60 309.10v2.0M167.30 267.40h-2.0" stroke="#111" stroke-width="0.8" fill="none"/>
<path d="M170.41 309.10v0.90M167.30 305.96h-0.90M172.23 309.10v0.90M167.30 304.13h-0.90M173.52 309.10v0.90M167.30 302.82h-0.90M174.52 309.10v0.90M167.30 301.81h-0.90M175.33 309.10v0.90M167.30 300.99h-0.90M176.03 309.10v0.90M167.30 300.29h-0.90M176.62 309.10v0.90M167.30 299.69h-0.90M177.15 309.10v0.90M167.30 299.15h-0.90M180.73 309.10v0.90M167.30 295.54h-0.90M182.55 309.10v0.90M167.30 293.70h-0.90M183.84 309.10v0.90M167.30 292.40h-0.90M184.84 309.10v0.90M167.30 291.39h-0.90M185.66 309.10v0.90M167.30 290.56h-0.90M186.35 309.10v0.90M167.30 289.86h-0.90M186.95 309.10v0.90M167.30 289.26h-0.90M187.48 309.10v0.90M167.30 288.73h-0.90M191.06 309.10v0.90M167.30 285.11h-0.90M192.88 309.10v0.90M167.30 283.28h-0.90M194.17 309.10v0.90M167.30 281.97h-0.90M195.17 309.10v0.90M167.30 280.96h-0.90M195.98 309.10v0.90M167.30 280.14h-0.90M196.68 309.10v0.90M167.30 279.44h-0.90M197.27 309.10v0.90M167.30 278.84h-0.90M197.80 309.10v0.90M167.30 278.30h-0.90M201.38 309.10v0.90M167.30 274.69h-0.90M203.20 309.10v0.90M167.30 272.85h-0.90M204.49 309.10v0.90M167.30 271.55h-0.90M205.49 309.10v0.90M167.30 270.54h-0.90M206.31 309.10v0.90M167.30 269.71h-0.90M207.00 309.10v0.90M167.30 269.01h-0.90M207.60 309.10v0.90M167.30 268.41h-0.90M208.13 309.10v0.90M167.30 267.88h-0.90" stroke="#111" stroke-width="0.45" fill="none"/>
<text transform="translate(162.30,311.80)" font-size="6.0" fill="#231f20" text-anchor="end" stroke="#231f20" stroke-width="0.06">10<tspan dy="-2.16" font-size="3.48">0</tspan></text>
<text transform="translate(167.80,319.80) scale(1.12,1)" font-size="6.0" fill="#231f20" text-anchor="middle" stroke="#231f20" stroke-width="0.06">10<tspan dy="-2.16" font-size="3.48">0</tspan></text>
<text transform="translate(162.30,301.38)" font-size="6.0" fill="#231f20" text-anchor="end" stroke="#231f20" stroke-width="0.06">10<tspan dy="-2.16" font-size="3.48">1</tspan></text>
<text transform="translate(178.12,319.80) scale(1.12,1)" font-size="6.0" fill="#231f20" text-anchor="middle" stroke="#231f20" stroke-width="0.06">10<tspan dy="-2.16" font-size="3.48">1</tspan></text>
<text transform="translate(162.30,290.95)" font-size="6.0" fill="#231f20" text-anchor="end" stroke="#231f20" stroke-width="0.06">10<tspan dy="-2.16" font-size="3.48">2</tspan></text>
<text transform="translate(188.45,319.80) scale(1.12,1)" font-size="6.0" fill="#231f20" text-anchor="middle" stroke="#231f20" stroke-width="0.06">10<tspan dy="-2.16" font-size="3.48">2</tspan></text>
<text transform="translate(162.30,280.52)" font-size="6.0" fill="#231f20" text-anchor="end" stroke="#231f20" stroke-width="0.06">10<tspan dy="-2.16" font-size="3.48">3</tspan></text>
<text transform="translate(198.78,319.80) scale(1.12,1)" font-size="6.0" fill="#231f20" text-anchor="middle" stroke="#231f20" stroke-width="0.06">10<tspan dy="-2.16" font-size="3.48">3</tspan></text>
<text transform="translate(162.30,270.10)" font-size="6.0" fill="#231f20" text-anchor="end" stroke="#231f20" stroke-width="0.06">10<tspan dy="-2.16" font-size="3.48">4</tspan></text>
<text transform="translate(209.10,319.80) scale(1.12,1)" font-size="6.0" fill="#231f20" text-anchor="middle" stroke="#231f20" stroke-width="0.06">10<tspan dy="-2.16" font-size="3.48">4</tspan></text>
<text transform="translate(150.46,288.25) rotate(-90)" x="0" y="0" font-size="7.6" fill="#231f20" text-anchor="middle" textLength="13.10" lengthAdjust="spacingAndGlyphs" stroke="#231f20" stroke-width="0.3">CD14</text>
<text x="188.45" y="331.10" font-size="8.5" fill="#231f20" text-anchor="middle" textLength="16.50" lengthAdjust="spacingAndGlyphs" stroke="#231f20" stroke-width="0.3">CD11b</text>
<line x1="210.90" y1="288.30" x2="236.00" y2="288.30" stroke="#3a3a3a" stroke-width="1.1"/>
<path d="M233.6 285.3L240.9 288.3L233.6 291.3L234.9 288.3Z" fill="#111"/>
<clipPath id="c22"><rect x="167.80" y="333.20" width="40.50" height="41.30"/></clipPath><g clip-path="url(#c22)">
<g filter="url(#spkK)">
<ellipse cx="194.00" cy="344.00" rx="4.50" ry="5.00" transform="rotate(20 194.00 344.00)" fill="#000" fill-opacity="0.74" filter="url(#b20)"/>
<ellipse cx="194.00" cy="356.00" rx="3.50" ry="10.00" transform="rotate(0 194.00 356.00)" fill="#000" fill-opacity="0.572" filter="url(#b20)"/>
<ellipse cx="185.00" cy="364.00" rx="10.00" ry="7.00" transform="rotate(0 185.00 364.00)" fill="#000" fill-opacity="0.301" filter="url(#b25)"/>
<ellipse cx="188.00" cy="352.00" rx="12.00" ry="14.00" transform="rotate(0 188.00 352.00)" fill="#000" fill-opacity="0.155" filter="url(#b30)"/>
</g>
</g>
<rect x="167.80" y="333.20" width="40.50" height="41.30" fill="none" stroke="#231f20" stroke-width="1.0"/>
<path d="M167.80 333.20V374.50H208.30" fill="none" stroke="#111" stroke-width="1.4"/>
<path d="M167.80 374.50v2.0M167.80 374.50h-2.0M177.93 374.50v2.0M167.80 364.18h-2.0M188.05 374.50v2.0M167.80 353.85h-2.0M198.18 374.50v2.0M167.80 343.52h-2.0M208.30 374.50v2.0M167.80 333.20h-2.0" stroke="#111" stroke-width="0.8" fill="none"/>
<path d="M170.85 374.50v0.90M167.80 371.39h-0.90M172.63 374.50v0.90M167.80 369.57h-0.90M173.90 374.50v0.90M167.80 368.28h-0.90M174.88 374.50v0.90M167.80 367.28h-0.90M175.68 374.50v0.90M167.80 366.47h-0.90M176.36 374.50v0.90M167.80 365.77h-0.90M176.94 374.50v0.90M167.80 365.18h-0.90M177.46 374.50v0.90M167.80 364.65h-0.90M180.97 374.50v0.90M167.80 361.07h-0.90M182.76 374.50v0.90M167.80 359.25h-0.90M184.02 374.50v0.90M167.80 357.96h-0.90M185.00 374.50v0.90M167.80 356.96h-0.90M185.80 374.50v0.90M167.80 356.14h-0.90M186.48 374.50v0.90M167.80 355.45h-0.90M187.07 374.50v0.90M167.80 354.85h-0.90M187.59 374.50v0.90M167.80 354.32h-0.90M191.10 374.50v0.90M167.80 350.74h-0.90M192.88 374.50v0.90M167.80 348.92h-0.90M194.15 374.50v0.90M167.80 347.63h-0.90M195.13 374.50v0.90M167.80 346.63h-0.90M195.93 374.50v0.90M167.80 345.82h-0.90M196.61 374.50v0.90M167.80 345.12h-0.90M197.19 374.50v0.90M167.80 344.53h-0.90M197.71 374.50v0.90M167.80 344.00h-0.90M201.22 374.50v0.90M167.80 340.42h-0.90M203.01 374.50v0.90M167.80 338.60h-0.90M204.27 374.50v0.90M167.80 337.31h-0.90M205.25 374.50v0.90M167.80 336.31h-0.90M206.05 374.50v0.90M167.80 335.49h-0.90M206.73 374.50v0.90M167.80 334.80h-0.90M207.32 374.50v0.90M167.80 334.20h-0.90M207.84 374.50v0.90M167.80 333.67h-0.90" stroke="#111" stroke-width="0.45" fill="none"/>
<text transform="translate(162.80,377.20)" font-size="6.0" fill="#231f20" text-anchor="end" stroke="#231f20" stroke-width="0.06">10<tspan dy="-2.16" font-size="3.48">0</tspan></text>
<text transform="translate(168.30,385.20) scale(1.12,1)" font-size="6.0" fill="#231f20" text-anchor="middle" stroke="#231f20" stroke-width="0.06">10<tspan dy="-2.16" font-size="3.48">0</tspan></text>
<text transform="translate(162.80,366.88)" font-size="6.0" fill="#231f20" text-anchor="end" stroke="#231f20" stroke-width="0.06">10<tspan dy="-2.16" font-size="3.48">1</tspan></text>
<text transform="translate(178.43,385.20) scale(1.12,1)" font-size="6.0" fill="#231f20" text-anchor="middle" stroke="#231f20" stroke-width="0.06">10<tspan dy="-2.16" font-size="3.48">1</tspan></text>
<text transform="translate(162.80,356.55)" font-size="6.0" fill="#231f20" text-anchor="end" stroke="#231f20" stroke-width="0.06">10<tspan dy="-2.16" font-size="3.48">2</tspan></text>
<text transform="translate(188.55,385.20) scale(1.12,1)" font-size="6.0" fill="#231f20" text-anchor="middle" stroke="#231f20" stroke-width="0.06">10<tspan dy="-2.16" font-size="3.48">2</tspan></text>
<text transform="translate(162.80,346.22)" font-size="6.0" fill="#231f20" text-anchor="end" stroke="#231f20" stroke-width="0.06">10<tspan dy="-2.16" font-size="3.48">3</tspan></text>
<text transform="translate(198.68,385.20) scale(1.12,1)" font-size="6.0" fill="#231f20" text-anchor="middle" stroke="#231f20" stroke-width="0.06">10<tspan dy="-2.16" font-size="3.48">3</tspan></text>
<text transform="translate(162.80,335.90)" font-size="6.0" fill="#231f20" text-anchor="end" stroke="#231f20" stroke-width="0.06">10<tspan dy="-2.16" font-size="3.48">4</tspan></text>
<text transform="translate(208.80,385.20) scale(1.12,1)" font-size="6.0" fill="#231f20" text-anchor="middle" stroke="#231f20" stroke-width="0.06">10<tspan dy="-2.16" font-size="3.48">4</tspan></text>
<text transform="translate(150.46,353.85) rotate(-90)" x="0" y="0" font-size="7.6" fill="#231f20" text-anchor="middle" textLength="13.10" lengthAdjust="spacingAndGlyphs" stroke="#231f20" stroke-width="0.3">CD14</text>
<text x="188.55" y="396.50" font-size="8.5" fill="#231f20" text-anchor="middle" textLength="16.50" lengthAdjust="spacingAndGlyphs" stroke="#231f20" stroke-width="0.3">CD11b</text>
<line x1="210.90" y1="353.40" x2="236.00" y2="353.40" stroke="#3a3a3a" stroke-width="1.1"/>
<path d="M233.6 350.4L240.9 353.4L233.6 356.4L234.9 353.4Z" fill="#111"/>
<clipPath id="c23"><rect x="268.40" y="268.20" width="37.50" height="38.00"/></clipPath><g clip-path="url(#c23)">
<g filter="url(#spkK)">
<path d="M280.00 306.50 L280.50 293.00 L281.50 282.00 L285.00 279.50 L292.50 278.30 L291.00 285.00 L290.00 291.00 L288.00 300.00 L287.50 306.50Z" fill="#000" fill-opacity="0.35" stroke="#000" stroke-opacity="0.35" stroke-width="1.6" stroke-linejoin="round" filter="url(#b12)"/>
<path d="M280.00 306.50 L280.50 293.00 L281.50 282.00 L285.00 279.50 L292.50 278.30 L291.00 285.00 L290.00 291.00 L288.00 300.00 L287.50 306.50Z" fill="#000" fill-opacity="1.0" filter="url(#b8)"/>
<ellipse cx="286.00" cy="290.00" rx="5.00" ry="10.00" transform="rotate(10 286.00 290.00)" fill="#000" fill-opacity="0.431" filter="url(#b20)"/>
<ellipse cx="276.00" cy="298.00" rx="4.00" ry="6.00" transform="rotate(0 276.00 298.00)" fill="#000" fill-opacity="0.265" filter="url(#b20)"/>
</g>
</g>
<line x1="278.50" y1="268.20" x2="278.50" y2="306.20" stroke="#c01820" stroke-width="1.3"/>
<line x1="268.40" y1="293.40" x2="305.90" y2="293.40" stroke="#c01820" stroke-width="1.3"/>
<rect x="268.40" y="268.20" width="37.50" height="38.00" fill="none" stroke="#231f20" stroke-width="1.0"/>
<path d="M268.40 268.20V306.20H305.90" fill="none" stroke="#111" stroke-width="1.4"/>
<path d="M268.40 306.20v2.0M268.40 306.20h-2.0M277.77 306.20v2.0M268.40 296.70h-2.0M287.15 306.20v2.0M268.40 287.20h-2.0M296.52 306.20v2.0M268.40 277.70h-2.0M305.90 306.20v2.0M268.40 268.20h-2.0" stroke="#111" stroke-width="0.8" fill="none"/>
<path d="M271.22 306.20v0.90M268.40 303.34h-0.90M272.87 306.20v0.90M268.40 301.67h-0.90M274.04 306.20v0.90M268.40 300.48h-0.90M274.95 306.20v0.90M268.40 299.56h-0.90M275.70 306.20v0.90M268.40 298.81h-0.90M276.32 306.20v0.90M268.40 298.17h-0.90M276.87 306.20v0.90M268.40 297.62h-0.90M277.35 306.20v0.90M268.40 297.13h-0.90M280.60 306.20v0.90M268.40 293.84h-0.90M282.25 306.20v0.90M268.40 292.17h-0.90M283.42 306.20v0.90M268.40 290.98h-0.90M284.33 306.20v0.90M268.40 290.06h-0.90M285.07 306.20v0.90M268.40 289.31h-0.90M285.70 306.20v0.90M268.40 288.67h-0.90M286.24 306.20v0.90M268.40 288.12h-0.90M286.72 306.20v0.90M268.40 287.63h-0.90M289.97 306.20v0.90M268.40 284.34h-0.90M291.62 306.20v0.90M268.40 282.67h-0.90M292.79 306.20v0.90M268.40 281.48h-0.90M293.70 306.20v0.90M268.40 280.56h-0.90M294.45 306.20v0.90M268.40 279.81h-0.90M295.07 306.20v0.90M268.40 279.17h-0.90M295.62 306.20v0.90M268.40 278.62h-0.90M296.10 306.20v0.90M268.40 278.13h-0.90M299.35 306.20v0.90M268.40 274.84h-0.90M301.00 306.20v0.90M268.40 273.17h-0.90M302.17 306.20v0.90M268.40 271.98h-0.90M303.08 306.20v0.90M268.40 271.06h-0.90M303.82 306.20v0.90M268.40 270.31h-0.90M304.45 306.20v0.90M268.40 269.67h-0.90M304.99 306.20v0.90M268.40 269.12h-0.90M305.47 306.20v0.90M268.40 268.63h-0.90" stroke="#111" stroke-width="0.45" fill="none"/>
<text transform="translate(263.40,308.90)" font-size="6.0" fill="#231f20" text-anchor="end" stroke="#231f20" stroke-width="0.06">10<tspan dy="-2.16" font-size="3.48">0</tspan></text>
<text transform="translate(268.90,315.50) scale(1.1,1)" font-size="6.0" fill="#231f20" text-anchor="middle" stroke="#231f20" stroke-width="0.06">10<tspan dy="-2.16" font-size="3.48">0</tspan></text>
<text transform="translate(263.40,299.40)" font-size="6.0" fill="#231f20" text-anchor="end" stroke="#231f20" stroke-width="0.06">10<tspan dy="-2.16" font-size="3.48">1</tspan></text>
<text transform="translate(278.27,315.50) scale(1.1,1)" font-size="6.0" fill="#231f20" text-anchor="middle" stroke="#231f20" stroke-width="0.06">10<tspan dy="-2.16" font-size="3.48">1</tspan></text>
<text transform="translate(263.40,289.90)" font-size="6.0" fill="#231f20" text-anchor="end" stroke="#231f20" stroke-width="0.06">10<tspan dy="-2.16" font-size="3.48">2</tspan></text>
<text transform="translate(287.65,315.50) scale(1.1,1)" font-size="6.0" fill="#231f20" text-anchor="middle" stroke="#231f20" stroke-width="0.06">10<tspan dy="-2.16" font-size="3.48">2</tspan></text>
<text transform="translate(263.40,280.40)" font-size="6.0" fill="#231f20" text-anchor="end" stroke="#231f20" stroke-width="0.06">10<tspan dy="-2.16" font-size="3.48">3</tspan></text>
<text transform="translate(297.02,315.50) scale(1.1,1)" font-size="6.0" fill="#231f20" text-anchor="middle" stroke="#231f20" stroke-width="0.06">10<tspan dy="-2.16" font-size="3.48">3</tspan></text>
<text transform="translate(263.40,270.90)" font-size="6.0" fill="#231f20" text-anchor="end" stroke="#231f20" stroke-width="0.06">10<tspan dy="-2.16" font-size="3.48">4</tspan></text>
<text transform="translate(306.40,315.50) scale(1.1,1)" font-size="6.0" fill="#231f20" text-anchor="middle" stroke="#231f20" stroke-width="0.06">10<tspan dy="-2.16" font-size="3.48">4</tspan></text>
<text transform="translate(249.88,286.70) rotate(-90)" x="0" y="0" font-size="6.8" fill="#231f20" text-anchor="middle" textLength="18.40" lengthAdjust="spacingAndGlyphs" stroke="#231f20" stroke-width="0.3">HLA-DR</text>
<text x="304.00" y="274.50" font-size="5.9" fill="#231f20" text-anchor="end" textLength="12.75" lengthAdjust="spacingAndGlyphs" stroke="#231f20" stroke-width="0.1">43%</text>
<text x="304.30" y="304.30" font-size="5.9" fill="#231f20" text-anchor="end" textLength="12.75" lengthAdjust="spacingAndGlyphs" stroke="#231f20" stroke-width="0.1">56%</text>
<clipPath id="c24"><rect x="335.80" y="268.20" width="37.30" height="38.00"/></clipPath><g clip-path="url(#c24)">
<g filter="url(#spkK)">
<path d="M346.50 306.50 L347.00 295.00 L348.50 291.00 L354.00 288.50 L361.00 286.00 L358.00 292.00 L354.00 299.00 L352.00 306.50Z" fill="#000" fill-opacity="0.35" stroke="#000" stroke-opacity="0.35" stroke-width="1.6" stroke-linejoin="round" filter="url(#b12)"/>
<path d="M346.50 306.50 L347.00 295.00 L348.50 291.00 L354.00 288.50 L361.00 286.00 L358.00 292.00 L354.00 299.00 L352.00 306.50Z" fill="#000" fill-opacity="1.0" filter="url(#b8)"/>
<ellipse cx="352.00" cy="295.00" rx="6.00" ry="7.00" transform="rotate(30 352.00 295.00)" fill="#000" fill-opacity="0.431" filter="url(#b20)"/>
<ellipse cx="341.00" cy="300.00" rx="3.00" ry="4.00" transform="rotate(0 341.00 300.00)" fill="#000" fill-opacity="0.324" filter="url(#b20)"/>
</g>
</g>
<line x1="345.90" y1="268.20" x2="345.90" y2="306.20" stroke="#c01820" stroke-width="1.3"/>
<line x1="335.80" y1="293.40" x2="373.10" y2="293.40" stroke="#c01820" stroke-width="1.3"/>
<rect x="335.80" y="268.20" width="37.30" height="38.00" fill="none" stroke="#231f20" stroke-width="1.0"/>
<path d="M335.80 268.20V306.20H373.10" fill="none" stroke="#111" stroke-width="1.4"/>
<path d="M335.80 306.20v2.0M335.80 306.20h-2.0M345.12 306.20v2.0M335.80 296.70h-2.0M354.45 306.20v2.0M335.80 287.20h-2.0M363.78 306.20v2.0M335.80 277.70h-2.0M373.10 306.20v2.0M335.80 268.20h-2.0" stroke="#111" stroke-width="0.8" fill="none"/>
<path d="M338.61 306.20v0.90M335.80 303.34h-0.90M340.25 306.20v0.90M335.80 301.67h-0.90M341.41 306.20v0.90M335.80 300.48h-0.90M342.32 306.20v0.90M335.80 299.56h-0.90M343.06 306.20v0.90M335.80 298.81h-0.90M343.68 306.20v0.90M335.80 298.17h-0.90M344.22 306.20v0.90M335.80 297.62h-0.90M344.70 306.20v0.90M335.80 297.13h-0.90M347.93 306.20v0.90M335.80 293.84h-0.90M349.57 306.20v0.90M335.80 292.17h-0.90M350.74 306.20v0.90M335.80 290.98h-0.90M351.64 306.20v0.90M335.80 290.06h-0.90M352.38 306.20v0.90M335.80 289.31h-0.90M353.01 306.20v0.90M335.80 288.67h-0.90M353.55 306.20v0.90M335.80 288.12h-0.90M354.02 306.20v0.90M335.80 287.63h-0.90M357.26 306.20v0.90M335.80 284.34h-0.90M358.90 306.20v0.90M335.80 282.67h-0.90M360.06 306.20v0.90M335.80 281.48h-0.90M360.97 306.20v0.90M335.80 280.56h-0.90M361.71 306.20v0.90M335.80 279.81h-0.90M362.33 306.20v0.90M335.80 279.17h-0.90M362.87 306.20v0.90M335.80 278.62h-0.90M363.35 306.20v0.90M335.80 278.13h-0.90M366.58 306.20v0.90M335.80 274.84h-0.90M368.22 306.20v0.90M335.80 273.17h-0.90M369.39 306.20v0.90M335.80 271.98h-0.90M370.29 306.20v0.90M335.80 271.06h-0.90M371.03 306.20v0.90M335.80 270.31h-0.90M371.66 306.20v0.90M335.80 269.67h-0.90M372.20 306.20v0.90M335.80 269.12h-0.90M372.67 306.20v0.90M335.80 268.63h-0.90" stroke="#111" stroke-width="0.45" fill="none"/>
<text transform="translate(330.80,308.90)" font-size="6.0" fill="#231f20" text-anchor="end" stroke="#231f20" stroke-width="0.06">10<tspan dy="-2.16" font-size="3.48">0</tspan></text>
<text transform="translate(336.30,315.50) scale(1.1,1)" font-size="6.0" fill="#231f20" text-anchor="middle" stroke="#231f20" stroke-width="0.06">10<tspan dy="-2.16" font-size="3.48">0</tspan></text>
<text transform="translate(330.80,299.40)" font-size="6.0" fill="#231f20" text-anchor="end" stroke="#231f20" stroke-width="0.06">10<tspan dy="-2.16" font-size="3.48">1</tspan></text>
<text transform="translate(345.62,315.50) scale(1.1,1)" font-size="6.0" fill="#231f20" text-anchor="middle" stroke="#231f20" stroke-width="0.06">10<tspan dy="-2.16" font-size="3.48">1</tspan></text>
<text transform="translate(330.80,289.90)" font-size="6.0" fill="#231f20" text-anchor="end" stroke="#231f20" stroke-width="0.06">10<tspan dy="-2.16" font-size="3.48">2</tspan></text>
<text transform="translate(354.95,315.50) scale(1.1,1)" font-size="6.0" fill="#231f20" text-anchor="middle" stroke="#231f20" stroke-width="0.06">10<tspan dy="-2.16" font-size="3.48">2</tspan></text>
<text transform="translate(330.80,280.40)" font-size="6.0" fill="#231f20" text-anchor="end" stroke="#231f20" stroke-width="0.06">10<tspan dy="-2.16" font-size="3.48">3</tspan></text>
<text transform="translate(364.28,315.50) scale(1.1,1)" font-size="6.0" fill="#231f20" text-anchor="middle" stroke="#231f20" stroke-width="0.06">10<tspan dy="-2.16" font-size="3.48">3</tspan></text>
<text transform="translate(330.80,270.90)" font-size="6.0" fill="#231f20" text-anchor="end" stroke="#231f20" stroke-width="0.06">10<tspan dy="-2.16" font-size="3.48">4</tspan></text>
<text transform="translate(373.60,315.50) scale(1.1,1)" font-size="6.0" fill="#231f20" text-anchor="middle" stroke="#231f20" stroke-width="0.06">10<tspan dy="-2.16" font-size="3.48">4</tspan></text>
<text transform="translate(318.87,286.70) rotate(-90)" x="0" y="0" font-size="8.2" fill="#231f20" text-anchor="middle" textLength="13.10" lengthAdjust="spacingAndGlyphs" stroke="#231f20" stroke-width="0.3">CD40</text>
<text x="371.20" y="274.50" font-size="5.9" fill="#231f20" text-anchor="end" textLength="12.75" lengthAdjust="spacingAndGlyphs" stroke="#231f20" stroke-width="0.1">23%</text>
<text x="371.50" y="304.30" font-size="5.9" fill="#231f20" text-anchor="end" textLength="12.75" lengthAdjust="spacingAndGlyphs" stroke="#231f20" stroke-width="0.1">77%</text>
<clipPath id="c25"><rect x="404.20" y="268.20" width="36.80" height="38.00"/></clipPath><g clip-path="url(#c25)">
<g filter="url(#spkK)">
<path d="M415.20 306.50 L415.50 295.00 L416.50 290.50 L421.00 289.00 L428.50 288.50 L429.00 291.00 L426.00 297.00 L424.00 306.50Z" fill="#000" fill-opacity="0.35" stroke="#000" stroke-opacity="0.35" stroke-width="1.6" stroke-linejoin="round" filter="url(#b12)"/>
<path d="M415.20 306.50 L415.50 295.00 L416.50 290.50 L421.00 289.00 L428.50 288.50 L429.00 291.00 L426.00 297.00 L424.00 306.50Z" fill="#000" fill-opacity="1.0" filter="url(#b8)"/>
<ellipse cx="422.00" cy="286.00" rx="6.00" ry="4.00" transform="rotate(0 422.00 286.00)" fill="#000" fill-opacity="0.431" filter="url(#b20)"/>
<ellipse cx="409.00" cy="300.00" rx="3.00" ry="4.00" transform="rotate(0 409.00 300.00)" fill="#000" fill-opacity="0.265" filter="url(#b20)"/>
</g>
</g>
<line x1="414.20" y1="268.20" x2="414.20" y2="306.20" stroke="#c01820" stroke-width="1.3"/>
<line x1="404.20" y1="295.80" x2="441.00" y2="295.80" stroke="#c01820" stroke-width="1.3"/>
<rect x="404.20" y="268.20" width="36.80" height="38.00" fill="none" stroke="#231f20" stroke-width="1.0"/>
<path d="M404.20 268.20V306.20H441.00" fill="none" stroke="#111" stroke-width="1.4"/>
<path d="M404.20 306.20v2.0M404.20 306.20h-2.0M413.40 306.20v2.0M404.20 296.70h-2.0M422.60 306.20v2.0M404.20 287.20h-2.0M431.80 306.20v2.0M404.20 277.70h-2.0M441.00 306.20v2.0M404.20 268.20h-2.0" stroke="#111" stroke-width="0.8" fill="none"/>
<path d="M406.97 306.20v0.90M404.20 303.34h-0.90M408.59 306.20v0.90M404.20 301.67h-0.90M409.74 306.20v0.90M404.20 300.48h-0.90M410.63 306.20v0.90M404.20 299.56h-0.90M411.36 306.20v0.90M404.20 298.81h-0.90M411.97 306.20v0.90M404.20 298.17h-0.90M412.51 306.20v0.90M404.20 297.62h-0.90M412.98 306.20v0.90M404.20 297.13h-0.90M416.17 306.20v0.90M404.20 293.84h-0.90M417.79 306.20v0.90M404.20 292.17h-0.90M418.94 306.20v0.90M404.20 290.98h-0.90M419.83 306.20v0.90M404.20 290.06h-0.90M420.56 306.20v0.90M404.20 289.31h-0.90M421.17 306.20v0.90M404.20 288.67h-0.90M421.71 306.20v0.90M404.20 288.12h-0.90M422.18 306.20v0.90M404.20 287.63h-0.90M425.37 306.20v0.90M404.20 284.34h-0.90M426.99 306.20v0.90M404.20 282.67h-0.90M428.14 306.20v0.90M404.20 281.48h-0.90M429.03 306.20v0.90M404.20 280.56h-0.90M429.76 306.20v0.90M404.20 279.81h-0.90M430.37 306.20v0.90M404.20 279.17h-0.90M430.91 306.20v0.90M404.20 278.62h-0.90M431.38 306.20v0.90M404.20 278.13h-0.90M434.57 306.20v0.90M404.20 274.84h-0.90M436.19 306.20v0.90M404.20 273.17h-0.90M437.34 306.20v0.90M404.20 271.98h-0.90M438.23 306.20v0.90M404.20 271.06h-0.90M438.96 306.20v0.90M404.20 270.31h-0.90M439.57 306.20v0.90M404.20 269.67h-0.90M440.11 306.20v0.90M404.20 269.12h-0.90M440.58 306.20v0.90M404.20 268.63h-0.90" stroke="#111" stroke-width="0.45" fill="none"/>
<text transform="translate(399.20,308.90)" font-size="6.0" fill="#231f20" text-anchor="end" stroke="#231f20" stroke-width="0.06">10<tspan dy="-2.16" font-size="3.48">0</tspan></text>
<text transform="translate(404.70,315.50) scale(1.1,1)" font-size="6.0" fill="#231f20" text-anchor="middle" stroke="#231f20" stroke-width="0.06">10<tspan dy="-2.16" font-size="3.48">0</tspan></text>
<text transform="translate(399.20,299.40)" font-size="6.0" fill="#231f20" text-anchor="end" stroke="#231f20" stroke-width="0.06">10<tspan dy="-2.16" font-size="3.48">1</tspan></text>
<text transform="translate(413.90,315.50) scale(1.1,1)" font-size="6.0" fill="#231f20" text-anchor="middle" stroke="#231f20" stroke-width="0.06">10<tspan dy="-2.16" font-size="3.48">1</tspan></text>
<text transform="translate(399.20,289.90)" font-size="6.0" fill="#231f20" text-anchor="end" stroke="#231f20" stroke-width="0.06">10<tspan dy="-2.16" font-size="3.48">2</tspan></text>
<text transform="translate(423.10,315.50) scale(1.1,1)" font-size="6.0" fill="#231f20" text-anchor="middle" stroke="#231f20" stroke-width="0.06">10<tspan dy="-2.16" font-size="3.48">2</tspan></text>
<text transform="translate(399.20,280.40)" font-size="6.0" fill="#231f20" text-anchor="end" stroke="#231f20" stroke-width="0.06">10<tspan dy="-2.16" font-size="3.48">3</tspan></text>
<text transform="translate(432.30,315.50) scale(1.1,1)" font-size="6.0" fill="#231f20" text-anchor="middle" stroke="#231f20" stroke-width="0.06">10<tspan dy="-2.16" font-size="3.48">3</tspan></text>
<text transform="translate(399.20,270.90)" font-size="6.0" fill="#231f20" text-anchor="end" stroke="#231f20" stroke-width="0.06">10<tspan dy="-2.16" font-size="3.48">4</tspan></text>
<text transform="translate(441.50,315.50) scale(1.1,1)" font-size="6.0" fill="#231f20" text-anchor="middle" stroke="#231f20" stroke-width="0.06">10<tspan dy="-2.16" font-size="3.48">4</tspan></text>
<text transform="translate(387.17,286.70) rotate(-90)" x="0" y="0" font-size="8.2" fill="#231f20" text-anchor="middle" textLength="13.10" lengthAdjust="spacingAndGlyphs" stroke="#231f20" stroke-width="0.3">CD83</text>
<text x="439.10" y="274.50" font-size="5.9" fill="#231f20" text-anchor="end" textLength="12.75" lengthAdjust="spacingAndGlyphs" stroke="#231f20" stroke-width="0.1">13%</text>
<text x="439.40" y="304.30" font-size="5.9" fill="#231f20" text-anchor="end" textLength="12.75" lengthAdjust="spacingAndGlyphs" stroke="#231f20" stroke-width="0.1">86%</text>
<clipPath id="c26"><rect x="472.40" y="268.20" width="37.10" height="38.00"/></clipPath><g clip-path="url(#c26)">
<g filter="url(#spkK)">
<path d="M483.50 306.50 L483.30 297.00 L484.50 287.00 L487.00 282.00 L492.00 279.00 L495.30 279.50 L494.50 287.00 L492.50 296.00 L490.50 306.50Z" fill="#000" fill-opacity="0.35" stroke="#000" stroke-opacity="0.35" stroke-width="1.6" stroke-linejoin="round" filter="url(#b12)"/>
<path d="M483.50 306.50 L483.30 297.00 L484.50 287.00 L487.00 282.00 L492.00 279.00 L495.30 279.50 L494.50 287.00 L492.50 296.00 L490.50 306.50Z" fill="#000" fill-opacity="1.0" filter="url(#b8)"/>
<ellipse cx="490.00" cy="290.00" rx="5.00" ry="10.00" transform="rotate(10 490.00 290.00)" fill="#000" fill-opacity="0.431" filter="url(#b20)"/>
<ellipse cx="500.00" cy="290.00" rx="5.00" ry="9.00" transform="rotate(0 500.00 290.00)" fill="#000" fill-opacity="0.2" filter="url(#b20)"/>
<ellipse cx="478.00" cy="298.00" rx="4.00" ry="5.00" transform="rotate(0 478.00 298.00)" fill="#000" fill-opacity="0.324" filter="url(#b20)"/>
</g>
</g>
<line x1="482.50" y1="268.20" x2="482.50" y2="306.20" stroke="#c01820" stroke-width="1.3"/>
<line x1="472.40" y1="295.80" x2="509.50" y2="295.80" stroke="#c01820" stroke-width="1.3"/>
<rect x="472.40" y="268.20" width="37.10" height="38.00" fill="none" stroke="#231f20" stroke-width="1.0"/>
<path d="M472.40 268.20V306.20H509.50" fill="none" stroke="#111" stroke-width="1.4"/>
<path d="M472.40 306.20v2.0M472.40 306.20h-2.0M481.67 306.20v2.0M472.40 296.70h-2.0M490.95 306.20v2.0M472.40 287.20h-2.0M500.23 306.20v2.0M472.40 277.70h-2.0M509.50 306.20v2.0M472.40 268.20h-2.0" stroke="#111" stroke-width="0.8" fill="none"/>
<path d="M475.19 306.20v0.90M472.40 303.34h-0.90M476.83 306.20v0.90M472.40 301.67h-0.90M477.98 306.20v0.90M472.40 300.48h-0.90M478.88 306.20v0.90M472.40 299.56h-0.90M479.62 306.20v0.90M472.40 298.81h-0.90M480.24 306.20v0.90M472.40 298.17h-0.90M480.78 306.20v0.90M472.40 297.62h-0.90M481.25 306.20v0.90M472.40 297.13h-0.90M484.47 306.20v0.90M472.40 293.84h-0.90M486.10 306.20v0.90M472.40 292.17h-0.90M487.26 306.20v0.90M472.40 290.98h-0.90M488.16 306.20v0.90M472.40 290.06h-0.90M488.89 306.20v0.90M472.40 289.31h-0.90M489.51 306.20v0.90M472.40 288.67h-0.90M490.05 306.20v0.90M472.40 288.12h-0.90M490.53 306.20v0.90M472.40 287.63h-0.90M493.74 306.20v0.90M472.40 284.34h-0.90M495.38 306.20v0.90M472.40 282.67h-0.90M496.53 306.20v0.90M472.40 281.48h-0.90M497.43 306.20v0.90M472.40 280.56h-0.90M498.17 306.20v0.90M472.40 279.81h-0.90M498.79 306.20v0.90M472.40 279.17h-0.90M499.33 306.20v0.90M472.40 278.62h-0.90M499.80 306.20v0.90M472.40 278.13h-0.90M503.02 306.20v0.90M472.40 274.84h-0.90M504.65 306.20v0.90M472.40 273.17h-0.90M505.81 306.20v0.90M472.40 271.98h-0.90M506.71 306.20v0.90M472.40 271.06h-0.90M507.44 306.20v0.90M472.40 270.31h-0.90M508.06 306.20v0.90M472.40 269.67h-0.90M508.60 306.20v0.90M472.40 269.12h-0.90M509.08 306.20v0.90M472.40 268.63h-0.90" stroke="#111" stroke-width="0.45" fill="none"/>
<text transform="translate(467.40,308.90)" font-size="6.0" fill="#231f20" text-anchor="end" stroke="#231f20" stroke-width="0.06">10<tspan dy="-2.16" font-size="3.48">0</tspan></text>
<text transform="translate(472.90,315.50) scale(1.1,1)" font-size="6.0" fill="#231f20" text-anchor="middle" stroke="#231f20" stroke-width="0.06">10<tspan dy="-2.16" font-size="3.48">0</tspan></text>
<text transform="translate(467.40,299.40)" font-size="6.0" fill="#231f20" text-anchor="end" stroke="#231f20" stroke-width="0.06">10<tspan dy="-2.16" font-size="3.48">1</tspan></text>
<text transform="translate(482.17,315.50) scale(1.1,1)" font-size="6.0" fill="#231f20" text-anchor="middle" stroke="#231f20" stroke-width="0.06">10<tspan dy="-2.16" font-size="3.48">1</tspan></text>
<text transform="translate(467.40,289.90)" font-size="6.0" fill="#231f20" text-anchor="end" stroke="#231f20" stroke-width="0.06">10<tspan dy="-2.16" font-size="3.48">2</tspan></text>
<text transform="translate(491.45,315.50) scale(1.1,1)" font-size="6.0" fill="#231f20" text-anchor="middle" stroke="#231f20" stroke-width="0.06">10<tspan dy="-2.16" font-size="3.48">2</tspan></text>
<text transform="translate(467.40,280.40)" font-size="6.0" fill="#231f20" text-anchor="end" stroke="#231f20" stroke-width="0.06">10<tspan dy="-2.16" font-size="3.48">3</tspan></text>
<text transform="translate(500.73,315.50) scale(1.1,1)" font-size="6.0" fill="#231f20" text-anchor="middle" stroke="#231f20" stroke-width="0.06">10<tspan dy="-2.16" font-size="3.48">3</tspan></text>
<text transform="translate(467.40,270.90)" font-size="6.0" fill="#231f20" text-anchor="end" stroke="#231f20" stroke-width="0.06">10<tspan dy="-2.16" font-size="3.48">4</tspan></text>
<text transform="translate(510.00,315.50) scale(1.1,1)" font-size="6.0" fill="#231f20" text-anchor="middle" stroke="#231f20" stroke-width="0.06">10<tspan dy="-2.16" font-size="3.48">4</tspan></text>
<text transform="translate(455.57,286.70) rotate(-90)" x="0" y="0" font-size="8.2" fill="#231f20" text-anchor="middle" textLength="17.00" lengthAdjust="spacingAndGlyphs" stroke="#231f20" stroke-width="0.3">CD169</text>
<text x="507.60" y="274.50" font-size="5.9" fill="#231f20" text-anchor="end" textLength="12.75" lengthAdjust="spacingAndGlyphs" stroke="#231f20" stroke-width="0.1">92%</text>
<text x="507.90" y="304.30" font-size="5.9" fill="#231f20" text-anchor="end" textLength="9.21" lengthAdjust="spacingAndGlyphs" stroke="#231f20" stroke-width="0.1">7%</text>
<clipPath id="c27"><rect x="268.40" y="333.70" width="37.50" height="37.90"/></clipPath><g clip-path="url(#c27)">
<g filter="url(#spkK)">
<ellipse cx="285.50" cy="351.50" rx="8.00" ry="9.00" transform="rotate(0 285.50 351.50)" fill="#000" fill-opacity="0.716" filter="url(#b25)"/>
<ellipse cx="285.00" cy="363.00" rx="8.00" ry="5.00" transform="rotate(0 285.00 363.00)" fill="#000" fill-opacity="0.41" filter="url(#b20)"/>
<ellipse cx="276.00" cy="354.00" rx="5.00" ry="8.00" transform="rotate(0 276.00 354.00)" fill="#000" fill-opacity="0.265" filter="url(#b20)"/>
</g>
</g>
<line x1="278.50" y1="333.70" x2="278.50" y2="371.60" stroke="#c01820" stroke-width="1.3"/>
<line x1="268.40" y1="359.00" x2="305.90" y2="359.00" stroke="#c01820" stroke-width="1.3"/>
<rect x="268.40" y="333.70" width="37.50" height="37.90" fill="none" stroke="#231f20" stroke-width="1.0"/>
<path d="M268.40 333.70V371.60H305.90" fill="none" stroke="#111" stroke-width="1.4"/>
<path d="M268.40 371.60v2.0M268.40 371.60h-2.0M277.77 371.60v2.0M268.40 362.12h-2.0M287.15 371.60v2.0M268.40 352.65h-2.0M296.52 371.60v2.0M268.40 343.18h-2.0M305.90 371.60v2.0M268.40 333.70h-2.0" stroke="#111" stroke-width="0.8" fill="none"/>
<path d="M271.22 371.60v0.90M268.40 368.75h-0.90M272.87 371.60v0.90M268.40 367.08h-0.90M274.04 371.60v0.90M268.40 365.90h-0.90M274.95 371.60v0.90M268.40 364.98h-0.90M275.70 371.60v0.90M268.40 364.23h-0.90M276.32 371.60v0.90M268.40 363.59h-0.90M276.87 371.60v0.90M268.40 363.04h-0.90M277.35 371.60v0.90M268.40 362.56h-0.90M280.60 371.60v0.90M268.40 359.27h-0.90M282.25 371.60v0.90M268.40 357.60h-0.90M283.42 371.60v0.90M268.40 356.42h-0.90M284.33 371.60v0.90M268.40 355.50h-0.90M285.07 371.60v0.90M268.40 354.75h-0.90M285.70 371.60v0.90M268.40 354.12h-0.90M286.24 371.60v0.90M268.40 353.57h-0.90M286.72 371.60v0.90M268.40 353.08h-0.90M289.97 371.60v0.90M268.40 349.80h-0.90M291.62 371.60v0.90M268.40 348.13h-0.90M292.79 371.60v0.90M268.40 346.95h-0.90M293.70 371.60v0.90M268.40 346.03h-0.90M294.45 371.60v0.90M268.40 345.28h-0.90M295.07 371.60v0.90M268.40 344.64h-0.90M295.62 371.60v0.90M268.40 344.09h-0.90M296.10 371.60v0.90M268.40 343.61h-0.90M299.35 371.60v0.90M268.40 340.32h-0.90M301.00 371.60v0.90M268.40 338.65h-0.90M302.17 371.60v0.90M268.40 337.47h-0.90M303.08 371.60v0.90M268.40 336.55h-0.90M303.82 371.60v0.90M268.40 335.80h-0.90M304.45 371.60v0.90M268.40 335.17h-0.90M304.99 371.60v0.90M268.40 334.62h-0.90M305.47 371.60v0.90M268.40 334.13h-0.90" stroke="#111" stroke-width="0.45" fill="none"/>
<text transform="translate(263.40,374.30)" font-size="6.0" fill="#231f20" text-anchor="end" stroke="#231f20" stroke-width="0.06">10<tspan dy="-2.16" font-size="3.48">0</tspan></text>
<text transform="translate(268.90,380.90) scale(1.1,1)" font-size="6.0" fill="#231f20" text-anchor="middle" stroke="#231f20" stroke-width="0.06">10<tspan dy="-2.16" font-size="3.48">0</tspan></text>
<text transform="translate(263.40,364.82)" font-size="6.0" fill="#231f20" text-anchor="end" stroke="#231f20" stroke-width="0.06">10<tspan dy="-2.16" font-size="3.48">1</tspan></text>
<text transform="translate(278.27,380.90) scale(1.1,1)" font-size="6.0" fill="#231f20" text-anchor="middle" stroke="#231f20" stroke-width="0.06">10<tspan dy="-2.16" font-size="3.48">1</tspan></text>
<text transform="translate(263.40,355.35)" font-size="6.0" fill="#231f20" text-anchor="end" stroke="#231f20" stroke-width="0.06">10<tspan dy="-2.16" font-size="3.48">2</tspan></text>
<text transform="translate(287.65,380.90) scale(1.1,1)" font-size="6.0" fill="#231f20" text-anchor="middle" stroke="#231f20" stroke-width="0.06">10<tspan dy="-2.16" font-size="3.48">2</tspan></text>
<text transform="translate(263.40,345.88)" font-size="6.0" fill="#231f20" text-anchor="end" stroke="#231f20" stroke-width="0.06">10<tspan dy="-2.16" font-size="3.48">3</tspan></text>
<text transform="translate(297.02,380.90) scale(1.1,1)" font-size="6.0" fill="#231f20" text-anchor="middle" stroke="#231f20" stroke-width="0.06">10<tspan dy="-2.16" font-size="3.48">3</tspan></text>
<text transform="translate(263.40,336.40)" font-size="6.0" fill="#231f20" text-anchor="end" stroke="#231f20" stroke-width="0.06">10<tspan dy="-2.16" font-size="3.48">4</tspan></text>
<text transform="translate(306.40,380.90) scale(1.1,1)" font-size="6.0" fill="#231f20" text-anchor="middle" stroke="#231f20" stroke-width="0.06">10<tspan dy="-2.16" font-size="3.48">4</tspan></text>
<text transform="translate(249.88,353.35) rotate(-90)" x="0" y="0" font-size="6.8" fill="#231f20" text-anchor="middle" textLength="18.40" lengthAdjust="spacingAndGlyphs" stroke="#231f20" stroke-width="0.3">HLA-DR</text>
<text x="304.80" y="340.00" font-size="5.9" fill="#6a6a6a" text-anchor="end" textLength="12.75" lengthAdjust="spacingAndGlyphs" stroke="#6a6a6a" stroke-width="0.1">67%</text>
<text x="304.30" y="369.70" font-size="5.9" fill="#231f20" text-anchor="end" textLength="12.75" lengthAdjust="spacingAndGlyphs" stroke="#231f20" stroke-width="0.1">15%</text>
<clipPath id="c28"><rect x="335.80" y="333.70" width="37.30" height="37.90"/></clipPath><g clip-path="url(#c28)">
<g filter="url(#spkK)">
<ellipse cx="352.50" cy="353.50" rx="8.50" ry="5.20" transform="rotate(-35 352.50 353.50)" fill="#000" fill-opacity="0.716" filter="url(#b22)"/>
<ellipse cx="341.00" cy="365.00" rx="3.50" ry="4.00" transform="rotate(0 341.00 365.00)" fill="#000" fill-opacity="0.572" filter="url(#b15)"/>
</g>
</g>
<line x1="345.90" y1="333.70" x2="345.90" y2="371.60" stroke="#c01820" stroke-width="1.3"/>
<line x1="335.80" y1="360.00" x2="373.10" y2="360.00" stroke="#c01820" stroke-width="1.3"/>
<rect x="335.80" y="333.70" width="37.30" height="37.90" fill="none" stroke="#231f20" stroke-width="1.0"/>
<path d="M335.80 333.70V371.60H373.10" fill="none" stroke="#111" stroke-width="1.4"/>
<path d="M335.80 371.60v2.0M335.80 371.60h-2.0M345.12 371.60v2.0M335.80 362.12h-2.0M354.45 371.60v2.0M335.80 352.65h-2.0M363.78 371.60v2.0M335.80 343.18h-2.0M373.10 371.60v2.0M335.80 333.70h-2.0" stroke="#111" stroke-width="0.8" fill="none"/>
<path d="M338.61 371.60v0.90M335.80 368.75h-0.90M340.25 371.60v0.90M335.80 367.08h-0.90M341.41 371.60v0.90M335.80 365.90h-0.90M342.32 371.60v0.90M335.80 364.98h-0.90M343.06 371.60v0.90M335.80 364.23h-0.90M343.68 371.60v0.90M335.80 363.59h-0.90M344.22 371.60v0.90M335.80 363.04h-0.90M344.70 371.60v0.90M335.80 362.56h-0.90M347.93 371.60v0.90M335.80 359.27h-0.90M349.57 371.60v0.90M335.80 357.60h-0.90M350.74 371.60v0.90M335.80 356.42h-0.90M351.64 371.60v0.90M335.80 355.50h-0.90M352.38 371.60v0.90M335.80 354.75h-0.90M353.01 371.60v0.90M335.80 354.12h-0.90M353.55 371.60v0.90M335.80 353.57h-0.90M354.02 371.60v0.90M335.80 353.08h-0.90M357.26 371.60v0.90M335.80 349.80h-0.90M358.90 371.60v0.90M335.80 348.13h-0.90M360.06 371.60v0.90M335.80 346.95h-0.90M360.97 371.60v0.90M335.80 346.03h-0.90M361.71 371.60v0.90M335.80 345.28h-0.90M362.33 371.60v0.90M335.80 344.64h-0.90M362.87 371.60v0.90M335.80 344.09h-0.90M363.35 371.60v0.90M335.80 343.61h-0.90M366.58 371.60v0.90M335.80 340.32h-0.90M368.22 371.60v0.90M335.80 338.65h-0.90M369.39 371.60v0.90M335.80 337.47h-0.90M370.29 371.60v0.90M335.80 336.55h-0.90M371.03 371.60v0.90M335.80 335.80h-0.90M371.66 371.60v0.90M335.80 335.17h-0.90M372.20 371.60v0.90M335.80 334.62h-0.90M372.67 371.60v0.90M335.80 334.13h-0.90" stroke="#111" stroke-width="0.45" fill="none"/>
<text transform="translate(330.80,374.30)" font-size="6.0" fill="#231f20" text-anchor="end" stroke="#231f20" stroke-width="0.06">10<tspan dy="-2.16" font-size="3.48">0</tspan></text>
<text transform="translate(336.30,380.90) scale(1.1,1)" font-size="6.0" fill="#231f20" text-anchor="middle" stroke="#231f20" stroke-width="0.06">10<tspan dy="-2.16" font-size="3.48">0</tspan></text>
<text transform="translate(330.80,364.82)" font-size="6.0" fill="#231f20" text-anchor="end" stroke="#231f20" stroke-width="0.06">10<tspan dy="-2.16" font-size="3.48">1</tspan></text>
<text transform="translate(345.62,380.90) scale(1.1,1)" font-size="6.0" fill="#231f20" text-anchor="middle" stroke="#231f20" stroke-width="0.06">10<tspan dy="-2.16" font-size="3.48">1</tspan></text>
<text transform="translate(330.80,355.35)" font-size="6.0" fill="#231f20" text-anchor="end" stroke="#231f20" stroke-width="0.06">10<tspan dy="-2.16" font-size="3.48">2</tspan></text>
<text transform="translate(354.95,380.90) scale(1.1,1)" font-size="6.0" fill="#231f20" text-anchor="middle" stroke="#231f20" stroke-width="0.06">10<tspan dy="-2.16" font-size="3.48">2</tspan></text>
<text transform="translate(330.80,345.88)" font-size="6.0" fill="#231f20" text-anchor="end" stroke="#231f20" stroke-width="0.06">10<tspan dy="-2.16" font-size="3.48">3</tspan></text>
<text transform="translate(364.28,380.90) scale(1.1,1)" font-size="6.0" fill="#231f20" text-anchor="middle" stroke="#231f20" stroke-width="0.06">10<tspan dy="-2.16" font-size="3.48">3</tspan></text>
<text transform="translate(330.80,336.40)" font-size="6.0" fill="#231f20" text-anchor="end" stroke="#231f20" stroke-width="0.06">10<tspan dy="-2.16" font-size="3.48">4</tspan></text>
<text transform="translate(373.60,380.90) scale(1.1,1)" font-size="6.0" fill="#231f20" text-anchor="middle" stroke="#231f20" stroke-width="0.06">10<tspan dy="-2.16" font-size="3.48">4</tspan></text>
<text transform="translate(318.87,353.35) rotate(-90)" x="0" y="0" font-size="8.2" fill="#231f20" text-anchor="middle" textLength="13.10" lengthAdjust="spacingAndGlyphs" stroke="#231f20" stroke-width="0.3">CD40</text>
<text x="372.00" y="340.00" font-size="5.9" fill="#6a6a6a" text-anchor="end" textLength="12.75" lengthAdjust="spacingAndGlyphs" stroke="#6a6a6a" stroke-width="0.1">73%</text>
<text x="371.50" y="369.70" font-size="5.9" fill="#231f20" text-anchor="end" textLength="9.21" lengthAdjust="spacingAndGlyphs" stroke="#231f20" stroke-width="0.1">7%</text>
<clipPath id="c29"><rect x="404.20" y="333.70" width="36.80" height="37.90"/></clipPath><g clip-path="url(#c29)">
<g filter="url(#spkK)">
<ellipse cx="420.50" cy="360.00" rx="7.50" ry="7.00" transform="rotate(0 420.50 360.00)" fill="#000" fill-opacity="0.616" filter="url(#b25)"/>
<ellipse cx="410.00" cy="366.00" rx="5.00" ry="4.00" transform="rotate(0 410.00 366.00)" fill="#000" fill-opacity="0.48" filter="url(#b20)"/>
<ellipse cx="425.00" cy="351.00" rx="7.00" ry="6.00" transform="rotate(0 425.00 351.00)" fill="#000" fill-opacity="0.227" filter="url(#b20)"/>
</g>
</g>
<line x1="414.20" y1="333.70" x2="414.20" y2="371.60" stroke="#c01820" stroke-width="1.3"/>
<line x1="404.20" y1="360.90" x2="441.00" y2="360.90" stroke="#c01820" stroke-width="1.3"/>
<rect x="404.20" y="333.70" width="36.80" height="37.90" fill="none" stroke="#231f20" stroke-width="1.0"/>
<path d="M404.20 333.70V371.60H441.00" fill="none" stroke="#111" stroke-width="1.4"/>
<path d="M404.20 371.60v2.0M404.20 371.60h-2.0M413.40 371.60v2.0M404.20 362.12h-2.0M422.60 371.60v2.0M404.20 352.65h-2.0M431.80 371.60v2.0M404.20 343.18h-2.0M441.00 371.60v2.0M404.20 333.70h-2.0" stroke="#111" stroke-width="0.8" fill="none"/>
<path d="M406.97 371.60v0.90M404.20 368.75h-0.90M408.59 371.60v0.90M404.20 367.08h-0.90M409.74 371.60v0.90M404.20 365.90h-0.90M410.63 371.60v0.90M404.20 364.98h-0.90M411.36 371.60v0.90M404.20 364.23h-0.90M411.97 371.60v0.90M404.20 363.59h-0.90M412.51 371.60v0.90M404.20 363.04h-0.90M412.98 371.60v0.90M404.20 362.56h-0.90M416.17 371.60v0.90M404.20 359.27h-0.90M417.79 371.60v0.90M404.20 357.60h-0.90M418.94 371.60v0.90M404.20 356.42h-0.90M419.83 371.60v0.90M404.20 355.50h-0.90M420.56 371.60v0.90M404.20 354.75h-0.90M421.17 371.60v0.90M404.20 354.12h-0.90M421.71 371.60v0.90M404.20 353.57h-0.90M422.18 371.60v0.90M404.20 353.08h-0.90M425.37 371.60v0.90M404.20 349.80h-0.90M426.99 371.60v0.90M404.20 348.13h-0.90M428.14 371.60v0.90M404.20 346.95h-0.90M429.03 371.60v0.90M404.20 346.03h-0.90M429.76 371.60v0.90M404.20 345.28h-0.90M430.37 371.60v0.90M404.20 344.64h-0.90M430.91 371.60v0.90M404.20 344.09h-0.90M431.38 371.60v0.90M404.20 343.61h-0.90M434.57 371.60v0.90M404.20 340.32h-0.90M436.19 371.60v0.90M404.20 338.65h-0.90M437.34 371.60v0.90M404.20 337.47h-0.90M438.23 371.60v0.90M404.20 336.55h-0.90M438.96 371.60v0.90M404.20 335.80h-0.90M439.57 371.60v0.90M404.20 335.17h-0.90M440.11 371.60v0.90M404.20 334.62h-0.90M440.58 371.60v0.90M404.20 334.13h-0.90" stroke="#111" stroke-width="0.45" fill="none"/>
<text transform="translate(399.20,374.30)" font-size="6.0" fill="#231f20" text-anchor="end" stroke="#231f20" stroke-width="0.06">10<tspan dy="-2.16" font-size="3.48">0</tspan></text>
<text transform="translate(404.70,380.90) scale(1.1,1)" font-size="6.0" fill="#231f20" text-anchor="middle" stroke="#231f20" stroke-width="0.06">10<tspan dy="-2.16" font-size="3.48">0</tspan></text>
<text transform="translate(399.20,364.82)" font-size="6.0" fill="#231f20" text-anchor="end" stroke="#231f20" stroke-width="0.06">10<tspan dy="-2.16" font-size="3.48">1</tspan></text>
<text transform="translate(413.90,380.90) scale(1.1,1)" font-size="6.0" fill="#231f20" text-anchor="middle" stroke="#231f20" stroke-width="0.06">10<tspan dy="-2.16" font-size="3.48">1</tspan></text>
<text transform="translate(399.20,355.35)" font-size="6.0" fill="#231f20" text-anchor="end" stroke="#231f20" stroke-width="0.06">10<tspan dy="-2.16" font-size="3.48">2</tspan></text>
<text transform="translate(423.10,380.90) scale(1.1,1)" font-size="6.0" fill="#231f20" text-anchor="middle" stroke="#231f20" stroke-width="0.06">10<tspan dy="-2.16" font-size="3.48">2</tspan></text>
<text transform="translate(399.20,345.88)" font-size="6.0" fill="#231f20" text-anchor="end" stroke="#231f20" stroke-width="0.06">10<tspan dy="-2.16" font-size="3.48">3</tspan></text>
<text transform="translate(432.30,380.90) scale(1.1,1)" font-size="6.0" fill="#231f20" text-anchor="middle" stroke="#231f20" stroke-width="0.06">10<tspan dy="-2.16" font-size="3.48">3</tspan></text>
<text transform="translate(399.20,336.40)" font-size="6.0" fill="#231f20" text-anchor="end" stroke="#231f20" stroke-width="0.06">10<tspan dy="-2.16" font-size="3.48">4</tspan></text>
<text transform="translate(441.50,380.90) scale(1.1,1)" font-size="6.0" fill="#231f20" text-anchor="middle" stroke="#231f20" stroke-width="0.06">10<tspan dy="-2.16" font-size="3.48">4</tspan></text>
<text transform="translate(387.17,353.35) rotate(-90)" x="0" y="0" font-size="8.2" fill="#231f20" text-anchor="middle" textLength="13.10" lengthAdjust="spacingAndGlyphs" stroke="#231f20" stroke-width="0.3">CD83</text>
<text x="439.90" y="340.00" font-size="5.9" fill="#231f20" text-anchor="end" textLength="12.75" lengthAdjust="spacingAndGlyphs" stroke="#231f20" stroke-width="0.1">34%</text>
<text x="439.40" y="369.70" font-size="5.9" fill="#231f20" text-anchor="end" textLength="12.75" lengthAdjust="spacingAndGlyphs" stroke="#231f20" stroke-width="0.1">51%</text>
<clipPath id="c30"><rect x="472.40" y="333.70" width="37.10" height="37.90"/></clipPath><g clip-path="url(#c30)">
<g filter="url(#spkK)">
<ellipse cx="488.50" cy="343.50" rx="6.50" ry="6.00" transform="rotate(0 488.50 343.50)" fill="#000" fill-opacity="0.795" filter="url(#b22)"/>
<ellipse cx="482.00" cy="352.00" rx="5.00" ry="10.00" transform="rotate(30 482.00 352.00)" fill="#000" fill-opacity="0.45" filter="url(#b20)"/>
<ellipse cx="500.00" cy="338.00" rx="7.00" ry="4.00" transform="rotate(0 500.00 338.00)" fill="#000" fill-opacity="0.379" filter="url(#b20)"/>
</g>
</g>
<line x1="482.50" y1="333.70" x2="482.50" y2="371.60" stroke="#c01820" stroke-width="1.3"/>
<line x1="472.40" y1="361.50" x2="509.50" y2="361.50" stroke="#c01820" stroke-width="1.3"/>
<rect x="472.40" y="333.70" width="37.10" height="37.90" fill="none" stroke="#231f20" stroke-width="1.0"/>
<path d="M472.40 333.70V371.60H509.50" fill="none" stroke="#111" stroke-width="1.4"/>
<path d="M472.40 371.60v2.0M472.40 371.60h-2.0M481.67 371.60v2.0M472.40 362.12h-2.0M490.95 371.60v2.0M472.40 352.65h-2.0M500.23 371.60v2.0M472.40 343.18h-2.0M509.50 371.60v2.0M472.40 333.70h-2.0" stroke="#111" stroke-width="0.8" fill="none"/>
<path d="M475.19 371.60v0.90M472.40 368.75h-0.90M476.83 371.60v0.90M472.40 367.08h-0.90M477.98 371.60v0.90M472.40 365.90h-0.90M478.88 371.60v0.90M472.40 364.98h-0.90M479.62 371.60v0.90M472.40 364.23h-0.90M480.24 371.60v0.90M472.40 363.59h-0.90M480.78 371.60v0.90M472.40 363.04h-0.90M481.25 371.60v0.90M472.40 362.56h-0.90M484.47 371.60v0.90M472.40 359.27h-0.90M486.10 371.60v0.90M472.40 357.60h-0.90M487.26 371.60v0.90M472.40 356.42h-0.90M488.16 371.60v0.90M472.40 355.50h-0.90M488.89 371.60v0.90M472.40 354.75h-0.90M489.51 371.60v0.90M472.40 354.12h-0.90M490.05 371.60v0.90M472.40 353.57h-0.90M490.53 371.60v0.90M472.40 353.08h-0.90M493.74 371.60v0.90M472.40 349.80h-0.90M495.38 371.60v0.90M472.40 348.13h-0.90M496.53 371.60v0.90M472.40 346.95h-0.90M497.43 371.60v0.90M472.40 346.03h-0.90M498.17 371.60v0.90M472.40 345.28h-0.90M498.79 371.60v0.90M472.40 344.64h-0.90M499.33 371.60v0.90M472.40 344.09h-0.90M499.80 371.60v0.90M472.40 343.61h-0.90M503.02 371.60v0.90M472.40 340.32h-0.90M504.65 371.60v0.90M472.40 338.65h-0.90M505.81 371.60v0.90M472.40 337.47h-0.90M506.71 371.60v0.90M472.40 336.55h-0.90M507.44 371.60v0.90M472.40 335.80h-0.90M508.06 371.60v0.90M472.40 335.17h-0.90M508.60 371.60v0.90M472.40 334.62h-0.90M509.08 371.60v0.90M472.40 334.13h-0.90" stroke="#111" stroke-width="0.45" fill="none"/>
<text transform="translate(467.40,374.30)" font-size="6.0" fill="#231f20" text-anchor="end" stroke="#231f20" stroke-width="0.06">10<tspan dy="-2.16" font-size="3.48">0</tspan></text>
<text transform="translate(472.90,380.90) scale(1.1,1)" font-size="6.0" fill="#231f20" text-anchor="middle" stroke="#231f20" stroke-width="0.06">10<tspan dy="-2.16" font-size="3.48">0</tspan></text>
<text transform="translate(467.40,364.82)" font-size="6.0" fill="#231f20" text-anchor="end" stroke="#231f20" stroke-width="0.06">10<tspan dy="-2.16" font-size="3.48">1</tspan></text>
<text transform="translate(482.17,380.90) scale(1.1,1)" font-size="6.0" fill="#231f20" text-anchor="middle" stroke="#231f20" stroke-width="0.06">10<tspan dy="-2.16" font-size="3.48">1</tspan></text>
<text transform="translate(467.40,355.35)" font-size="6.0" fill="#231f20" text-anchor="end" stroke="#231f20" stroke-width="0.06">10<tspan dy="-2.16" font-size="3.48">2</tspan></text>
<text transform="translate(491.45,380.90) scale(1.1,1)" font-size="6.0" fill="#231f20" text-anchor="middle" stroke="#231f20" stroke-width="0.06">10<tspan dy="-2.16" font-size="3.48">2</tspan></text>
<text transform="translate(467.40,345.88)" font-size="6.0" fill="#231f20" text-anchor="end" stroke="#231f20" stroke-width="0.06">10<tspan dy="-2.16" font-size="3.48">3</tspan></text>
<text transform="translate(500.73,380.90) scale(1.1,1)" font-size="6.0" fill="#231f20" text-anchor="middle" stroke="#231f20" stroke-width="0.06">10<tspan dy="-2.16" font-size="3.48">3</tspan></text>
<text transform="translate(467.40,336.40)" font-size="6.0" fill="#231f20" text-anchor="end" stroke="#231f20" stroke-width="0.06">10<tspan dy="-2.16" font-size="3.48">4</tspan></text>
<text transform="translate(510.00,380.90) scale(1.1,1)" font-size="6.0" fill="#231f20" text-anchor="middle" stroke="#231f20" stroke-width="0.06">10<tspan dy="-2.16" font-size="3.48">4</tspan></text>
<text transform="translate(455.57,353.35) rotate(-90)" x="0" y="0" font-size="8.2" fill="#231f20" text-anchor="middle" textLength="17.00" lengthAdjust="spacingAndGlyphs" stroke="#231f20" stroke-width="0.3">CD169</text>
<text x="508.40" y="340.00" font-size="5.9" fill="#231f20" text-anchor="end" textLength="12.75" lengthAdjust="spacingAndGlyphs" stroke="#231f20" stroke-width="0.1">82%</text>
<line x1="264.20" y1="323.00" x2="378.90" y2="323.00" stroke="#555" stroke-width="1.3"/>
<line x1="399.10" y1="323.00" x2="513.20" y2="323.00" stroke="#555" stroke-width="1.3"/>
<text x="389.00" y="326.00" font-size="8.5" fill="#231f20" text-anchor="middle" textLength="16.50" lengthAdjust="spacingAndGlyphs" stroke="#231f20" stroke-width="0.3">CD11c</text>
<line x1="264.20" y1="388.60" x2="378.90" y2="388.60" stroke="#555" stroke-width="1.3"/>
<line x1="399.10" y1="388.60" x2="513.20" y2="388.60" stroke="#555" stroke-width="1.3"/>
<text x="389.00" y="391.60" font-size="8.5" fill="#231f20" text-anchor="middle" textLength="16.50" lengthAdjust="spacingAndGlyphs" stroke="#231f20" stroke-width="0.3">CD11c</text>
<rect x="0.5" y="0.5" width="519" height="411" fill="none" stroke="#111" stroke-width="1.2"/>
</svg>
</body></html>
